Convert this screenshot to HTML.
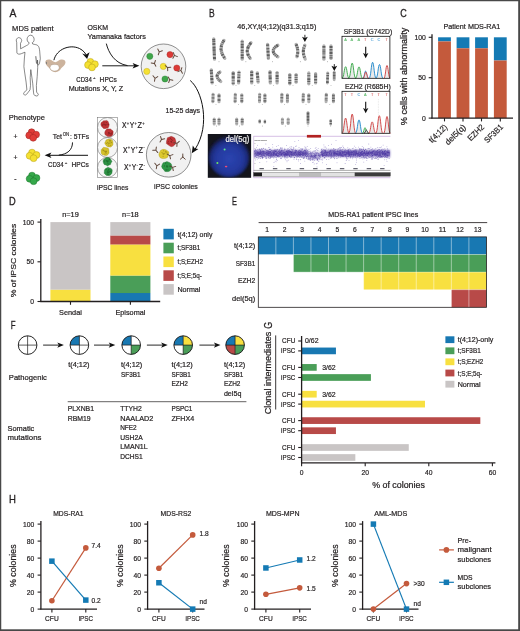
<!DOCTYPE html>
<html><head><meta charset="utf-8"><title>Figure</title>
<style>
html,body{margin:0;padding:0;background:#fff;}
body{width:520px;height:631px;overflow:hidden;font-family:"Liberation Sans",sans-serif;}
svg{display:block;font-family:"Liberation Sans",sans-serif;}
</style></head><body>
<svg width="520" height="631" viewBox="0 0 520 631">
<defs>
<filter id="b0" x="-20%" y="-20%" width="140%" height="140%"><feGaussianBlur stdDeviation="0.48"/></filter>
<filter id="b1" x="-20%" y="-20%" width="140%" height="140%"><feGaussianBlur stdDeviation="0.45"/></filter>
<filter id="b2" x="-20%" y="-20%" width="140%" height="140%"><feGaussianBlur stdDeviation="0.8"/></filter>
<filter id="b3" x="-20%" y="-20%" width="140%" height="140%"><feGaussianBlur stdDeviation="3"/></filter>
<radialGradient id="nuc" cx="50%" cy="55%" r="50%"><stop offset="0" stop-color="#2b45b0"/><stop offset="0.65" stop-color="#24389e"/><stop offset="0.9" stop-color="#1b2a7a"/><stop offset="1" stop-color="#151a44"/></radialGradient>
<marker id="ah" viewBox="0 0 10 10" refX="8" refY="5" markerWidth="7" markerHeight="7" orient="auto-start-reverse" markerUnits="userSpaceOnUse"><path d="M0,1 L10,5 L0,9 L2.5,5 z" fill="#111"/></marker>
</defs>
<rect x="0.00" y="0.00" width="520.00" height="631.00" fill="#ffffff"/>
<text x="9.40" y="16.72" font-size="11.3" textLength="6.90" lengthAdjust="spacingAndGlyphs" fill="#231f20" stroke="#231f20" stroke-width="0.31">A</text>
<text x="208.90" y="16.52" font-size="11.3" textLength="5.70" lengthAdjust="spacingAndGlyphs" fill="#231f20" stroke="#231f20" stroke-width="0.31">B</text>
<text x="400.20" y="16.72" font-size="11.3" textLength="6.50" lengthAdjust="spacingAndGlyphs" fill="#231f20" stroke="#231f20" stroke-width="0.31">C</text>
<text x="8.90" y="204.62" font-size="11.3" textLength="6.70" lengthAdjust="spacingAndGlyphs" fill="#231f20" stroke="#231f20" stroke-width="0.31">D</text>
<text x="232.10" y="204.62" font-size="11.3" textLength="4.90" lengthAdjust="spacingAndGlyphs" fill="#231f20" stroke="#231f20" stroke-width="0.31">E</text>
<text x="10.70" y="329.02" font-size="11.3" textLength="4.80" lengthAdjust="spacingAndGlyphs" fill="#231f20" stroke="#231f20" stroke-width="0.31">F</text>
<text x="268.20" y="329.02" font-size="11.3" text-anchor="middle" textLength="6.90" lengthAdjust="spacingAndGlyphs" fill="#231f20" stroke="#231f20" stroke-width="0.31" transform="rotate(-90 268.20 325.40)">G</text>
<text x="8.90" y="503.32" font-size="11.3" textLength="6.90" lengthAdjust="spacingAndGlyphs" fill="#231f20" stroke="#231f20" stroke-width="0.31">H</text>
<rect x="438.10" y="37.30" width="12.80" height="4.12" fill="#147ab4"/>
<rect x="438.10" y="41.42" width="12.80" height="76.68" fill="#c45a3c"/>
<rect x="456.60" y="37.30" width="12.80" height="10.99" fill="#147ab4"/>
<rect x="456.60" y="48.29" width="12.80" height="69.81" fill="#c45a3c"/>
<rect x="475.10" y="37.30" width="12.80" height="10.99" fill="#147ab4"/>
<rect x="475.10" y="48.29" width="12.80" height="69.81" fill="#c45a3c"/>
<rect x="493.90" y="37.30" width="12.80" height="23.19" fill="#147ab4"/>
<rect x="493.90" y="60.49" width="12.80" height="57.61" fill="#c45a3c"/>
<line x1="432.00" y1="34.20" x2="432.00" y2="118.60" stroke="#231f20" stroke-width="1.3"/>
<line x1="431.50" y1="118.10" x2="513.00" y2="118.10" stroke="#231f20" stroke-width="1.3"/>
<line x1="428.70" y1="118.10" x2="432.00" y2="118.10" stroke="#231f20" stroke-width="1.1"/>
<text x="425.80" y="120.69" font-size="8.1" text-anchor="end" textLength="3.80" lengthAdjust="spacingAndGlyphs" fill="#231f20" stroke="#231f20" stroke-width="0.22">0</text>
<line x1="428.70" y1="77.70" x2="432.00" y2="77.70" stroke="#231f20" stroke-width="1.1"/>
<text x="425.80" y="80.29" font-size="8.1" text-anchor="end" textLength="7.60" lengthAdjust="spacingAndGlyphs" fill="#231f20" stroke="#231f20" stroke-width="0.22">50</text>
<line x1="428.70" y1="37.30" x2="432.00" y2="37.30" stroke="#231f20" stroke-width="1.1"/>
<text x="425.80" y="39.89" font-size="8.1" text-anchor="end" textLength="11.40" lengthAdjust="spacingAndGlyphs" fill="#231f20" stroke="#231f20" stroke-width="0.22">100</text>
<line x1="444.50" y1="118.10" x2="444.50" y2="121.40" stroke="#231f20" stroke-width="1.1"/>
<text x="447.80" y="127.60" font-size="8.3" text-anchor="end" textLength="22.20" lengthAdjust="spacingAndGlyphs" fill="#231f20" stroke="#231f20" stroke-width="0.2" transform="rotate(-45 447.80 127.60)">t(4;12)</text>
<line x1="463.00" y1="118.10" x2="463.00" y2="121.40" stroke="#231f20" stroke-width="1.1"/>
<text x="466.30" y="127.60" font-size="8.3" text-anchor="end" textLength="25.40" lengthAdjust="spacingAndGlyphs" fill="#231f20" stroke="#231f20" stroke-width="0.2" transform="rotate(-45 466.30 127.60)">del5(q)</text>
<line x1="481.50" y1="118.10" x2="481.50" y2="121.40" stroke="#231f20" stroke-width="1.1"/>
<text x="484.80" y="127.60" font-size="8.3" text-anchor="end" textLength="19.80" lengthAdjust="spacingAndGlyphs" fill="#231f20" stroke="#231f20" stroke-width="0.2" transform="rotate(-45 484.80 127.60)">EZH2</text>
<line x1="500.30" y1="118.10" x2="500.30" y2="121.40" stroke="#231f20" stroke-width="1.1"/>
<text x="503.60" y="127.60" font-size="8.3" text-anchor="end" textLength="22.60" lengthAdjust="spacingAndGlyphs" fill="#231f20" stroke="#231f20" stroke-width="0.2" transform="rotate(-45 503.60 127.60)">SF3B1</text>
<text x="471.90" y="29.02" font-size="7.56" text-anchor="middle" textLength="57.00" lengthAdjust="spacingAndGlyphs" fill="#231f20" stroke="#231f20" stroke-width="0.21">Patient MDS-RA1</text>
<text x="404.60" y="79.25" font-size="8.6" text-anchor="middle" textLength="97.50" lengthAdjust="spacingAndGlyphs" fill="#231f20" stroke="#231f20" stroke-width="0.24" transform="rotate(-90 404.60 76.50)">% cells with abnormality</text>
<rect x="50.40" y="289.59" width="40.10" height="11.96" fill="#f8e040"/>
<rect x="50.40" y="222.10" width="40.10" height="67.54" fill="#c9c5c5"/>
<rect x="110.30" y="293.00" width="40.10" height="8.55" fill="#1878b2"/>
<rect x="110.30" y="275.54" width="40.10" height="17.52" fill="#4a9e58"/>
<rect x="110.30" y="244.41" width="40.10" height="31.17" fill="#f8e040"/>
<rect x="110.30" y="235.44" width="40.10" height="9.02" fill="#b84a48"/>
<rect x="110.30" y="222.10" width="40.10" height="13.39" fill="#c9c5c5"/>
<line x1="40.80" y1="218.90" x2="40.80" y2="302.00" stroke="#231f20" stroke-width="1.3"/>
<line x1="40.30" y1="301.50" x2="160.20" y2="301.50" stroke="#231f20" stroke-width="1.3"/>
<line x1="37.50" y1="301.50" x2="40.80" y2="301.50" stroke="#231f20" stroke-width="1.1"/>
<text x="34.10" y="304.09" font-size="8.1" text-anchor="end" textLength="3.75" lengthAdjust="spacingAndGlyphs" fill="#231f20" stroke="#231f20" stroke-width="0.22">0</text>
<line x1="37.50" y1="261.80" x2="40.80" y2="261.80" stroke="#231f20" stroke-width="1.1"/>
<text x="34.10" y="264.39" font-size="8.1" text-anchor="end" textLength="7.50" lengthAdjust="spacingAndGlyphs" fill="#231f20" stroke="#231f20" stroke-width="0.22">50</text>
<line x1="37.50" y1="222.10" x2="40.80" y2="222.10" stroke="#231f20" stroke-width="1.1"/>
<text x="34.10" y="224.69" font-size="8.1" text-anchor="end" textLength="11.25" lengthAdjust="spacingAndGlyphs" fill="#231f20" stroke="#231f20" stroke-width="0.22">100</text>
<line x1="70.50" y1="301.50" x2="70.50" y2="304.80" stroke="#231f20" stroke-width="1.1"/>
<text x="70.50" y="314.65" font-size="7.668" text-anchor="middle" textLength="22.80" lengthAdjust="spacingAndGlyphs" fill="#231f20" stroke="#231f20" stroke-width="0.21">Sendai</text>
<text x="70.50" y="217.02" font-size="7.56" text-anchor="middle" textLength="16.60" lengthAdjust="spacingAndGlyphs" fill="#231f20" stroke="#231f20" stroke-width="0.21">n=19</text>
<line x1="130.40" y1="301.50" x2="130.40" y2="304.80" stroke="#231f20" stroke-width="1.1"/>
<text x="130.40" y="314.65" font-size="7.668" text-anchor="middle" textLength="30.00" lengthAdjust="spacingAndGlyphs" fill="#231f20" stroke="#231f20" stroke-width="0.21">Episomal</text>
<text x="130.40" y="217.02" font-size="7.56" text-anchor="middle" textLength="16.60" lengthAdjust="spacingAndGlyphs" fill="#231f20" stroke="#231f20" stroke-width="0.21">n=18</text>
<text x="13.20" y="262.93" font-size="7.6" text-anchor="middle" textLength="73.50" lengthAdjust="spacingAndGlyphs" fill="#231f20" stroke="#231f20" stroke-width="0.21" transform="rotate(-90 13.20 260.50)">% of iPSC colonies</text>
<rect x="163.40" y="228.80" width="10.40" height="10.60" fill="#1878b2"/>
<text x="177.40" y="236.55" font-size="7.668" textLength="35.00" lengthAdjust="spacingAndGlyphs" fill="#231f20" stroke="#231f20" stroke-width="0.21">t(4;12) only</text>
<rect x="163.40" y="242.70" width="10.40" height="10.60" fill="#4a9e58"/>
<text x="177.40" y="250.45" font-size="7.668" textLength="23.00" lengthAdjust="spacingAndGlyphs" fill="#231f20" stroke="#231f20" stroke-width="0.21">t;SF3B1</text>
<rect x="163.40" y="256.50" width="10.40" height="10.60" fill="#f8e040"/>
<text x="177.40" y="264.25" font-size="7.668" textLength="25.50" lengthAdjust="spacingAndGlyphs" fill="#231f20" stroke="#231f20" stroke-width="0.21">t;S;EZH2</text>
<rect x="163.40" y="270.30" width="10.40" height="10.60" fill="#b84a48"/>
<text x="177.40" y="278.05" font-size="7.668" textLength="24.50" lengthAdjust="spacingAndGlyphs" fill="#231f20" stroke="#231f20" stroke-width="0.21">t;S;E;5q-</text>
<rect x="163.40" y="284.10" width="10.40" height="10.60" fill="#c9c5c5"/>
<text x="177.40" y="291.85" font-size="7.668" textLength="23.00" lengthAdjust="spacingAndGlyphs" fill="#231f20" stroke="#231f20" stroke-width="0.21">Normal</text>
<rect x="258.30" y="236.90" width="228.15" height="17.60" fill="#1878b2"/>
<text x="255.20" y="248.15" font-size="7.668" text-anchor="end" textLength="21.30" lengthAdjust="spacingAndGlyphs" fill="#231f20" stroke="#231f20" stroke-width="0.21">t(4;12)</text>
<rect x="293.40" y="254.50" width="193.05" height="17.60" fill="#4a9e58"/>
<text x="255.20" y="265.75" font-size="7.668" text-anchor="end" textLength="19.50" lengthAdjust="spacingAndGlyphs" fill="#231f20" stroke="#231f20" stroke-width="0.21">SF3B1</text>
<rect x="363.60" y="272.10" width="122.85" height="17.60" fill="#f8e040"/>
<text x="255.20" y="283.35" font-size="7.668" text-anchor="end" textLength="17.30" lengthAdjust="spacingAndGlyphs" fill="#231f20" stroke="#231f20" stroke-width="0.21">EZH2</text>
<rect x="451.35" y="289.70" width="35.10" height="17.60" fill="#b84a48"/>
<text x="255.20" y="300.95" font-size="7.668" text-anchor="end" textLength="23.20" lengthAdjust="spacingAndGlyphs" fill="#231f20" stroke="#231f20" stroke-width="0.21">del(5q)</text>
<line x1="275.85" y1="236.90" x2="275.85" y2="307.30" stroke="#ffffff" stroke-width="0.55" stroke-opacity="0.85"/>
<line x1="293.40" y1="236.90" x2="293.40" y2="307.30" stroke="#ffffff" stroke-width="0.55" stroke-opacity="0.85"/>
<line x1="310.95" y1="236.90" x2="310.95" y2="307.30" stroke="#ffffff" stroke-width="0.55" stroke-opacity="0.85"/>
<line x1="328.50" y1="236.90" x2="328.50" y2="307.30" stroke="#ffffff" stroke-width="0.55" stroke-opacity="0.85"/>
<line x1="346.05" y1="236.90" x2="346.05" y2="307.30" stroke="#ffffff" stroke-width="0.55" stroke-opacity="0.85"/>
<line x1="363.60" y1="236.90" x2="363.60" y2="307.30" stroke="#ffffff" stroke-width="0.55" stroke-opacity="0.85"/>
<line x1="381.15" y1="236.90" x2="381.15" y2="307.30" stroke="#ffffff" stroke-width="0.55" stroke-opacity="0.85"/>
<line x1="398.70" y1="236.90" x2="398.70" y2="307.30" stroke="#ffffff" stroke-width="0.55" stroke-opacity="0.85"/>
<line x1="416.25" y1="236.90" x2="416.25" y2="307.30" stroke="#ffffff" stroke-width="0.55" stroke-opacity="0.85"/>
<line x1="433.80" y1="236.90" x2="433.80" y2="307.30" stroke="#ffffff" stroke-width="0.55" stroke-opacity="0.85"/>
<line x1="451.35" y1="236.90" x2="451.35" y2="307.30" stroke="#ffffff" stroke-width="0.55" stroke-opacity="0.85"/>
<line x1="468.90" y1="236.90" x2="468.90" y2="307.30" stroke="#ffffff" stroke-width="0.55" stroke-opacity="0.85"/>
<line x1="258.30" y1="254.50" x2="486.45" y2="254.50" stroke="#ffffff" stroke-width="0.45" stroke-opacity="0.7"/>
<line x1="258.30" y1="272.10" x2="486.45" y2="272.10" stroke="#ffffff" stroke-width="0.45" stroke-opacity="0.7"/>
<line x1="258.30" y1="289.70" x2="486.45" y2="289.70" stroke="#ffffff" stroke-width="0.45" stroke-opacity="0.7"/>
<rect x="258.30" y="236.90" width="228.15" height="70.40" fill="none" stroke="#231f20" stroke-width="0.8"/>
<line x1="258.60" y1="222.60" x2="487.20" y2="222.60" stroke="#231f20" stroke-width="0.85"/>
<text x="267.07" y="232.29" font-size="8.1" text-anchor="middle" textLength="3.75" lengthAdjust="spacingAndGlyphs" fill="#231f20" stroke="#231f20" stroke-width="0.22">1</text>
<text x="284.62" y="232.29" font-size="8.1" text-anchor="middle" textLength="3.75" lengthAdjust="spacingAndGlyphs" fill="#231f20" stroke="#231f20" stroke-width="0.22">2</text>
<text x="302.18" y="232.29" font-size="8.1" text-anchor="middle" textLength="3.75" lengthAdjust="spacingAndGlyphs" fill="#231f20" stroke="#231f20" stroke-width="0.22">3</text>
<text x="319.73" y="232.29" font-size="8.1" text-anchor="middle" textLength="3.75" lengthAdjust="spacingAndGlyphs" fill="#231f20" stroke="#231f20" stroke-width="0.22">4</text>
<text x="337.28" y="232.29" font-size="8.1" text-anchor="middle" textLength="3.75" lengthAdjust="spacingAndGlyphs" fill="#231f20" stroke="#231f20" stroke-width="0.22">5</text>
<text x="354.83" y="232.29" font-size="8.1" text-anchor="middle" textLength="3.75" lengthAdjust="spacingAndGlyphs" fill="#231f20" stroke="#231f20" stroke-width="0.22">6</text>
<text x="372.38" y="232.29" font-size="8.1" text-anchor="middle" textLength="3.75" lengthAdjust="spacingAndGlyphs" fill="#231f20" stroke="#231f20" stroke-width="0.22">7</text>
<text x="389.93" y="232.29" font-size="8.1" text-anchor="middle" textLength="3.75" lengthAdjust="spacingAndGlyphs" fill="#231f20" stroke="#231f20" stroke-width="0.22">8</text>
<text x="407.48" y="232.29" font-size="8.1" text-anchor="middle" textLength="3.75" lengthAdjust="spacingAndGlyphs" fill="#231f20" stroke="#231f20" stroke-width="0.22">9</text>
<text x="425.02" y="232.29" font-size="8.1" text-anchor="middle" textLength="7.50" lengthAdjust="spacingAndGlyphs" fill="#231f20" stroke="#231f20" stroke-width="0.22">10</text>
<text x="442.58" y="232.29" font-size="8.1" text-anchor="middle" textLength="7.50" lengthAdjust="spacingAndGlyphs" fill="#231f20" stroke="#231f20" stroke-width="0.22">11</text>
<text x="460.12" y="232.29" font-size="8.1" text-anchor="middle" textLength="7.50" lengthAdjust="spacingAndGlyphs" fill="#231f20" stroke="#231f20" stroke-width="0.22">12</text>
<text x="477.68" y="232.29" font-size="8.1" text-anchor="middle" textLength="7.50" lengthAdjust="spacingAndGlyphs" fill="#231f20" stroke="#231f20" stroke-width="0.22">13</text>
<text x="373.30" y="217.32" font-size="7.884" text-anchor="middle" textLength="90.00" lengthAdjust="spacingAndGlyphs" fill="#231f20" stroke="#231f20" stroke-width="0.22">MDS-RA1 patient iPSC lines</text>
<line x1="298.20" y1="341.00" x2="301.60" y2="341.00" stroke="#231f20" stroke-width="1.1"/>
<text x="295.30" y="343.45" font-size="7.668" text-anchor="end" textLength="13.20" lengthAdjust="spacingAndGlyphs" fill="#231f20" stroke="#231f20" stroke-width="0.21">CFU</text>
<rect x="301.60" y="347.55" width="34.34" height="6.70" fill="#1878b2"/>
<line x1="298.20" y1="350.90" x2="301.60" y2="350.90" stroke="#231f20" stroke-width="1.1"/>
<text x="295.30" y="353.35" font-size="7.668" text-anchor="end" textLength="14.20" lengthAdjust="spacingAndGlyphs" fill="#231f20" stroke="#231f20" stroke-width="0.21">iPSC</text>
<rect x="301.60" y="364.05" width="15.11" height="6.70" fill="#4a9e58"/>
<line x1="298.20" y1="367.40" x2="301.60" y2="367.40" stroke="#231f20" stroke-width="1.1"/>
<text x="295.30" y="369.85" font-size="7.668" text-anchor="end" textLength="13.20" lengthAdjust="spacingAndGlyphs" fill="#231f20" stroke="#231f20" stroke-width="0.21">CFU</text>
<rect x="301.60" y="374.15" width="69.32" height="6.70" fill="#4a9e58"/>
<line x1="298.20" y1="377.50" x2="301.60" y2="377.50" stroke="#231f20" stroke-width="1.1"/>
<text x="295.30" y="379.95" font-size="7.668" text-anchor="end" textLength="14.20" lengthAdjust="spacingAndGlyphs" fill="#231f20" stroke="#231f20" stroke-width="0.21">iPSC</text>
<rect x="301.60" y="390.85" width="15.11" height="6.70" fill="#f8e040"/>
<line x1="298.20" y1="394.20" x2="301.60" y2="394.20" stroke="#231f20" stroke-width="1.1"/>
<text x="295.30" y="396.65" font-size="7.668" text-anchor="end" textLength="13.20" lengthAdjust="spacingAndGlyphs" fill="#231f20" stroke="#231f20" stroke-width="0.21">CFU</text>
<rect x="301.60" y="400.75" width="123.38" height="6.70" fill="#f8e040"/>
<line x1="298.20" y1="404.10" x2="301.60" y2="404.10" stroke="#231f20" stroke-width="1.1"/>
<text x="295.30" y="406.55" font-size="7.668" text-anchor="end" textLength="14.20" lengthAdjust="spacingAndGlyphs" fill="#231f20" stroke="#231f20" stroke-width="0.21">iPSC</text>
<rect x="301.60" y="417.25" width="178.72" height="6.70" fill="#b84a48"/>
<line x1="298.20" y1="420.60" x2="301.60" y2="420.60" stroke="#231f20" stroke-width="1.1"/>
<text x="295.30" y="423.05" font-size="7.668" text-anchor="end" textLength="13.20" lengthAdjust="spacingAndGlyphs" fill="#231f20" stroke="#231f20" stroke-width="0.21">CFU</text>
<rect x="301.60" y="427.35" width="34.34" height="6.70" fill="#b84a48"/>
<line x1="298.20" y1="430.70" x2="301.60" y2="430.70" stroke="#231f20" stroke-width="1.1"/>
<text x="295.30" y="433.15" font-size="7.668" text-anchor="end" textLength="14.20" lengthAdjust="spacingAndGlyphs" fill="#231f20" stroke="#231f20" stroke-width="0.21">iPSC</text>
<rect x="301.60" y="444.15" width="107.17" height="6.70" fill="#c9c5c5"/>
<line x1="298.20" y1="447.50" x2="301.60" y2="447.50" stroke="#231f20" stroke-width="1.1"/>
<text x="295.30" y="449.95" font-size="7.668" text-anchor="end" textLength="13.20" lengthAdjust="spacingAndGlyphs" fill="#231f20" stroke="#231f20" stroke-width="0.21">CFU</text>
<rect x="301.60" y="454.15" width="53.74" height="6.70" fill="#c9c5c5"/>
<line x1="298.20" y1="457.50" x2="301.60" y2="457.50" stroke="#231f20" stroke-width="1.1"/>
<text x="295.30" y="459.95" font-size="7.668" text-anchor="end" textLength="14.20" lengthAdjust="spacingAndGlyphs" fill="#231f20" stroke="#231f20" stroke-width="0.21">iPSC</text>
<line x1="301.60" y1="336.00" x2="301.60" y2="463.40" stroke="#231f20" stroke-width="1.3"/>
<line x1="301.10" y1="462.90" x2="495.40" y2="462.90" stroke="#231f20" stroke-width="1.3"/>
<line x1="301.60" y1="462.90" x2="301.60" y2="466.20" stroke="#231f20" stroke-width="1.1"/>
<text x="301.60" y="474.79" font-size="8.1" text-anchor="middle" textLength="3.75" lengthAdjust="spacingAndGlyphs" fill="#231f20" stroke="#231f20" stroke-width="0.22">0</text>
<line x1="365.20" y1="462.90" x2="365.20" y2="466.20" stroke="#231f20" stroke-width="1.1"/>
<text x="365.20" y="474.79" font-size="8.1" text-anchor="middle" textLength="7.50" lengthAdjust="spacingAndGlyphs" fill="#231f20" stroke="#231f20" stroke-width="0.22">20</text>
<line x1="428.80" y1="462.90" x2="428.80" y2="466.20" stroke="#231f20" stroke-width="1.1"/>
<text x="428.80" y="474.79" font-size="8.1" text-anchor="middle" textLength="7.50" lengthAdjust="spacingAndGlyphs" fill="#231f20" stroke="#231f20" stroke-width="0.22">40</text>
<line x1="492.40" y1="462.90" x2="492.40" y2="466.20" stroke="#231f20" stroke-width="1.1"/>
<text x="492.40" y="474.79" font-size="8.1" text-anchor="middle" textLength="7.50" lengthAdjust="spacingAndGlyphs" fill="#231f20" stroke="#231f20" stroke-width="0.22">60</text>
<text x="305.00" y="343.35" font-size="7.344" textLength="13.50" lengthAdjust="spacingAndGlyphs" fill="#231f20" stroke="#231f20" stroke-width="0.20">0/62</text>
<text x="322.20" y="369.75" font-size="7.344" textLength="13.50" lengthAdjust="spacingAndGlyphs" fill="#231f20" stroke="#231f20" stroke-width="0.20">3/62</text>
<text x="322.20" y="396.55" font-size="7.344" textLength="13.50" lengthAdjust="spacingAndGlyphs" fill="#231f20" stroke="#231f20" stroke-width="0.20">3/62</text>
<text x="398.50" y="487.63" font-size="8.208" text-anchor="middle" textLength="52.70" lengthAdjust="spacingAndGlyphs" fill="#231f20" stroke="#231f20" stroke-width="0.22">% of colonies</text>
<text x="268.80" y="375.62" font-size="8.2" text-anchor="middle" textLength="82.50" lengthAdjust="spacingAndGlyphs" fill="#231f20" stroke="#231f20" stroke-width="0.22" transform="rotate(-90 268.80 373.00)">Clonal intermediates</text>
<line x1="275.70" y1="335.40" x2="275.70" y2="409.50" stroke="#231f20" stroke-width="0.9"/>
<rect x="445.40" y="336.30" width="9.00" height="6.80" fill="#1878b2"/>
<text x="457.70" y="342.25" font-size="7.668" textLength="35.60" lengthAdjust="spacingAndGlyphs" fill="#231f20" stroke="#231f20" stroke-width="0.21">t(4;12)-only</text>
<rect x="445.40" y="347.40" width="9.00" height="6.80" fill="#4a9e58"/>
<text x="457.70" y="353.35" font-size="7.668" textLength="23.00" lengthAdjust="spacingAndGlyphs" fill="#231f20" stroke="#231f20" stroke-width="0.21">t;SF3B1</text>
<rect x="445.40" y="358.40" width="9.00" height="6.80" fill="#f8e040"/>
<text x="457.70" y="364.35" font-size="7.668" textLength="25.50" lengthAdjust="spacingAndGlyphs" fill="#231f20" stroke="#231f20" stroke-width="0.21">t;S;EZH2</text>
<rect x="445.40" y="369.60" width="9.00" height="6.80" fill="#b84a48"/>
<text x="457.70" y="375.55" font-size="7.668" textLength="24.50" lengthAdjust="spacingAndGlyphs" fill="#231f20" stroke="#231f20" stroke-width="0.21">t;S;E;5q-</text>
<rect x="445.40" y="380.80" width="9.00" height="6.80" fill="#c9c5c5"/>
<text x="457.70" y="386.75" font-size="7.668" textLength="23.00" lengthAdjust="spacingAndGlyphs" fill="#231f20" stroke="#231f20" stroke-width="0.21">Normal</text>
<line x1="40.90" y1="521.10" x2="40.90" y2="609.60" stroke="#231f20" stroke-width="1.3"/>
<line x1="40.40" y1="609.10" x2="97.00" y2="609.10" stroke="#231f20" stroke-width="1.3"/>
<line x1="37.60" y1="609.10" x2="40.90" y2="609.10" stroke="#231f20" stroke-width="1.1"/>
<text x="34.30" y="611.69" font-size="8.1" text-anchor="end" textLength="3.75" lengthAdjust="spacingAndGlyphs" fill="#231f20" stroke="#231f20" stroke-width="0.22">0</text>
<line x1="37.60" y1="592.10" x2="40.90" y2="592.10" stroke="#231f20" stroke-width="1.1"/>
<text x="34.30" y="594.69" font-size="8.1" text-anchor="end" textLength="7.50" lengthAdjust="spacingAndGlyphs" fill="#231f20" stroke="#231f20" stroke-width="0.22">20</text>
<line x1="37.60" y1="575.10" x2="40.90" y2="575.10" stroke="#231f20" stroke-width="1.1"/>
<text x="34.30" y="577.69" font-size="8.1" text-anchor="end" textLength="7.50" lengthAdjust="spacingAndGlyphs" fill="#231f20" stroke="#231f20" stroke-width="0.22">40</text>
<line x1="37.60" y1="558.10" x2="40.90" y2="558.10" stroke="#231f20" stroke-width="1.1"/>
<text x="34.30" y="560.69" font-size="8.1" text-anchor="end" textLength="7.50" lengthAdjust="spacingAndGlyphs" fill="#231f20" stroke="#231f20" stroke-width="0.22">60</text>
<line x1="37.60" y1="541.10" x2="40.90" y2="541.10" stroke="#231f20" stroke-width="1.1"/>
<text x="34.30" y="543.69" font-size="8.1" text-anchor="end" textLength="7.50" lengthAdjust="spacingAndGlyphs" fill="#231f20" stroke="#231f20" stroke-width="0.22">80</text>
<line x1="37.60" y1="524.10" x2="40.90" y2="524.10" stroke="#231f20" stroke-width="1.1"/>
<text x="34.30" y="526.69" font-size="8.1" text-anchor="end" textLength="11.25" lengthAdjust="spacingAndGlyphs" fill="#231f20" stroke="#231f20" stroke-width="0.22">100</text>
<line x1="51.90" y1="609.10" x2="51.90" y2="612.40" stroke="#231f20" stroke-width="1.1"/>
<text x="51.90" y="621.45" font-size="7.668" text-anchor="middle" textLength="13.60" lengthAdjust="spacingAndGlyphs" fill="#231f20" stroke="#231f20" stroke-width="0.21">CFU</text>
<line x1="85.80" y1="609.10" x2="85.80" y2="612.40" stroke="#231f20" stroke-width="1.1"/>
<text x="85.80" y="621.45" font-size="7.668" text-anchor="middle" textLength="14.30" lengthAdjust="spacingAndGlyphs" fill="#231f20" stroke="#231f20" stroke-width="0.21">iPSC</text>
<text x="68.40" y="516.02" font-size="7.56" text-anchor="middle" textLength="30.30" lengthAdjust="spacingAndGlyphs" fill="#231f20" stroke="#231f20" stroke-width="0.21">MDS-RA1</text>
<text x="13.20" y="568.32" font-size="8.2" text-anchor="middle" textLength="42.60" lengthAdjust="spacingAndGlyphs" fill="#231f20" stroke="#231f20" stroke-width="0.22" transform="rotate(-90 13.20 565.70)">% colonies</text>
<line x1="51.90" y1="600.77" x2="85.80" y2="547.90" stroke="#c45a3c" stroke-width="1.2"/>
<line x1="51.90" y1="561.16" x2="85.80" y2="600.09" stroke="#147ab4" stroke-width="1.2"/>
<rect x="49.15" y="558.41" width="5.50" height="5.50" fill="#147ab4"/>
<rect x="83.05" y="597.34" width="5.50" height="5.50" fill="#147ab4"/>
<circle cx="51.90" cy="600.77" r="2.80" fill="#c45a3c"/>
<circle cx="85.80" cy="547.90" r="2.80" fill="#c45a3c"/>
<text x="91.60" y="548.25" font-size="7.344" textLength="9.17" lengthAdjust="spacingAndGlyphs" fill="#231f20" stroke="#231f20" stroke-width="0.20">7.4</text>
<text x="91.60" y="603.35" font-size="7.344" textLength="9.17" lengthAdjust="spacingAndGlyphs" fill="#231f20" stroke="#231f20" stroke-width="0.20">0.2</text>
<line x1="147.60" y1="521.10" x2="147.60" y2="609.60" stroke="#231f20" stroke-width="1.3"/>
<line x1="147.10" y1="609.10" x2="204.50" y2="609.10" stroke="#231f20" stroke-width="1.3"/>
<line x1="144.30" y1="609.10" x2="147.60" y2="609.10" stroke="#231f20" stroke-width="1.1"/>
<text x="141.00" y="611.69" font-size="8.1" text-anchor="end" textLength="3.75" lengthAdjust="spacingAndGlyphs" fill="#231f20" stroke="#231f20" stroke-width="0.22">0</text>
<line x1="144.30" y1="592.10" x2="147.60" y2="592.10" stroke="#231f20" stroke-width="1.1"/>
<text x="141.00" y="594.69" font-size="8.1" text-anchor="end" textLength="7.50" lengthAdjust="spacingAndGlyphs" fill="#231f20" stroke="#231f20" stroke-width="0.22">20</text>
<line x1="144.30" y1="575.10" x2="147.60" y2="575.10" stroke="#231f20" stroke-width="1.1"/>
<text x="141.00" y="577.69" font-size="8.1" text-anchor="end" textLength="7.50" lengthAdjust="spacingAndGlyphs" fill="#231f20" stroke="#231f20" stroke-width="0.22">40</text>
<line x1="144.30" y1="558.10" x2="147.60" y2="558.10" stroke="#231f20" stroke-width="1.1"/>
<text x="141.00" y="560.69" font-size="8.1" text-anchor="end" textLength="7.50" lengthAdjust="spacingAndGlyphs" fill="#231f20" stroke="#231f20" stroke-width="0.22">60</text>
<line x1="144.30" y1="541.10" x2="147.60" y2="541.10" stroke="#231f20" stroke-width="1.1"/>
<text x="141.00" y="543.69" font-size="8.1" text-anchor="end" textLength="7.50" lengthAdjust="spacingAndGlyphs" fill="#231f20" stroke="#231f20" stroke-width="0.22">80</text>
<line x1="144.30" y1="524.10" x2="147.60" y2="524.10" stroke="#231f20" stroke-width="1.1"/>
<text x="141.00" y="526.69" font-size="8.1" text-anchor="end" textLength="11.25" lengthAdjust="spacingAndGlyphs" fill="#231f20" stroke="#231f20" stroke-width="0.22">100</text>
<line x1="158.90" y1="609.10" x2="158.90" y2="612.40" stroke="#231f20" stroke-width="1.1"/>
<text x="158.90" y="621.45" font-size="7.668" text-anchor="middle" textLength="13.60" lengthAdjust="spacingAndGlyphs" fill="#231f20" stroke="#231f20" stroke-width="0.21">CFU</text>
<line x1="192.70" y1="609.10" x2="192.70" y2="612.40" stroke="#231f20" stroke-width="1.1"/>
<text x="192.70" y="621.45" font-size="7.668" text-anchor="middle" textLength="14.30" lengthAdjust="spacingAndGlyphs" fill="#231f20" stroke="#231f20" stroke-width="0.21">iPSC</text>
<text x="175.90" y="516.02" font-size="7.56" text-anchor="middle" textLength="30.60" lengthAdjust="spacingAndGlyphs" fill="#231f20" stroke="#231f20" stroke-width="0.21">MDS-RS2</text>
<text x="120.00" y="568.32" font-size="8.2" text-anchor="middle" textLength="42.60" lengthAdjust="spacingAndGlyphs" fill="#231f20" stroke="#231f20" stroke-width="0.22" transform="rotate(-90 120.00 565.70)">% colonies</text>
<line x1="158.90" y1="568.30" x2="192.70" y2="534.89" stroke="#c45a3c" stroke-width="1.2"/>
<line x1="158.90" y1="582.75" x2="192.70" y2="609.10" stroke="#147ab4" stroke-width="1.2"/>
<rect x="156.15" y="580.00" width="5.50" height="5.50" fill="#147ab4"/>
<rect x="189.95" y="606.35" width="5.50" height="5.50" fill="#147ab4"/>
<circle cx="158.90" cy="568.30" r="2.80" fill="#c45a3c"/>
<circle cx="192.70" cy="534.89" r="2.80" fill="#c45a3c"/>
<text x="199.50" y="535.55" font-size="7.344" textLength="9.17" lengthAdjust="spacingAndGlyphs" fill="#231f20" stroke="#231f20" stroke-width="0.20">1.8</text>
<text x="199.50" y="603.65" font-size="7.344" textLength="7.34" lengthAdjust="spacingAndGlyphs" fill="#231f20" stroke="#231f20" stroke-width="0.20">nd</text>
<line x1="254.60" y1="521.10" x2="254.60" y2="609.60" stroke="#231f20" stroke-width="1.3"/>
<line x1="254.10" y1="609.10" x2="311.00" y2="609.10" stroke="#231f20" stroke-width="1.3"/>
<line x1="251.30" y1="609.10" x2="254.60" y2="609.10" stroke="#231f20" stroke-width="1.1"/>
<text x="248.00" y="611.69" font-size="8.1" text-anchor="end" textLength="3.75" lengthAdjust="spacingAndGlyphs" fill="#231f20" stroke="#231f20" stroke-width="0.22">0</text>
<line x1="251.30" y1="592.10" x2="254.60" y2="592.10" stroke="#231f20" stroke-width="1.1"/>
<text x="248.00" y="594.69" font-size="8.1" text-anchor="end" textLength="7.50" lengthAdjust="spacingAndGlyphs" fill="#231f20" stroke="#231f20" stroke-width="0.22">20</text>
<line x1="251.30" y1="575.10" x2="254.60" y2="575.10" stroke="#231f20" stroke-width="1.1"/>
<text x="248.00" y="577.69" font-size="8.1" text-anchor="end" textLength="7.50" lengthAdjust="spacingAndGlyphs" fill="#231f20" stroke="#231f20" stroke-width="0.22">40</text>
<line x1="251.30" y1="558.10" x2="254.60" y2="558.10" stroke="#231f20" stroke-width="1.1"/>
<text x="248.00" y="560.69" font-size="8.1" text-anchor="end" textLength="7.50" lengthAdjust="spacingAndGlyphs" fill="#231f20" stroke="#231f20" stroke-width="0.22">60</text>
<line x1="251.30" y1="541.10" x2="254.60" y2="541.10" stroke="#231f20" stroke-width="1.1"/>
<text x="248.00" y="543.69" font-size="8.1" text-anchor="end" textLength="7.50" lengthAdjust="spacingAndGlyphs" fill="#231f20" stroke="#231f20" stroke-width="0.22">80</text>
<line x1="251.30" y1="524.10" x2="254.60" y2="524.10" stroke="#231f20" stroke-width="1.1"/>
<text x="248.00" y="526.69" font-size="8.1" text-anchor="end" textLength="11.25" lengthAdjust="spacingAndGlyphs" fill="#231f20" stroke="#231f20" stroke-width="0.22">100</text>
<line x1="265.90" y1="609.10" x2="265.90" y2="612.40" stroke="#231f20" stroke-width="1.1"/>
<text x="265.90" y="621.45" font-size="7.668" text-anchor="middle" textLength="13.60" lengthAdjust="spacingAndGlyphs" fill="#231f20" stroke="#231f20" stroke-width="0.21">CFU</text>
<line x1="299.70" y1="609.10" x2="299.70" y2="612.40" stroke="#231f20" stroke-width="1.1"/>
<text x="299.70" y="621.45" font-size="7.668" text-anchor="middle" textLength="14.30" lengthAdjust="spacingAndGlyphs" fill="#231f20" stroke="#231f20" stroke-width="0.21">iPSC</text>
<text x="282.70" y="516.02" font-size="7.56" text-anchor="middle" textLength="33.60" lengthAdjust="spacingAndGlyphs" fill="#231f20" stroke="#231f20" stroke-width="0.21">MDS-MPN</text>
<text x="226.80" y="568.32" font-size="8.2" text-anchor="middle" textLength="42.60" lengthAdjust="spacingAndGlyphs" fill="#231f20" stroke="#231f20" stroke-width="0.22" transform="rotate(-90 226.80 565.70)">% colonies</text>
<line x1="265.90" y1="594.31" x2="299.70" y2="587.85" stroke="#c45a3c" stroke-width="1.2"/>
<line x1="265.90" y1="567.96" x2="299.70" y2="559.97" stroke="#147ab4" stroke-width="1.2"/>
<rect x="263.15" y="565.21" width="5.50" height="5.50" fill="#147ab4"/>
<rect x="296.95" y="557.22" width="5.50" height="5.50" fill="#147ab4"/>
<circle cx="265.90" cy="594.31" r="2.80" fill="#c45a3c"/>
<circle cx="299.70" cy="587.85" r="2.80" fill="#c45a3c"/>
<text x="306.50" y="560.55" font-size="7.344" textLength="9.17" lengthAdjust="spacingAndGlyphs" fill="#231f20" stroke="#231f20" stroke-width="0.20">1.2</text>
<text x="306.50" y="590.65" font-size="7.344" textLength="9.17" lengthAdjust="spacingAndGlyphs" fill="#231f20" stroke="#231f20" stroke-width="0.20">1.5</text>
<line x1="362.60" y1="521.10" x2="362.60" y2="609.60" stroke="#231f20" stroke-width="1.3"/>
<line x1="362.10" y1="609.10" x2="418.50" y2="609.10" stroke="#231f20" stroke-width="1.3"/>
<line x1="359.30" y1="609.10" x2="362.60" y2="609.10" stroke="#231f20" stroke-width="1.1"/>
<text x="356.00" y="611.69" font-size="8.1" text-anchor="end" textLength="3.75" lengthAdjust="spacingAndGlyphs" fill="#231f20" stroke="#231f20" stroke-width="0.22">0</text>
<line x1="359.30" y1="592.10" x2="362.60" y2="592.10" stroke="#231f20" stroke-width="1.1"/>
<text x="356.00" y="594.69" font-size="8.1" text-anchor="end" textLength="7.50" lengthAdjust="spacingAndGlyphs" fill="#231f20" stroke="#231f20" stroke-width="0.22">20</text>
<line x1="359.30" y1="575.10" x2="362.60" y2="575.10" stroke="#231f20" stroke-width="1.1"/>
<text x="356.00" y="577.69" font-size="8.1" text-anchor="end" textLength="7.50" lengthAdjust="spacingAndGlyphs" fill="#231f20" stroke="#231f20" stroke-width="0.22">40</text>
<line x1="359.30" y1="558.10" x2="362.60" y2="558.10" stroke="#231f20" stroke-width="1.1"/>
<text x="356.00" y="560.69" font-size="8.1" text-anchor="end" textLength="7.50" lengthAdjust="spacingAndGlyphs" fill="#231f20" stroke="#231f20" stroke-width="0.22">60</text>
<line x1="359.30" y1="541.10" x2="362.60" y2="541.10" stroke="#231f20" stroke-width="1.1"/>
<text x="356.00" y="543.69" font-size="8.1" text-anchor="end" textLength="7.50" lengthAdjust="spacingAndGlyphs" fill="#231f20" stroke="#231f20" stroke-width="0.22">80</text>
<line x1="359.30" y1="524.10" x2="362.60" y2="524.10" stroke="#231f20" stroke-width="1.1"/>
<text x="356.00" y="526.69" font-size="8.1" text-anchor="end" textLength="11.25" lengthAdjust="spacingAndGlyphs" fill="#231f20" stroke="#231f20" stroke-width="0.22">100</text>
<line x1="373.40" y1="609.10" x2="373.40" y2="612.40" stroke="#231f20" stroke-width="1.1"/>
<text x="373.40" y="621.45" font-size="7.668" text-anchor="middle" textLength="13.60" lengthAdjust="spacingAndGlyphs" fill="#231f20" stroke="#231f20" stroke-width="0.21">CFU</text>
<line x1="406.50" y1="609.10" x2="406.50" y2="612.40" stroke="#231f20" stroke-width="1.1"/>
<text x="406.50" y="621.45" font-size="7.668" text-anchor="middle" textLength="14.30" lengthAdjust="spacingAndGlyphs" fill="#231f20" stroke="#231f20" stroke-width="0.21">iPSC</text>
<text x="390.70" y="516.02" font-size="7.56" text-anchor="middle" textLength="33.10" lengthAdjust="spacingAndGlyphs" fill="#231f20" stroke="#231f20" stroke-width="0.21">AML-MDS</text>
<text x="335.00" y="568.32" font-size="8.2" text-anchor="middle" textLength="42.60" lengthAdjust="spacingAndGlyphs" fill="#231f20" stroke="#231f20" stroke-width="0.22" transform="rotate(-90 335.00 565.70)">% colonies</text>
<line x1="373.40" y1="609.10" x2="406.50" y2="583.60" stroke="#c45a3c" stroke-width="1.2"/>
<line x1="373.40" y1="524.10" x2="406.50" y2="609.10" stroke="#147ab4" stroke-width="1.2"/>
<rect x="370.65" y="521.35" width="5.50" height="5.50" fill="#147ab4"/>
<rect x="403.75" y="606.35" width="5.50" height="5.50" fill="#147ab4"/>
<circle cx="373.40" cy="609.10" r="2.80" fill="#c45a3c"/>
<circle cx="406.50" cy="583.60" r="2.80" fill="#c45a3c"/>
<text x="413.50" y="585.65" font-size="7.344" textLength="11.19" lengthAdjust="spacingAndGlyphs" fill="#231f20" stroke="#231f20" stroke-width="0.20">&gt;30</text>
<text x="413.50" y="605.65" font-size="7.344" textLength="7.34" lengthAdjust="spacingAndGlyphs" fill="#231f20" stroke="#231f20" stroke-width="0.20">nd</text>
<line x1="439.10" y1="549.90" x2="453.90" y2="549.90" stroke="#c45a3c" stroke-width="1.2"/>
<circle cx="446.40" cy="549.90" r="2.80" fill="#c45a3c"/>
<line x1="439.10" y1="582.30" x2="453.90" y2="582.30" stroke="#147ab4" stroke-width="1.2"/>
<rect x="443.65" y="579.55" width="5.50" height="5.50" fill="#147ab4"/>
<text x="457.60" y="542.72" font-size="7.884" textLength="13.50" lengthAdjust="spacingAndGlyphs" fill="#231f20" stroke="#231f20" stroke-width="0.22">Pre-</text>
<text x="457.60" y="552.22" font-size="7.884" textLength="34.00" lengthAdjust="spacingAndGlyphs" fill="#231f20" stroke="#231f20" stroke-width="0.22">malignant</text>
<text x="457.60" y="561.72" font-size="7.884" textLength="33.50" lengthAdjust="spacingAndGlyphs" fill="#231f20" stroke="#231f20" stroke-width="0.22">subclones</text>
<text x="457.60" y="579.52" font-size="7.884" textLength="15.00" lengthAdjust="spacingAndGlyphs" fill="#231f20" stroke="#231f20" stroke-width="0.22">MDS</text>
<text x="457.60" y="589.02" font-size="7.884" textLength="33.50" lengthAdjust="spacingAndGlyphs" fill="#231f20" stroke="#231f20" stroke-width="0.22">subclones</text>
<circle cx="27.60" cy="345.10" r="9.30" fill="#ffffff"/>
<circle cx="27.60" cy="345.10" r="9.30" fill="none" stroke="#1a1a1a" stroke-width="0.95"/>
<line x1="18.30" y1="345.10" x2="36.90" y2="345.10" stroke="#1a1a1a" stroke-width="0.7"/>
<line x1="27.60" y1="335.80" x2="27.60" y2="354.40" stroke="#1a1a1a" stroke-width="0.7"/>
<circle cx="79.40" cy="345.10" r="9.30" fill="#ffffff"/>
<path d="M79.40,345.10 L70.10,345.10 A9.30,9.30 0 0 1 79.40,335.80 z" fill="#1878b2"/>
<circle cx="79.40" cy="345.10" r="9.30" fill="none" stroke="#1a1a1a" stroke-width="0.95"/>
<line x1="70.10" y1="345.10" x2="88.70" y2="345.10" stroke="#1a1a1a" stroke-width="0.7"/>
<line x1="79.40" y1="335.80" x2="79.40" y2="354.40" stroke="#1a1a1a" stroke-width="0.7"/>
<circle cx="131.20" cy="345.10" r="9.30" fill="#ffffff"/>
<path d="M131.20,345.10 L121.90,345.10 A9.30,9.30 0 0 1 131.20,335.80 z" fill="#1878b2"/>
<path d="M131.20,345.10 L140.50,345.10 A9.30,9.30 0 0 1 131.20,354.40 z" fill="#4a9e58"/>
<circle cx="131.20" cy="345.10" r="9.30" fill="none" stroke="#1a1a1a" stroke-width="0.95"/>
<line x1="121.90" y1="345.10" x2="140.50" y2="345.10" stroke="#1a1a1a" stroke-width="0.7"/>
<line x1="131.20" y1="335.80" x2="131.20" y2="354.40" stroke="#1a1a1a" stroke-width="0.7"/>
<circle cx="183.20" cy="345.10" r="9.30" fill="#ffffff"/>
<path d="M183.20,345.10 L173.90,345.10 A9.30,9.30 0 0 1 183.20,335.80 z" fill="#1878b2"/>
<path d="M183.20,345.10 L183.20,335.80 A9.30,9.30 0 0 1 192.50,345.10 z" fill="#f8e040"/>
<path d="M183.20,345.10 L192.50,345.10 A9.30,9.30 0 0 1 183.20,354.40 z" fill="#4a9e58"/>
<circle cx="183.20" cy="345.10" r="9.30" fill="none" stroke="#1a1a1a" stroke-width="0.95"/>
<line x1="173.90" y1="345.10" x2="192.50" y2="345.10" stroke="#1a1a1a" stroke-width="0.7"/>
<line x1="183.20" y1="335.80" x2="183.20" y2="354.40" stroke="#1a1a1a" stroke-width="0.7"/>
<circle cx="235.10" cy="345.10" r="9.30" fill="#ffffff"/>
<path d="M235.10,345.10 L225.80,345.10 A9.30,9.30 0 0 1 235.10,335.80 z" fill="#1878b2"/>
<path d="M235.10,345.10 L235.10,335.80 A9.30,9.30 0 0 1 244.40,345.10 z" fill="#f8e040"/>
<path d="M235.10,345.10 L244.40,345.10 A9.30,9.30 0 0 1 235.10,354.40 z" fill="#4a9e58"/>
<path d="M235.10,345.10 L235.10,354.40 A9.30,9.30 0 0 1 225.80,345.10 z" fill="#b84a48"/>
<circle cx="235.10" cy="345.10" r="9.30" fill="none" stroke="#1a1a1a" stroke-width="0.95"/>
<line x1="225.80" y1="345.10" x2="244.40" y2="345.10" stroke="#1a1a1a" stroke-width="0.7"/>
<line x1="235.10" y1="335.80" x2="235.10" y2="354.40" stroke="#1a1a1a" stroke-width="0.7"/>
<line x1="43.10" y1="345.10" x2="60.90" y2="345.10" stroke="#111" stroke-width="0.9"/>
<path d="M63.90,345.10 L57.30,342.40 L58.90,345.10 L57.30,347.80 z" fill="#111"/>
<line x1="94.00" y1="345.10" x2="112.30" y2="345.10" stroke="#111" stroke-width="0.9"/>
<path d="M115.30,345.10 L108.70,342.40 L110.30,345.10 L108.70,347.80 z" fill="#111"/>
<line x1="146.90" y1="345.10" x2="164.70" y2="345.10" stroke="#111" stroke-width="0.9"/>
<path d="M167.70,345.10 L161.10,342.40 L162.70,345.10 L161.10,347.80 z" fill="#111"/>
<line x1="199.40" y1="345.10" x2="217.50" y2="345.10" stroke="#111" stroke-width="0.9"/>
<path d="M220.50,345.10 L213.90,342.40 L215.50,345.10 L213.90,347.80 z" fill="#111"/>
<text x="68.20" y="367.22" font-size="7.884" textLength="21.30" lengthAdjust="spacingAndGlyphs" fill="#231f20" stroke="#231f20" stroke-width="0.22">t(4;12)</text>
<text x="121.00" y="367.22" font-size="7.884" textLength="21.30" lengthAdjust="spacingAndGlyphs" fill="#231f20" stroke="#231f20" stroke-width="0.22">t(4;12)</text>
<text x="121.00" y="376.72" font-size="7.884" textLength="19.50" lengthAdjust="spacingAndGlyphs" fill="#231f20" stroke="#231f20" stroke-width="0.22">SF3B1</text>
<text x="171.40" y="367.22" font-size="7.884" textLength="21.30" lengthAdjust="spacingAndGlyphs" fill="#231f20" stroke="#231f20" stroke-width="0.22">t(4;12)</text>
<text x="171.40" y="376.72" font-size="7.884" textLength="19.50" lengthAdjust="spacingAndGlyphs" fill="#231f20" stroke="#231f20" stroke-width="0.22">SF3B1</text>
<text x="171.40" y="386.22" font-size="7.884" textLength="16.50" lengthAdjust="spacingAndGlyphs" fill="#231f20" stroke="#231f20" stroke-width="0.22">EZH2</text>
<text x="223.90" y="367.22" font-size="7.884" textLength="21.30" lengthAdjust="spacingAndGlyphs" fill="#231f20" stroke="#231f20" stroke-width="0.22">t(4;12)</text>
<text x="223.90" y="376.72" font-size="7.884" textLength="19.50" lengthAdjust="spacingAndGlyphs" fill="#231f20" stroke="#231f20" stroke-width="0.22">SF3B1</text>
<text x="223.90" y="386.22" font-size="7.884" textLength="16.50" lengthAdjust="spacingAndGlyphs" fill="#231f20" stroke="#231f20" stroke-width="0.22">EZH2</text>
<text x="223.90" y="395.72" font-size="7.884" textLength="17.50" lengthAdjust="spacingAndGlyphs" fill="#231f20" stroke="#231f20" stroke-width="0.22">del5q</text>
<text x="8.80" y="380.42" font-size="7.884" textLength="38.10" lengthAdjust="spacingAndGlyphs" fill="#231f20" stroke="#231f20" stroke-width="0.22">Pathogenic</text>
<line x1="67.70" y1="401.70" x2="246.40" y2="401.70" stroke="#231f20" stroke-width="0.7"/>
<text x="67.70" y="411.12" font-size="7.884" textLength="26.30" lengthAdjust="spacingAndGlyphs" fill="#231f20" stroke="#231f20" stroke-width="0.22">PLXNB1</text>
<text x="67.70" y="420.62" font-size="7.884" textLength="23.00" lengthAdjust="spacingAndGlyphs" fill="#231f20" stroke="#231f20" stroke-width="0.22">RBM19</text>
<text x="120.20" y="411.12" font-size="7.884" textLength="21.50" lengthAdjust="spacingAndGlyphs" fill="#231f20" stroke="#231f20" stroke-width="0.22">TTYH2</text>
<text x="120.20" y="420.62" font-size="7.884" textLength="33.20" lengthAdjust="spacingAndGlyphs" fill="#231f20" stroke="#231f20" stroke-width="0.22">NAALAD2</text>
<text x="120.20" y="430.12" font-size="7.884" textLength="16.50" lengthAdjust="spacingAndGlyphs" fill="#231f20" stroke="#231f20" stroke-width="0.22">NFE2</text>
<text x="120.20" y="439.62" font-size="7.884" textLength="22.50" lengthAdjust="spacingAndGlyphs" fill="#231f20" stroke="#231f20" stroke-width="0.22">USH2A</text>
<text x="120.20" y="449.12" font-size="7.884" textLength="27.50" lengthAdjust="spacingAndGlyphs" fill="#231f20" stroke="#231f20" stroke-width="0.22">LMAN1L</text>
<text x="120.20" y="458.62" font-size="7.884" textLength="22.50" lengthAdjust="spacingAndGlyphs" fill="#231f20" stroke="#231f20" stroke-width="0.22">DCHS1</text>
<text x="171.40" y="411.12" font-size="7.884" textLength="21.00" lengthAdjust="spacingAndGlyphs" fill="#231f20" stroke="#231f20" stroke-width="0.22">PSPC1</text>
<text x="171.40" y="420.62" font-size="7.884" textLength="22.80" lengthAdjust="spacingAndGlyphs" fill="#231f20" stroke="#231f20" stroke-width="0.22">ZFHX4</text>
<text x="7.50" y="430.82" font-size="7.884" textLength="26.80" lengthAdjust="spacingAndGlyphs" fill="#231f20" stroke="#231f20" stroke-width="0.22">Somatic</text>
<text x="7.50" y="439.92" font-size="7.884" textLength="33.90" lengthAdjust="spacingAndGlyphs" fill="#231f20" stroke="#231f20" stroke-width="0.22">mutations</text>
<text x="12.10" y="31.49" font-size="8.1" textLength="41.50" lengthAdjust="spacingAndGlyphs" fill="#231f20" stroke="#231f20" stroke-width="0.22">MDS patient</text>
<text x="87.40" y="29.59" font-size="8.1" textLength="20.60" lengthAdjust="spacingAndGlyphs" fill="#231f20" stroke="#231f20" stroke-width="0.22">OSKM</text>
<text x="87.50" y="39.39" font-size="8.1" textLength="58.30" lengthAdjust="spacingAndGlyphs" fill="#231f20" stroke="#231f20" stroke-width="0.22">Yamanaka factors</text>
<text x="76.30" y="81.99" font-size="8.1" textLength="15.50" lengthAdjust="spacingAndGlyphs" fill="#231f20" stroke="#231f20" stroke-width="0.22">CD34</text>
<text x="92.90" y="79.31" font-size="4.4" textLength="2.60" lengthAdjust="spacingAndGlyphs" fill="#231f20" stroke="#231f20" stroke-width="0.12">+</text>
<text x="99.60" y="81.99" font-size="8.1" textLength="17.30" lengthAdjust="spacingAndGlyphs" fill="#231f20" stroke="#231f20" stroke-width="0.22">HPCs</text>
<text x="68.80" y="91.49" font-size="8.1" textLength="54.50" lengthAdjust="spacingAndGlyphs" fill="#231f20" stroke="#231f20" stroke-width="0.22">Mutations X, Y, Z</text>
<path d="M29.1,42.6 C26.2,42.0 26.3,35.5 30.6,35.2 C34.9,35.5 35.0,42.0 32.3,42.6 L32.7,44.0 C35.0,44.6 36.6,44.6 37.6,45.4 C39.0,46.4 39.4,48.5 39.7,51.1 L40.3,58.8 L39.4,63.8 C39.0,65.0 38.0,65.2 37.7,64.2 L37.5,60.0 L37.7,67.7 L37.2,76.6 L36.4,85.4 L36.6,92.1 L38.3,94.2 C38.4,95.4 37.4,96.0 36.6,96.0 L34.6,95.4 C33.7,94.6 33.6,93.4 33.5,92.1 L32.7,83.2 L30.8,69.6 L30.2,77.7 L30.5,85.4 L30.0,89.9 L26.6,94.3 C25.8,95.2 24.9,95.2 24.4,94.9 C23.4,94.2 23.5,93.2 23.9,92.6 L26.9,89.9 L26.1,82.1 L24.6,72 L23.9,66.6 L24.4,58 L25.0,52.2 L21.5,53.6 C19.5,54.6 17.5,54.2 16.9,53.0 L16.7,42.2 C16.0,40.6 16.2,39.2 17.0,38.6 C17.6,37.6 18.8,37.4 19.4,37.8 C20.2,37.6 20.8,38.0 20.8,38.8 C21.8,39.6 21.9,40.6 21.4,41.6 L20.5,43.3 L20.6,48.8 L26.6,45.5 C27.8,44.9 28.7,44.4 28.9,43.6 Z" fill="#ffffff" stroke="#3a3a3a" stroke-width="0.6" stroke-linejoin="round"/>
<line x1="35.80" y1="56.20" x2="36.50" y2="63.60" stroke="#444" stroke-width="0.8"/>
<path d="M45.4,62.4 C45.0,60.2 47.2,59.2 49.6,59.6 C52.0,60.0 53.4,62.0 55.3,62.2 C57.2,62.0 58.6,60.0 61.0,59.6 C63.4,59.2 65.9,60.4 65.5,62.8 C65.1,65.6 62.4,66.6 61.0,68.6 C59.8,70.6 58.4,72.2 55.3,72.3 C52.2,72.2 50.8,70.6 49.6,68.6 C48.2,66.6 45.8,65.4 45.4,62.4 Z" fill="#ccb39d"/>
<path d="M50.0,67.6 C50.2,65.2 52.6,64.0 54.6,64.6 C56.6,64.0 59.2,65.2 59.2,67.6 C59.2,69.8 57.0,71.0 54.6,71.0 C52.2,71.0 50.0,69.8 50.0,67.6 Z" fill="#ffffff" stroke="#8a7a6a" stroke-width="0.3"/>
<ellipse cx="46.4" cy="63.0" rx="0.5" ry="1.2" fill="#777"/>
<path d="M53.9,60.2 C56.5,49.0 70.0,44.0 79.5,48.5 C83.5,50.5 85.8,53.5 86.6,56.2" fill="none" stroke="#111" stroke-width="1.0"/>
<path d="M87.1,58.9 L82.2,53.4 L85.8,54.8 L89.6,52.2 z" fill="#111"/>
<circle cx="90.40" cy="61.80" r="3.40" fill="#f5e132" stroke="#b9a31c" stroke-width="0.55"/>
<circle cx="94.90" cy="64.20" r="3.40" fill="#f5e132" stroke="#b9a31c" stroke-width="0.55"/>
<circle cx="88.00" cy="65.00" r="3.40" fill="#f5e132" stroke="#b9a31c" stroke-width="0.55"/>
<circle cx="92.00" cy="67.40" r="3.40" fill="#f5e132" stroke="#b9a31c" stroke-width="0.55"/>
<line x1="102.30" y1="65.80" x2="134.00" y2="65.80" stroke="#111" stroke-width="0.95"/>
<path d="M139.4,65.8 L132.6,63.1 L134.2,65.8 L132.6,68.5 z" fill="#111"/>
<path d="M106.3,43.6 C108.5,52.5 114.5,63.5 127.5,65.6" fill="none" stroke="#111" stroke-width="0.95"/>
<circle cx="163.50" cy="66.30" r="22.30" fill="#f1f1f1" stroke="#555" stroke-width="0.65"/>
<circle cx="149.80" cy="56.30" r="3.10" fill="#3fa64a" stroke="#2a7a34" stroke-width="0.4"/>
<circle cx="170.00" cy="54.60" r="3.10" fill="#dc3a36" stroke="#a02420" stroke-width="0.4"/>
<circle cx="163.30" cy="66.40" r="3.10" fill="#f5e132" stroke="#b9a31c" stroke-width="0.4"/>
<circle cx="176.80" cy="68.00" r="3.10" fill="#dc3a36" stroke="#a02420" stroke-width="0.4"/>
<circle cx="146.80" cy="71.40" r="3.10" fill="#f5e132" stroke="#b9a31c" stroke-width="0.4"/>
<circle cx="165.00" cy="79.00" r="3.10" fill="#3fa64a" stroke="#2a7a34" stroke-width="0.4"/>
<g transform="translate(159.30 51.90) rotate(20) scale(1.15)" stroke="#5e4538" stroke-width="0.85" fill="none" stroke-linecap="round"><path d="M0,0 L0,2.6 M0,0 L-2.1,-1.9 M0,0 L2.1,-1.9"/></g>
<g transform="translate(154.40 63.60) rotate(-30) scale(1.15)" stroke="#5e4538" stroke-width="0.85" fill="none" stroke-linecap="round"><path d="M0,0 L0,2.6 M0,0 L-2.1,-1.9 M0,0 L2.1,-1.9"/></g>
<g transform="translate(155.00 78.30) rotate(10) scale(1.15)" stroke="#5e4538" stroke-width="0.85" fill="none" stroke-linecap="round"><path d="M0,0 L0,2.6 M0,0 L-2.1,-1.9 M0,0 L2.1,-1.9"/></g>
<g transform="translate(174.40 55.40) rotate(160) scale(1.15)" stroke="#5e4538" stroke-width="0.85" fill="none" stroke-linecap="round"><path d="M0,0 L0,2.6 M0,0 L-2.1,-1.9 M0,0 L2.1,-1.9"/></g>
<g transform="translate(180.90 70.40) rotate(200) scale(1.15)" stroke="#5e4538" stroke-width="0.85" fill="none" stroke-linecap="round"><path d="M0,0 L0,2.6 M0,0 L-2.1,-1.9 M0,0 L2.1,-1.9"/></g>
<g transform="translate(169.70 79.50) rotate(150) scale(1.15)" stroke="#5e4538" stroke-width="0.85" fill="none" stroke-linecap="round"><path d="M0,0 L0,2.6 M0,0 L-2.1,-1.9 M0,0 L2.1,-1.9"/></g>
<g transform="translate(167.60 67.60) rotate(130) scale(1.15)" stroke="#5e4538" stroke-width="0.85" fill="none" stroke-linecap="round"><path d="M0,0 L0,2.6 M0,0 L-2.1,-1.9 M0,0 L2.1,-1.9"/></g>
<path d="M190.2,80.5 C202.0,90.0 211.0,125.0 195.0,149.4" fill="none" stroke="#111" stroke-width="1.0"/>
<path d="M191.8,153.2 L192.8,145.6 L194.8,148.6 L198.4,148.9 z" fill="#111"/>
<text x="165.50" y="113.49" font-size="8.1" textLength="34.50" lengthAdjust="spacingAndGlyphs" fill="#231f20" stroke="#231f20" stroke-width="0.22">15-25 days</text>
<circle cx="168.70" cy="154.80" r="22.30" fill="#f1f1f1" stroke="#555" stroke-width="0.65"/>
<polygon points="175.91,141.60 175.81,143.51 174.62,145.02 173.13,146.26 171.20,146.66 169.46,145.81 168.01,144.79 166.35,143.61 166.47,141.60 166.85,139.80 167.38,137.78 169.32,137.05 171.20,136.35 173.09,137.05 174.79,138.01 175.48,139.83" fill="#c23436" stroke="#8a2226" stroke-width="0.35" stroke-linejoin="round"/>
<circle cx="169.04" cy="139.16" r="0.55" fill="#8a2226"/>
<circle cx="168.45" cy="141.20" r="0.55" fill="#8a2226"/>
<circle cx="171.09" cy="141.39" r="0.55" fill="#8a2226"/>
<circle cx="171.31" cy="139.39" r="0.55" fill="#8a2226"/>
<circle cx="171.16" cy="141.71" r="0.55" fill="#8a2226"/>
<circle cx="172.37" cy="140.27" r="0.55" fill="#8a2226"/>
<circle cx="170.55" cy="138.37" r="0.55" fill="#8a2226"/>
<circle cx="170.42" cy="138.24" r="0.55" fill="#8a2226"/>
<circle cx="168.83" cy="143.44" r="0.55" fill="#8a2226"/>
<circle cx="167.90" cy="142.80" r="0.55" fill="#8a2226"/>
<circle cx="171.46" cy="141.35" r="0.55" fill="#8a2226"/>
<circle cx="171.73" cy="142.21" r="0.55" fill="#8a2226"/>
<polygon points="168.71,154.00 168.24,155.76 167.43,157.43 165.78,158.29 164.00,158.56 162.14,158.49 160.23,157.77 159.18,156.00 158.81,154.00 159.66,152.20 160.48,150.48 162.18,149.61 164.00,149.34 165.76,149.75 167.32,150.68 168.93,151.96" fill="#ddc92e" stroke="#a8961a" stroke-width="0.35" stroke-linejoin="round"/>
<circle cx="165.43" cy="151.34" r="0.55" fill="#a8961a"/>
<circle cx="164.22" cy="153.31" r="0.55" fill="#a8961a"/>
<circle cx="163.14" cy="156.19" r="0.55" fill="#a8961a"/>
<circle cx="163.63" cy="150.82" r="0.55" fill="#a8961a"/>
<circle cx="164.24" cy="153.78" r="0.55" fill="#a8961a"/>
<circle cx="162.01" cy="152.45" r="0.55" fill="#a8961a"/>
<circle cx="163.33" cy="153.98" r="0.55" fill="#a8961a"/>
<circle cx="163.67" cy="154.06" r="0.55" fill="#a8961a"/>
<circle cx="166.97" cy="152.69" r="0.55" fill="#a8961a"/>
<circle cx="162.92" cy="153.67" r="0.55" fill="#a8961a"/>
<circle cx="165.80" cy="152.83" r="0.55" fill="#a8961a"/>
<circle cx="166.34" cy="151.85" r="0.55" fill="#a8961a"/>
<polygon points="171.96,166.50 171.67,168.48 170.59,170.19 168.95,171.44 166.90,171.67 164.86,171.42 163.70,169.70 162.36,168.38 161.55,166.50 162.20,164.55 163.14,162.74 165.14,162.25 166.90,161.58 168.71,162.14 170.43,162.97 171.53,164.58" fill="#2e9646" stroke="#1e6e30" stroke-width="0.35" stroke-linejoin="round"/>
<circle cx="167.71" cy="166.57" r="0.55" fill="#1e6e30"/>
<circle cx="166.27" cy="169.88" r="0.55" fill="#1e6e30"/>
<circle cx="166.96" cy="165.90" r="0.55" fill="#1e6e30"/>
<circle cx="167.05" cy="166.00" r="0.55" fill="#1e6e30"/>
<circle cx="166.55" cy="166.18" r="0.55" fill="#1e6e30"/>
<circle cx="170.17" cy="166.54" r="0.55" fill="#1e6e30"/>
<circle cx="167.10" cy="167.28" r="0.55" fill="#1e6e30"/>
<circle cx="170.15" cy="166.13" r="0.55" fill="#1e6e30"/>
<circle cx="166.02" cy="170.00" r="0.55" fill="#1e6e30"/>
<circle cx="164.43" cy="165.88" r="0.55" fill="#1e6e30"/>
<circle cx="167.89" cy="169.89" r="0.55" fill="#1e6e30"/>
<circle cx="165.57" cy="163.13" r="0.55" fill="#1e6e30"/>
<g transform="translate(161.50 139.50) rotate(30) scale(1.15)" stroke="#5e4538" stroke-width="0.85" fill="none" stroke-linecap="round"><path d="M0,0 L0,2.6 M0,0 L-2.1,-1.9 M0,0 L2.1,-1.9"/></g>
<g transform="translate(177.00 143.30) rotate(230) scale(1.15)" stroke="#5e4538" stroke-width="0.85" fill="none" stroke-linecap="round"><path d="M0,0 L0,2.6 M0,0 L-2.1,-1.9 M0,0 L2.1,-1.9"/></g>
<g transform="translate(155.90 150.30) rotate(-40) scale(1.15)" stroke="#5e4538" stroke-width="0.85" fill="none" stroke-linecap="round"><path d="M0,0 L0,2.6 M0,0 L-2.1,-1.9 M0,0 L2.1,-1.9"/></g>
<g transform="translate(169.80 155.60) rotate(120) scale(1.15)" stroke="#5e4538" stroke-width="0.85" fill="none" stroke-linecap="round"><path d="M0,0 L0,2.6 M0,0 L-2.1,-1.9 M0,0 L2.1,-1.9"/></g>
<g transform="translate(182.80 157.00) rotate(180) scale(1.15)" stroke="#5e4538" stroke-width="0.85" fill="none" stroke-linecap="round"><path d="M0,0 L0,2.6 M0,0 L-2.1,-1.9 M0,0 L2.1,-1.9"/></g>
<g transform="translate(156.80 165.80) rotate(10) scale(1.15)" stroke="#5e4538" stroke-width="0.85" fill="none" stroke-linecap="round"><path d="M0,0 L0,2.6 M0,0 L-2.1,-1.9 M0,0 L2.1,-1.9"/></g>
<g transform="translate(172.60 167.40) rotate(120) scale(1.15)" stroke="#5e4538" stroke-width="0.85" fill="none" stroke-linecap="round"><path d="M0,0 L0,2.6 M0,0 L-2.1,-1.9 M0,0 L2.1,-1.9"/></g>
<text x="154.10" y="188.99" font-size="8.1" textLength="43.80" lengthAdjust="spacingAndGlyphs" fill="#231f20" stroke="#231f20" stroke-width="0.22">iPSC colonies</text>
<rect x="97.5" y="117.5" width="20" height="60" fill="#ffffff" stroke="#666" stroke-width="0.5"/>
<circle cx="107.50" cy="127.50" r="10.00" fill="#f6f6f6" stroke="#555" stroke-width="0.5"/>
<circle cx="107.50" cy="147.50" r="10.00" fill="#f6f6f6" stroke="#555" stroke-width="0.5"/>
<circle cx="107.50" cy="167.50" r="10.00" fill="#f6f6f6" stroke="#555" stroke-width="0.5"/>
<polygon points="109.22,124.50 108.98,126.11 108.27,127.67 106.68,128.32 105.10,128.66 103.48,128.40 102.33,127.27 101.25,126.09 100.84,124.50 101.05,122.82 102.38,121.78 103.57,120.80 105.10,120.65 106.78,120.44 108.14,121.46 108.62,123.04" fill="#be3234" stroke="#8a2226" stroke-width="0.35" stroke-linejoin="round"/>
<circle cx="108.12" cy="124.15" r="0.55" fill="#8a2226"/>
<circle cx="104.00" cy="122.91" r="0.55" fill="#8a2226"/>
<circle cx="105.13" cy="124.54" r="0.55" fill="#8a2226"/>
<circle cx="104.92" cy="124.47" r="0.55" fill="#8a2226"/>
<circle cx="105.38" cy="125.21" r="0.55" fill="#8a2226"/>
<circle cx="106.54" cy="124.77" r="0.55" fill="#8a2226"/>
<circle cx="102.63" cy="125.47" r="0.55" fill="#8a2226"/>
<circle cx="103.10" cy="124.26" r="0.55" fill="#8a2226"/>
<circle cx="103.01" cy="124.51" r="0.55" fill="#8a2226"/>
<circle cx="104.26" cy="124.73" r="0.55" fill="#8a2226"/>
<circle cx="108.24" cy="124.44" r="0.55" fill="#8a2226"/>
<circle cx="106.29" cy="122.62" r="0.55" fill="#8a2226"/>
<polygon points="113.14,132.80 112.95,134.44 112.03,135.83 110.49,136.39 109.00,136.59 107.45,136.55 106.18,135.62 104.94,134.48 104.70,132.80 105.09,131.18 106.03,129.83 107.36,128.85 109.00,128.91 110.57,129.00 111.76,130.04 113.13,131.09" fill="#be3234" stroke="#8a2226" stroke-width="0.35" stroke-linejoin="round"/>
<circle cx="111.41" cy="133.73" r="0.55" fill="#8a2226"/>
<circle cx="110.93" cy="133.78" r="0.55" fill="#8a2226"/>
<circle cx="108.34" cy="133.89" r="0.55" fill="#8a2226"/>
<circle cx="109.03" cy="132.75" r="0.55" fill="#8a2226"/>
<circle cx="111.67" cy="133.87" r="0.55" fill="#8a2226"/>
<circle cx="108.71" cy="132.78" r="0.55" fill="#8a2226"/>
<circle cx="111.97" cy="132.55" r="0.55" fill="#8a2226"/>
<circle cx="110.01" cy="133.67" r="0.55" fill="#8a2226"/>
<circle cx="109.65" cy="133.54" r="0.55" fill="#8a2226"/>
<circle cx="108.63" cy="132.44" r="0.55" fill="#8a2226"/>
<circle cx="108.95" cy="132.65" r="0.55" fill="#8a2226"/>
<circle cx="110.22" cy="135.06" r="0.55" fill="#8a2226"/>
<polygon points="112.98,143.00 112.97,144.64 112.04,146.04 110.69,147.09 109.00,146.92 107.49,146.65 106.25,145.75 105.35,144.51 104.67,143.00 105.42,141.52 106.04,140.04 107.49,139.36 109.00,139.00 110.57,139.21 112.12,139.88 112.92,141.38" fill="#d6c22c" stroke="#a08e18" stroke-width="0.35" stroke-linejoin="round"/>
<circle cx="109.87" cy="143.08" r="0.55" fill="#a08e18"/>
<circle cx="110.66" cy="145.19" r="0.55" fill="#a08e18"/>
<circle cx="109.92" cy="140.64" r="0.55" fill="#a08e18"/>
<circle cx="110.08" cy="140.92" r="0.55" fill="#a08e18"/>
<circle cx="111.37" cy="142.21" r="0.55" fill="#a08e18"/>
<circle cx="108.89" cy="145.68" r="0.55" fill="#a08e18"/>
<circle cx="106.63" cy="143.20" r="0.55" fill="#a08e18"/>
<circle cx="107.75" cy="142.47" r="0.55" fill="#a08e18"/>
<circle cx="108.11" cy="144.02" r="0.55" fill="#a08e18"/>
<circle cx="108.86" cy="143.34" r="0.55" fill="#a08e18"/>
<circle cx="110.06" cy="140.72" r="0.55" fill="#a08e18"/>
<circle cx="111.17" cy="142.80" r="0.55" fill="#a08e18"/>
<polygon points="108.96,151.40 109.08,153.05 108.12,154.42 106.82,155.55 105.10,155.38 103.58,155.07 102.03,154.47 101.15,153.04 101.09,151.40 101.13,149.76 102.22,148.52 103.43,147.36 105.10,147.53 106.61,147.75 108.25,148.25 108.84,149.85" fill="#d6c22c" stroke="#a08e18" stroke-width="0.35" stroke-linejoin="round"/>
<circle cx="104.94" cy="153.93" r="0.55" fill="#a08e18"/>
<circle cx="104.78" cy="151.05" r="0.55" fill="#a08e18"/>
<circle cx="103.12" cy="150.74" r="0.55" fill="#a08e18"/>
<circle cx="106.15" cy="153.17" r="0.55" fill="#a08e18"/>
<circle cx="105.86" cy="152.14" r="0.55" fill="#a08e18"/>
<circle cx="105.66" cy="151.72" r="0.55" fill="#a08e18"/>
<circle cx="106.36" cy="151.22" r="0.55" fill="#a08e18"/>
<circle cx="106.48" cy="151.31" r="0.55" fill="#a08e18"/>
<circle cx="102.95" cy="149.69" r="0.55" fill="#a08e18"/>
<circle cx="104.96" cy="151.08" r="0.55" fill="#a08e18"/>
<circle cx="103.41" cy="150.34" r="0.55" fill="#a08e18"/>
<circle cx="105.23" cy="151.67" r="0.55" fill="#a08e18"/>
<polygon points="112.01,161.50 111.00,162.95 110.57,164.57 108.99,165.10 107.50,166.03 106.05,165.00 104.36,164.64 103.53,163.14 103.07,161.50 103.31,159.76 104.70,158.70 105.96,157.77 107.50,157.18 109.03,157.81 110.31,158.69 111.15,159.99" fill="#2e9244" stroke="#1e6a2e" stroke-width="0.35" stroke-linejoin="round"/>
<circle cx="109.22" cy="159.35" r="0.55" fill="#1e6a2e"/>
<circle cx="107.71" cy="160.83" r="0.55" fill="#1e6a2e"/>
<circle cx="108.93" cy="160.76" r="0.55" fill="#1e6a2e"/>
<circle cx="107.67" cy="162.93" r="0.55" fill="#1e6a2e"/>
<circle cx="107.28" cy="161.62" r="0.55" fill="#1e6a2e"/>
<circle cx="106.46" cy="161.05" r="0.55" fill="#1e6a2e"/>
<circle cx="104.84" cy="160.26" r="0.55" fill="#1e6a2e"/>
<circle cx="106.72" cy="160.49" r="0.55" fill="#1e6a2e"/>
<circle cx="109.55" cy="159.12" r="0.55" fill="#1e6a2e"/>
<circle cx="104.53" cy="161.69" r="0.55" fill="#1e6a2e"/>
<circle cx="107.94" cy="161.55" r="0.55" fill="#1e6a2e"/>
<circle cx="108.89" cy="164.11" r="0.55" fill="#1e6a2e"/>
<polygon points="112.15,171.60 111.93,173.19 111.00,174.50 109.68,175.40 108.10,175.69 106.46,175.55 105.29,174.41 104.16,173.23 104.31,171.60 104.40,170.07 105.25,168.75 106.61,168.01 108.10,167.26 109.64,167.89 111.19,168.51 112.26,169.88" fill="#2e9244" stroke="#1e6a2e" stroke-width="0.35" stroke-linejoin="round"/>
<circle cx="108.04" cy="174.41" r="0.55" fill="#1e6a2e"/>
<circle cx="108.84" cy="169.63" r="0.55" fill="#1e6a2e"/>
<circle cx="109.52" cy="171.85" r="0.55" fill="#1e6a2e"/>
<circle cx="107.45" cy="170.93" r="0.55" fill="#1e6a2e"/>
<circle cx="108.26" cy="172.56" r="0.55" fill="#1e6a2e"/>
<circle cx="107.97" cy="174.08" r="0.55" fill="#1e6a2e"/>
<circle cx="107.33" cy="172.69" r="0.55" fill="#1e6a2e"/>
<circle cx="106.24" cy="169.27" r="0.55" fill="#1e6a2e"/>
<circle cx="108.06" cy="171.73" r="0.55" fill="#1e6a2e"/>
<circle cx="110.69" cy="171.16" r="0.55" fill="#1e6a2e"/>
<circle cx="108.51" cy="170.00" r="0.55" fill="#1e6a2e"/>
<circle cx="108.15" cy="172.08" r="0.55" fill="#1e6a2e"/>
<text x="97.00" y="190.19" font-size="8.1" textLength="31.30" lengthAdjust="spacingAndGlyphs" fill="#231f20" stroke="#231f20" stroke-width="0.22">iPSC lines</text>
<text x="122.10" y="128.10" font-size="8.424" textLength="4.50" lengthAdjust="spacingAndGlyphs" fill="#231f20" stroke="#231f20" stroke-width="0.23">X</text>
<text x="126.80" y="124.77" font-size="4.6" textLength="2.40" lengthAdjust="spacingAndGlyphs" fill="#231f20" stroke="#231f20" stroke-width="0.13">+</text>
<text x="129.80" y="128.10" font-size="8.424" textLength="4.50" lengthAdjust="spacingAndGlyphs" fill="#231f20" stroke="#231f20" stroke-width="0.23">Y</text>
<text x="134.50" y="124.77" font-size="4.6" textLength="2.40" lengthAdjust="spacingAndGlyphs" fill="#231f20" stroke="#231f20" stroke-width="0.13">+</text>
<text x="137.50" y="128.10" font-size="8.424" textLength="4.50" lengthAdjust="spacingAndGlyphs" fill="#231f20" stroke="#231f20" stroke-width="0.23">Z</text>
<text x="142.20" y="124.77" font-size="4.6" textLength="2.40" lengthAdjust="spacingAndGlyphs" fill="#231f20" stroke="#231f20" stroke-width="0.13">+</text>
<text x="123.10" y="152.60" font-size="8.424" textLength="4.50" lengthAdjust="spacingAndGlyphs" fill="#231f20" stroke="#231f20" stroke-width="0.23">X</text>
<text x="127.80" y="149.27" font-size="4.6" textLength="2.40" lengthAdjust="spacingAndGlyphs" fill="#231f20" stroke="#231f20" stroke-width="0.13">+</text>
<text x="130.80" y="152.60" font-size="8.424" textLength="4.50" lengthAdjust="spacingAndGlyphs" fill="#231f20" stroke="#231f20" stroke-width="0.23">Y</text>
<text x="135.50" y="149.27" font-size="4.6" textLength="2.40" lengthAdjust="spacingAndGlyphs" fill="#231f20" stroke="#231f20" stroke-width="0.13">+</text>
<text x="138.50" y="152.60" font-size="8.424" textLength="4.50" lengthAdjust="spacingAndGlyphs" fill="#231f20" stroke="#231f20" stroke-width="0.23">Z</text>
<text x="143.20" y="149.27" font-size="4.6" textLength="1.60" lengthAdjust="spacingAndGlyphs" fill="#231f20" stroke="#231f20" stroke-width="0.13">-</text>
<text x="124.10" y="169.90" font-size="8.424" textLength="4.50" lengthAdjust="spacingAndGlyphs" fill="#231f20" stroke="#231f20" stroke-width="0.23">X</text>
<text x="128.80" y="166.57" font-size="4.6" textLength="2.40" lengthAdjust="spacingAndGlyphs" fill="#231f20" stroke="#231f20" stroke-width="0.13">+</text>
<text x="131.80" y="169.90" font-size="8.424" textLength="4.50" lengthAdjust="spacingAndGlyphs" fill="#231f20" stroke="#231f20" stroke-width="0.23">Y</text>
<text x="136.50" y="166.57" font-size="4.6" textLength="1.60" lengthAdjust="spacingAndGlyphs" fill="#231f20" stroke="#231f20" stroke-width="0.13">-</text>
<text x="138.70" y="169.90" font-size="8.424" textLength="4.50" lengthAdjust="spacingAndGlyphs" fill="#231f20" stroke="#231f20" stroke-width="0.23">Z</text>
<text x="143.40" y="166.57" font-size="4.6" textLength="1.60" lengthAdjust="spacingAndGlyphs" fill="#231f20" stroke="#231f20" stroke-width="0.13">-</text>
<text x="8.80" y="119.99" font-size="8.1" textLength="36.20" lengthAdjust="spacingAndGlyphs" fill="#231f20" stroke="#231f20" stroke-width="0.22">Phenotype</text>
<text x="15.50" y="138.82" font-size="7.56" text-anchor="middle" textLength="3.97" lengthAdjust="spacingAndGlyphs" fill="#231f20" stroke="#231f20" stroke-width="0.21">+</text>
<text x="15.50" y="160.22" font-size="7.56" text-anchor="middle" textLength="3.97" lengthAdjust="spacingAndGlyphs" fill="#231f20" stroke="#231f20" stroke-width="0.21">+</text>
<text x="15.50" y="181.12" font-size="7.56" text-anchor="middle" textLength="2.26" lengthAdjust="spacingAndGlyphs" fill="#231f20" stroke="#231f20" stroke-width="0.21">-</text>
<circle cx="31.60" cy="132.20" r="3.40" fill="#e03c38" stroke="#a42622" stroke-width="0.55"/>
<circle cx="36.10" cy="134.60" r="3.40" fill="#e03c38" stroke="#a42622" stroke-width="0.55"/>
<circle cx="29.20" cy="135.40" r="3.40" fill="#e03c38" stroke="#a42622" stroke-width="0.55"/>
<circle cx="33.20" cy="137.80" r="3.40" fill="#e03c38" stroke="#a42622" stroke-width="0.55"/>
<circle cx="32.00" cy="152.60" r="3.40" fill="#f5e132" stroke="#b9a31c" stroke-width="0.55"/>
<circle cx="36.50" cy="155.00" r="3.40" fill="#f5e132" stroke="#b9a31c" stroke-width="0.55"/>
<circle cx="29.60" cy="155.80" r="3.40" fill="#f5e132" stroke="#b9a31c" stroke-width="0.55"/>
<circle cx="33.60" cy="158.20" r="3.40" fill="#f5e132" stroke="#b9a31c" stroke-width="0.55"/>
<circle cx="32.00" cy="175.60" r="3.40" fill="#35a84a" stroke="#1f7a30" stroke-width="0.55"/>
<circle cx="36.50" cy="178.00" r="3.40" fill="#35a84a" stroke="#1f7a30" stroke-width="0.55"/>
<circle cx="29.60" cy="178.80" r="3.40" fill="#35a84a" stroke="#1f7a30" stroke-width="0.55"/>
<circle cx="33.60" cy="181.20" r="3.40" fill="#35a84a" stroke="#1f7a30" stroke-width="0.55"/>
<text x="52.80" y="138.99" font-size="8.1" textLength="9.20" lengthAdjust="spacingAndGlyphs" fill="#231f20" stroke="#231f20" stroke-width="0.22">Tet</text>
<text x="62.70" y="135.77" font-size="4.6" textLength="6.60" lengthAdjust="spacingAndGlyphs" fill="#231f20" stroke="#231f20" stroke-width="0.13">ON</text>
<text x="70.00" y="138.99" font-size="8.1" textLength="19.00" lengthAdjust="spacingAndGlyphs" fill="#231f20" stroke="#231f20" stroke-width="0.22">: 5TFs</text>
<text x="48.10" y="166.99" font-size="8.1" textLength="15.50" lengthAdjust="spacingAndGlyphs" fill="#231f20" stroke="#231f20" stroke-width="0.22">CD34</text>
<text x="64.80" y="164.31" font-size="4.4" textLength="2.60" lengthAdjust="spacingAndGlyphs" fill="#231f20" stroke="#231f20" stroke-width="0.12">+</text>
<text x="71.50" y="166.99" font-size="8.1" textLength="17.40" lengthAdjust="spacingAndGlyphs" fill="#231f20" stroke="#231f20" stroke-width="0.22">HPCs</text>
<line x1="88.00" y1="155.30" x2="50.00" y2="155.30" stroke="#111" stroke-width="1"/>
<path d="M44.6,155.3 L51.4,152.6 L49.8,155.3 L51.4,158.0 z" fill="#111"/>
<path d="M72.5,142.4 C72.5,149.8 67.5,154.3 58.8,155.1" fill="none" stroke="#111" stroke-width="0.95"/>
<text x="237.30" y="29.32" font-size="7.56" textLength="79.00" lengthAdjust="spacingAndGlyphs" fill="#231f20" stroke="#231f20" stroke-width="0.21">46,XY,t(4;12)(q31.3;q15)</text>
<g filter="url(#b0)">
<path d="M213.70,38.90 L214.50,59.20" stroke="#b2b2b2" stroke-width="3.2" fill="none" stroke-linecap="round"/>
<path d="M213.70,38.90 L214.50,59.20" stroke="#4c4c4c" stroke-width="2.944" fill="none" stroke-dasharray="1.6 0.6 1.0 1.0 1.8 1.7 2.0 0.7" stroke-opacity="0.8"/>
<path d="M224.00,40.40 Q217.60,49.00 224.80,58.40" stroke="#b2b2b2" stroke-width="3.2" fill="none" stroke-linecap="round"/>
<path d="M224.00,40.40 Q217.60,49.00 224.80,58.40" stroke="#4c4c4c" stroke-width="2.944" fill="none" stroke-dasharray="1.3 0.6 0.9 1.4 0.6 0.9 1.6 1.5" stroke-opacity="0.8"/>
<path d="M242.20,41.20 L242.20,59.20" stroke="#b2b2b2" stroke-width="3.2" fill="none" stroke-linecap="round"/>
<path d="M242.20,41.20 L242.20,59.20" stroke="#4c4c4c" stroke-width="2.944" fill="none" stroke-dasharray="1.0 1.5 1.9 0.6 1.9 1.7 1.1 0.8" stroke-opacity="0.8"/>
<path d="M251.00,42.80 Q244.00,50.60 250.20,58.40" stroke="#b2b2b2" stroke-width="3.2" fill="none" stroke-linecap="round"/>
<path d="M251.00,42.80 Q244.00,50.60 250.20,58.40" stroke="#4c4c4c" stroke-width="2.944" fill="none" stroke-dasharray="2.1 1.1 0.7 0.8 2.0 1.6 1.9 1.8" stroke-opacity="0.8"/>
<path d="M267.60,44.40 L268.40,58.40" stroke="#b2b2b2" stroke-width="3.2" fill="none" stroke-linecap="round"/>
<path d="M267.60,44.40 L268.40,58.40" stroke="#4c4c4c" stroke-width="2.944" fill="none" stroke-dasharray="1.5 2.2 1.2 1.5 1.9 1.6 2.0 1.5" stroke-opacity="0.8"/>
<path d="M277.90,45.20 Q268.50,50.80 277.90,56.80" stroke="#b2b2b2" stroke-width="3.2" fill="none" stroke-linecap="round"/>
<path d="M277.90,45.20 Q268.50,50.80 277.90,56.80" stroke="#4c4c4c" stroke-width="2.944" fill="none" stroke-dasharray="1.7 0.7 1.0 1.1 0.7 1.0 0.8 1.0" stroke-opacity="0.8"/>
<path d="M296.10,44.40 Q299.00,50.60 296.90,56.80" stroke="#b2b2b2" stroke-width="3.2" fill="none" stroke-linecap="round"/>
<path d="M296.10,44.40 Q299.00,50.60 296.90,56.80" stroke="#4c4c4c" stroke-width="2.944" fill="none" stroke-dasharray="1.6 1.2 1.2 0.9 1.0 2.1 1.6 1.6" stroke-opacity="0.8"/>
<path d="M304.90,45.20 Q301.60,51.40 305.20,59.20" stroke="#b2b2b2" stroke-width="3.2" fill="none" stroke-linecap="round"/>
<path d="M304.90,45.20 Q301.60,51.40 305.20,59.20" stroke="#4c4c4c" stroke-width="2.944" fill="none" stroke-dasharray="0.9 1.8 0.9 1.2 2.2 1.6 1.5 1.7" stroke-opacity="0.8"/>
<path d="M323.90,45.90 L323.90,59.20" stroke="#b2b2b2" stroke-width="3.2" fill="none" stroke-linecap="round"/>
<path d="M323.90,45.90 L323.90,59.20" stroke="#4c4c4c" stroke-width="2.944" fill="none" stroke-dasharray="1.9 1.8 1.0 0.7 1.1 1.0 0.9 2.1" stroke-opacity="0.8"/>
<path d="M331.00,45.90 L331.00,58.40" stroke="#b2b2b2" stroke-width="3.2" fill="none" stroke-linecap="round"/>
<path d="M331.00,45.90 L331.00,58.40" stroke="#4c4c4c" stroke-width="2.944" fill="none" stroke-dasharray="2.0 1.1 1.6 1.2 2.1 1.3 1.0 1.0" stroke-opacity="0.8"/>
<path d="M211.30,69.80 L212.10,83.00" stroke="#b2b2b2" stroke-width="3.2" fill="none" stroke-linecap="round"/>
<path d="M211.30,69.80 L212.10,83.00" stroke="#4c4c4c" stroke-width="2.944" fill="none" stroke-dasharray="1.5 1.0 1.5 2.0 1.2 1.0 2.2 1.4" stroke-opacity="0.8"/>
<path d="M220.00,72.00 Q213.80,76.00 220.80,81.50" stroke="#b2b2b2" stroke-width="3.2" fill="none" stroke-linecap="round"/>
<path d="M220.00,72.00 Q213.80,76.00 220.80,81.50" stroke="#4c4c4c" stroke-width="2.944" fill="none" stroke-dasharray="0.7 0.7 0.8 1.6 1.9 1.3 0.7 1.2" stroke-opacity="0.8"/>
<path d="M233.20,72.60 L233.20,83.80" stroke="#b2b2b2" stroke-width="3.2" fill="none" stroke-linecap="round"/>
<path d="M233.20,72.60 L233.20,83.80" stroke="#4c4c4c" stroke-width="2.944" fill="none" stroke-dasharray="2.2 1.4 2.2 2.0 0.6 1.8 1.7 1.5" stroke-opacity="0.8"/>
<path d="M239.00,72.00 L238.60,83.00" stroke="#b2b2b2" stroke-width="3.2" fill="none" stroke-linecap="round"/>
<path d="M239.00,72.00 L238.60,83.00" stroke="#4c4c4c" stroke-width="2.944" fill="none" stroke-dasharray="1.0 1.6 0.8 1.3 1.3 2.1 2.0 1.0" stroke-opacity="0.8"/>
<path d="M251.70,71.60 L251.70,83.00" stroke="#b2b2b2" stroke-width="3.2" fill="none" stroke-linecap="round"/>
<path d="M251.70,71.60 L251.70,83.00" stroke="#4c4c4c" stroke-width="2.944" fill="none" stroke-dasharray="1.4 0.9 2.1 2.0 1.1 1.6 1.6 0.8" stroke-opacity="0.8"/>
<path d="M257.30,72.90 L258.10,82.20" stroke="#b2b2b2" stroke-width="3.2" fill="none" stroke-linecap="round"/>
<path d="M257.30,72.90 L258.10,82.20" stroke="#4c4c4c" stroke-width="2.944" fill="none" stroke-dasharray="1.8 1.5 1.8 1.4 0.6 1.1 0.6 2.1" stroke-opacity="0.8"/>
<path d="M270.00,71.60 L270.30,83.00" stroke="#b2b2b2" stroke-width="3.2" fill="none" stroke-linecap="round"/>
<path d="M270.00,71.60 L270.30,83.00" stroke="#4c4c4c" stroke-width="2.944" fill="none" stroke-dasharray="2.0 1.9 1.1 0.7 2.0 2.1 0.7 1.4" stroke-opacity="0.8"/>
<path d="M277.10,72.60 L277.10,83.00" stroke="#b2b2b2" stroke-width="3.2" fill="none" stroke-linecap="round"/>
<path d="M277.10,72.60 L277.10,83.00" stroke="#4c4c4c" stroke-width="2.944" fill="none" stroke-dasharray="0.7 1.8 1.8 0.8 1.4 1.5 1.0 2.0" stroke-opacity="0.8"/>
<path d="M289.80,74.50 L289.80,83.80" stroke="#b2b2b2" stroke-width="3.2" fill="none" stroke-linecap="round"/>
<path d="M289.80,74.50 L289.80,83.80" stroke="#4c4c4c" stroke-width="2.944" fill="none" stroke-dasharray="1.3 0.9 1.5 1.8 0.9 1.1 2.2 1.6" stroke-opacity="0.8"/>
<path d="M296.10,74.50 L296.10,82.20" stroke="#b2b2b2" stroke-width="3.2" fill="none" stroke-linecap="round"/>
<path d="M296.10,74.50 L296.10,82.20" stroke="#4c4c4c" stroke-width="2.944" fill="none" stroke-dasharray="1.3 1.4 0.8 1.0 1.1 1.5 1.0 1.0" stroke-opacity="0.8"/>
<path d="M308.80,72.90 L308.80,83.80" stroke="#b2b2b2" stroke-width="3.2" fill="none" stroke-linecap="round"/>
<path d="M308.80,72.90 L308.80,83.80" stroke="#4c4c4c" stroke-width="2.944" fill="none" stroke-dasharray="0.7 1.6 1.0 2.0 2.0 0.7 1.0 1.7" stroke-opacity="0.8"/>
<path d="M315.60,73.70 L315.60,83.00" stroke="#b2b2b2" stroke-width="3.2" fill="none" stroke-linecap="round"/>
<path d="M315.60,73.70 L315.60,83.00" stroke="#4c4c4c" stroke-width="2.944" fill="none" stroke-dasharray="0.9 0.8 2.1 1.5 1.4 1.9 1.9 0.9" stroke-opacity="0.8"/>
<path d="M327.80,72.90 L327.40,83.00" stroke="#b2b2b2" stroke-width="2.8" fill="none" stroke-linecap="round"/>
<path d="M327.80,72.90 L327.40,83.00" stroke="#4c4c4c" stroke-width="2.576" fill="none" stroke-dasharray="0.8 1.3 1.3 1.3 1.8 1.7 2.2 0.8" stroke-opacity="0.8"/>
<path d="M334.20,72.20 L334.20,79.80" stroke="#b2b2b2" stroke-width="2.8" fill="none" stroke-linecap="round"/>
<path d="M334.20,72.20 L334.20,79.80" stroke="#4c4c4c" stroke-width="2.576" fill="none" stroke-dasharray="1.2 1.1 2.0 1.0 0.9 1.3 1.3 1.0" stroke-opacity="0.8"/>
<path d="M213.10,94.20 L212.90,101.80" stroke="#b2b2b2" stroke-width="3" fill="none" stroke-linecap="round"/>
<path d="M213.10,94.20 L212.90,101.80" stroke="#5c5c5c" stroke-width="2.76" fill="none" stroke-dasharray="1.0 2.1 1.3 2.0 1.5 0.7 2.2 1.9" stroke-opacity="0.8"/>
<path d="M219.00,94.80 L219.00,101.80" stroke="#b2b2b2" stroke-width="3" fill="none" stroke-linecap="round"/>
<path d="M219.00,94.80 L219.00,101.80" stroke="#5c5c5c" stroke-width="2.76" fill="none" stroke-dasharray="2.2 2.1 2.0 0.9 1.4 0.9 1.2 0.7" stroke-opacity="0.8"/>
<path d="M235.30,94.20 L235.10,101.80" stroke="#b2b2b2" stroke-width="3" fill="none" stroke-linecap="round"/>
<path d="M235.30,94.20 L235.10,101.80" stroke="#5c5c5c" stroke-width="2.76" fill="none" stroke-dasharray="1.2 2.2 1.0 1.9 1.3 1.3 2.1 2.2" stroke-opacity="0.8"/>
<path d="M241.80,94.80 L241.80,101.80" stroke="#b2b2b2" stroke-width="3" fill="none" stroke-linecap="round"/>
<path d="M241.80,94.80 L241.80,101.80" stroke="#5c5c5c" stroke-width="2.76" fill="none" stroke-dasharray="1.5 1.7 0.8 1.1 2.1 1.5 1.5 1.8" stroke-opacity="0.8"/>
<path d="M259.70,94.20 L259.50,101.80" stroke="#b2b2b2" stroke-width="3" fill="none" stroke-linecap="round"/>
<path d="M259.70,94.20 L259.50,101.80" stroke="#5c5c5c" stroke-width="2.76" fill="none" stroke-dasharray="0.7 1.5 1.4 2.0 0.9 2.1 0.7 0.9" stroke-opacity="0.8"/>
<path d="M264.90,94.80 L264.90,101.80" stroke="#b2b2b2" stroke-width="3" fill="none" stroke-linecap="round"/>
<path d="M264.90,94.80 L264.90,101.80" stroke="#5c5c5c" stroke-width="2.76" fill="none" stroke-dasharray="1.6 1.7 1.0 0.8 2.0 1.0 1.6 1.6" stroke-opacity="0.8"/>
<path d="M281.90,94.20 L281.70,101.80" stroke="#b2b2b2" stroke-width="3" fill="none" stroke-linecap="round"/>
<path d="M281.90,94.20 L281.70,101.80" stroke="#5c5c5c" stroke-width="2.76" fill="none" stroke-dasharray="1.3 1.5 1.4 2.1 0.9 1.7 1.0 1.2" stroke-opacity="0.8"/>
<path d="M287.40,94.80 L287.40,101.80" stroke="#b2b2b2" stroke-width="3" fill="none" stroke-linecap="round"/>
<path d="M287.40,94.80 L287.40,101.80" stroke="#5c5c5c" stroke-width="2.76" fill="none" stroke-dasharray="1.7 1.1 1.1 1.8 0.7 1.3 2.2 2.2" stroke-opacity="0.8"/>
<path d="M303.30,94.20 L303.10,101.80" stroke="#b2b2b2" stroke-width="3" fill="none" stroke-linecap="round"/>
<path d="M303.30,94.20 L303.10,101.80" stroke="#5c5c5c" stroke-width="2.76" fill="none" stroke-dasharray="0.7 0.9 1.0 2.1 2.0 2.0 1.2 0.9" stroke-opacity="0.8"/>
<path d="M308.80,94.80 L308.80,101.80" stroke="#b2b2b2" stroke-width="3" fill="none" stroke-linecap="round"/>
<path d="M308.80,94.80 L308.80,101.80" stroke="#5c5c5c" stroke-width="2.76" fill="none" stroke-dasharray="1.9 1.7 1.6 2.2 1.6 0.6 1.9 1.1" stroke-opacity="0.8"/>
<path d="M326.30,94.20 L326.10,101.80" stroke="#b2b2b2" stroke-width="3" fill="none" stroke-linecap="round"/>
<path d="M326.30,94.20 L326.10,101.80" stroke="#5c5c5c" stroke-width="2.76" fill="none" stroke-dasharray="1.7 2.1 0.8 0.8 0.8 1.5 1.0 1.6" stroke-opacity="0.8"/>
<path d="M333.40,94.80 L333.40,101.80" stroke="#b2b2b2" stroke-width="3" fill="none" stroke-linecap="round"/>
<path d="M333.40,94.80 L333.40,101.80" stroke="#5c5c5c" stroke-width="2.76" fill="none" stroke-dasharray="1.7 0.9 1.6 1.0 1.4 2.0 2.0 0.7" stroke-opacity="0.8"/>
<path d="M214.20,119.00 L214.20,124.00" stroke="#b2b2b2" stroke-width="3" fill="none" stroke-linecap="round"/>
<path d="M214.20,119.00 L214.20,124.00" stroke="#5c5c5c" stroke-width="2.76" fill="none" stroke-dasharray="1.3 1.0 0.6 1.8 1.6 1.0 1.8 1.5" stroke-opacity="0.8"/>
<path d="M219.00,119.00 L219.00,124.00" stroke="#b2b2b2" stroke-width="3" fill="none" stroke-linecap="round"/>
<path d="M219.00,119.00 L219.00,124.00" stroke="#5c5c5c" stroke-width="2.76" fill="none" stroke-dasharray="1.3 0.6 0.7 2.0 2.0 1.5 1.9 1.5" stroke-opacity="0.8"/>
<path d="M236.70,119.00 L236.70,124.00" stroke="#b2b2b2" stroke-width="3" fill="none" stroke-linecap="round"/>
<path d="M236.70,119.00 L236.70,124.00" stroke="#5c5c5c" stroke-width="2.76" fill="none" stroke-dasharray="0.8 0.8 1.1 2.0 1.9 2.0 2.0 0.9" stroke-opacity="0.8"/>
<path d="M242.20,119.00 L242.20,124.00" stroke="#b2b2b2" stroke-width="3" fill="none" stroke-linecap="round"/>
<path d="M242.20,119.00 L242.20,124.00" stroke="#5c5c5c" stroke-width="2.76" fill="none" stroke-dasharray="1.0 0.8 1.8 2.0 1.3 1.6 0.8 2.1" stroke-opacity="0.8"/>
<path d="M259.70,120.40 L259.70,122.40" stroke="#b2b2b2" stroke-width="2.4" fill="none" stroke-linecap="round"/>
<path d="M259.70,120.40 L259.70,122.40" stroke="#4c4c4c" stroke-width="2.208" fill="none" stroke-dasharray="2.0 2.2 1.9 2.0 0.6 1.8 1.1 2.1" stroke-opacity="0.8"/>
<path d="M264.90,120.80 L264.90,122.60" stroke="#b2b2b2" stroke-width="2.4" fill="none" stroke-linecap="round"/>
<path d="M264.90,120.80 L264.90,122.60" stroke="#4c4c4c" stroke-width="2.208" fill="none" stroke-dasharray="1.9 2.0 1.9 1.0 1.9 0.8 2.0 2.0" stroke-opacity="0.8"/>
<path d="M282.40,119.00 L282.40,123.60" stroke="#b2b2b2" stroke-width="3" fill="none" stroke-linecap="round"/>
<path d="M282.40,119.00 L282.40,123.60" stroke="#8a8a8a" stroke-width="2.76" fill="none" stroke-dasharray="1.0 1.9 1.3 1.1 1.9 1.0 0.6 0.9" stroke-opacity="0.8"/>
<path d="M288.20,119.00 L288.20,123.60" stroke="#b2b2b2" stroke-width="3" fill="none" stroke-linecap="round"/>
<path d="M288.20,119.00 L288.20,123.60" stroke="#8a8a8a" stroke-width="2.76" fill="none" stroke-dasharray="1.1 2.0 2.1 1.0 1.6 1.2 2.2 1.5" stroke-opacity="0.8"/>
<path d="M308.00,112.60 L308.00,123.60" stroke="#b2b2b2" stroke-width="2.8" fill="none" stroke-linecap="round"/>
<path d="M308.00,112.60 L308.00,123.60" stroke="#4c4c4c" stroke-width="2.576" fill="none" stroke-dasharray="2.1 0.8 2.2 0.9 2.1 1.0 0.8 1.3" stroke-opacity="0.8"/>
<path d="M330.70,120.20 L330.70,124.20" stroke="#b2b2b2" stroke-width="2.4" fill="none" stroke-linecap="round"/>
<path d="M330.70,120.20 L330.70,124.20" stroke="#4c4c4c" stroke-width="2.208" fill="none" stroke-dasharray="1.8 1.1 1.6 1.4 1.2 1.5 1.0 1.7" stroke-opacity="0.8"/>
</g>
<circle cx="219.00" cy="61.80" r="0.45" fill="#777"/>
<circle cx="245.90" cy="61.80" r="0.45" fill="#777"/>
<circle cx="272.50" cy="61.80" r="0.45" fill="#777"/>
<circle cx="300.30" cy="61.80" r="0.45" fill="#777"/>
<circle cx="327.40" cy="61.80" r="0.45" fill="#777"/>
<circle cx="215.90" cy="85.60" r="0.45" fill="#777"/>
<circle cx="236.00" cy="85.60" r="0.45" fill="#777"/>
<circle cx="254.80" cy="85.60" r="0.45" fill="#777"/>
<circle cx="273.50" cy="85.60" r="0.45" fill="#777"/>
<circle cx="293.00" cy="85.60" r="0.45" fill="#777"/>
<circle cx="312.20" cy="85.60" r="0.45" fill="#777"/>
<circle cx="331.00" cy="85.60" r="0.45" fill="#777"/>
<circle cx="216.00" cy="104.60" r="0.45" fill="#777"/>
<circle cx="238.50" cy="104.60" r="0.45" fill="#777"/>
<circle cx="262.30" cy="104.60" r="0.45" fill="#777"/>
<circle cx="284.60" cy="104.60" r="0.45" fill="#777"/>
<circle cx="306.00" cy="104.60" r="0.45" fill="#777"/>
<circle cx="329.80" cy="104.60" r="0.45" fill="#777"/>
<circle cx="216.60" cy="126.00" r="0.45" fill="#777"/>
<circle cx="239.40" cy="126.00" r="0.45" fill="#777"/>
<circle cx="262.30" cy="126.00" r="0.45" fill="#777"/>
<circle cx="285.30" cy="126.00" r="0.45" fill="#777"/>
<circle cx="308.00" cy="126.00" r="0.45" fill="#777"/>
<circle cx="330.70" cy="126.00" r="0.45" fill="#777"/>
<line x1="304.90" y1="34.80" x2="304.90" y2="38.00" stroke="#111" stroke-width="0.9"/>
<path d="M304.90,42.00 L302.00,36.80 L304.90,38.10 L307.80,36.80 z" fill="#111"/>
<line x1="334.30" y1="64.10" x2="334.30" y2="67.00" stroke="#111" stroke-width="0.9"/>
<path d="M334.30,71.00 L331.40,65.80 L334.30,67.10 L337.20,65.80 z" fill="#111"/>
<text x="343.80" y="34.18" font-size="6.804" textLength="48.40" lengthAdjust="spacingAndGlyphs" fill="#231f20" stroke="#231f20" stroke-width="0.19">SF3B1 (G742D)</text>
<rect x="342.00" y="36.30" width="47.90" height="42.00" fill="#ffffff"/>
<text x="345.50" y="41.48" font-size="4" text-anchor="middle" textLength="2.59" lengthAdjust="spacingAndGlyphs" fill="#2fa640" stroke="#2fa640" stroke-width="0.11" opacity="0.75">A</text>
<text x="351.90" y="41.48" font-size="4" text-anchor="middle" textLength="2.59" lengthAdjust="spacingAndGlyphs" fill="#2fa640" stroke="#2fa640" stroke-width="0.11" opacity="0.75">A</text>
<text x="358.80" y="41.48" font-size="4" text-anchor="middle" textLength="2.59" lengthAdjust="spacingAndGlyphs" fill="#2fa640" stroke="#2fa640" stroke-width="0.11" opacity="0.75">A</text>
<text x="365.30" y="41.48" font-size="4" text-anchor="middle" textLength="2.37" lengthAdjust="spacingAndGlyphs" fill="#cf3a3a" stroke="#cf3a3a" stroke-width="0.11" opacity="0.75">T</text>
<text x="372.20" y="41.48" font-size="4" text-anchor="middle" textLength="2.80" lengthAdjust="spacingAndGlyphs" fill="#1b86cc" stroke="#1b86cc" stroke-width="0.11" opacity="0.75">C</text>
<text x="378.80" y="41.48" font-size="4" text-anchor="middle" textLength="2.80" lengthAdjust="spacingAndGlyphs" fill="#1b86cc" stroke="#1b86cc" stroke-width="0.11" opacity="0.75">C</text>
<text x="386.60" y="41.48" font-size="4" text-anchor="middle" textLength="2.37" lengthAdjust="spacingAndGlyphs" fill="#cf3a3a" stroke="#cf3a3a" stroke-width="0.11" opacity="0.75">T</text>
<path d="M342.00,78.30 C343.98,78.30 344.23,66.70 345.60,66.70 C346.97,66.70 347.22,78.30 349.20,78.30" fill="#e6e6e6" fill-opacity="0.85" stroke="#2fa640" stroke-width="0.9"/>
<path d="M348.60,78.30 C350.58,78.30 350.83,63.10 352.20,63.10 C353.57,63.10 353.82,78.30 355.80,78.30" fill="#e6e6e6" fill-opacity="0.85" stroke="#2fa640" stroke-width="0.9"/>
<path d="M355.40,78.30 C357.38,78.30 357.63,66.90 359.00,66.90 C360.37,66.90 360.62,78.30 362.60,78.30" fill="#e6e6e6" fill-opacity="0.85" stroke="#2fa640" stroke-width="0.9"/>
<path d="M362.80,78.30 C364.34,78.30 364.54,71.10 365.60,71.10 C366.66,71.10 366.86,78.30 368.40,78.30" fill="#e6e6e6" fill-opacity="0.85" stroke="#1b86cc" stroke-width="0.9"/>
<path d="M363.00,78.30 C364.54,78.30 364.74,72.10 365.80,72.10 C366.86,72.10 367.06,78.30 368.60,78.30" fill="#e6e6e6" fill-opacity="0.85" stroke="#cf3a3a" stroke-width="0.9"/>
<path d="M369.00,78.30 C370.98,78.30 371.23,62.30 372.60,62.30 C373.97,62.30 374.22,78.30 376.20,78.30" fill="#e6e6e6" fill-opacity="0.85" stroke="#1b86cc" stroke-width="0.9"/>
<path d="M375.90,78.30 C377.88,78.30 378.13,64.50 379.50,64.50 C380.87,64.50 381.12,78.30 383.10,78.30" fill="#e6e6e6" fill-opacity="0.85" stroke="#1b86cc" stroke-width="0.9"/>
<path d="M383.80,78.30 C385.56,78.30 385.78,65.50 387.00,65.50 C388.22,65.50 388.44,78.30 390.20,78.30" fill="#e6e6e6" fill-opacity="0.85" stroke="#cf3a3a" stroke-width="0.9"/>
<line x1="365.70" y1="46.70" x2="365.70" y2="54.10" stroke="#111" stroke-width="1.1"/>
<path d="M365.70,58.30 L363.00,52.90 L365.70,54.20 L368.40,52.90 z" fill="#111"/>
<rect x="342.0" y="36.30" width="47.9" height="42.0" fill="none" stroke="#111" stroke-width="0.8"/>
<text x="344.90" y="89.18" font-size="6.804" textLength="45.90" lengthAdjust="spacingAndGlyphs" fill="#231f20" stroke="#231f20" stroke-width="0.19">EZH2 (R685H)</text>
<rect x="342.00" y="91.30" width="47.90" height="42.00" fill="#ffffff"/>
<text x="345.50" y="96.48" font-size="4" text-anchor="middle" textLength="2.37" lengthAdjust="spacingAndGlyphs" fill="#cf3a3a" stroke="#cf3a3a" stroke-width="0.11" opacity="0.75">T</text>
<text x="351.90" y="96.48" font-size="4" text-anchor="middle" textLength="2.37" lengthAdjust="spacingAndGlyphs" fill="#cf3a3a" stroke="#cf3a3a" stroke-width="0.11" opacity="0.75">T</text>
<text x="358.80" y="96.48" font-size="4" text-anchor="middle" textLength="2.80" lengthAdjust="spacingAndGlyphs" fill="#1b86cc" stroke="#1b86cc" stroke-width="0.11" opacity="0.75">C</text>
<text x="365.30" y="96.48" font-size="4" text-anchor="middle" textLength="2.59" lengthAdjust="spacingAndGlyphs" fill="#2fa640" stroke="#2fa640" stroke-width="0.11" opacity="0.75">A</text>
<text x="372.20" y="96.48" font-size="4" text-anchor="middle" textLength="2.37" lengthAdjust="spacingAndGlyphs" fill="#cf3a3a" stroke="#cf3a3a" stroke-width="0.11" opacity="0.75">T</text>
<text x="378.80" y="96.48" font-size="4" text-anchor="middle" textLength="2.37" lengthAdjust="spacingAndGlyphs" fill="#cf3a3a" stroke="#cf3a3a" stroke-width="0.11" opacity="0.75">T</text>
<text x="386.60" y="96.48" font-size="4" text-anchor="middle" textLength="2.37" lengthAdjust="spacingAndGlyphs" fill="#cf3a3a" stroke="#cf3a3a" stroke-width="0.11" opacity="0.75">T</text>
<path d="M342.00,133.30 C343.98,133.30 344.23,118.10 345.60,118.10 C346.97,118.10 347.22,133.30 349.20,133.30" fill="#e6e6e6" fill-opacity="0.85" stroke="#cf3a3a" stroke-width="0.9"/>
<path d="M348.60,133.30 C350.58,133.30 350.83,114.10 352.20,114.10 C353.57,114.10 353.82,133.30 355.80,133.30" fill="#e6e6e6" fill-opacity="0.85" stroke="#cf3a3a" stroke-width="0.9"/>
<path d="M355.40,133.30 C357.38,133.30 357.63,119.90 359.00,119.90 C360.37,119.90 360.62,133.30 362.60,133.30" fill="#e6e6e6" fill-opacity="0.85" stroke="#1b86cc" stroke-width="0.9"/>
<path d="M362.40,133.30 C363.83,133.30 364.01,127.70 365.00,127.70 C365.99,127.70 366.17,133.30 367.60,133.30" fill="#e6e6e6" fill-opacity="0.85" stroke="#2fa640" stroke-width="0.9"/>
<path d="M364.00,133.30 C365.32,133.30 365.49,130.10 366.40,130.10 C367.31,130.10 367.48,133.30 368.80,133.30" fill="#e6e6e6" fill-opacity="0.85" stroke="#222" stroke-width="0.9"/>
<path d="M368.60,133.30 C370.58,133.30 370.83,121.90 372.20,121.90 C373.57,121.90 373.82,133.30 375.80,133.30" fill="#e6e6e6" fill-opacity="0.85" stroke="#cf3a3a" stroke-width="0.9"/>
<path d="M375.70,133.30 C377.68,133.30 377.93,115.70 379.30,115.70 C380.67,115.70 380.92,133.30 382.90,133.30" fill="#e6e6e6" fill-opacity="0.85" stroke="#cf3a3a" stroke-width="0.9"/>
<path d="M383.60,133.30 C385.47,133.30 385.71,116.50 387.00,116.50 C388.29,116.50 388.53,133.30 390.40,133.30" fill="#e6e6e6" fill-opacity="0.85" stroke="#cf3a3a" stroke-width="0.9"/>
<line x1="378.40" y1="99.30" x2="378.40" y2="115.30" stroke="#aaa" stroke-width="0.3" stroke-dasharray="0.8 0.8"/>
<line x1="365.70" y1="101.70" x2="365.70" y2="109.10" stroke="#111" stroke-width="1.1"/>
<path d="M365.70,113.30 L363.00,107.90 L365.70,109.20 L368.40,107.90 z" fill="#111"/>
<rect x="342.0" y="91.30" width="47.9" height="42.0" fill="none" stroke="#111" stroke-width="0.8"/>
<rect x="207.80" y="134.00" width="43.30" height="43.80" fill="#14151c"/>
<clipPath id="fc"><rect x="207.8" y="134.0" width="43.3" height="43.8"/></clipPath>
<g clip-path="url(#fc)"><ellipse cx="229.0" cy="156.8" rx="20.6" ry="20.6" fill="url(#nuc)" filter="url(#b2)"/>
<circle cx="224.6" cy="149.6" r="1.0" fill="#58e890" filter="url(#b1)"/><circle cx="217.4" cy="163.0" r="1.0" fill="#70e860" filter="url(#b1)"/><ellipse cx="226.1" cy="166.6" rx="1.3" ry="0.8" fill="#f04878" filter="url(#b1)"/></g>
<text x="225.50" y="142.26" font-size="8.316" textLength="23.80" lengthAdjust="spacingAndGlyphs" fill="#eeeeee" stroke="#eeeeee" stroke-width="0.23">del(5q)</text>
<line x1="253.50" y1="136.30" x2="390.40" y2="136.30" stroke="#b994d4" stroke-width="0.6"/>
<line x1="253.50" y1="177.70" x2="390.40" y2="177.70" stroke="#b994d4" stroke-width="0.6"/>
<rect x="306.90" y="134.90" width="14.10" height="2.70" fill="#b22222"/>
<line x1="253.70" y1="136.30" x2="253.70" y2="177.70" stroke="#b89ad0" stroke-width="0.5"/>
<g fill="#4a34a2">
<rect x="254.6" y="150.2" width="53.4" height="6.4" opacity="0.68" filter="url(#b2)"/>
<rect x="308.6" y="152.2" width="12.0" height="7.0" opacity="0.42" filter="url(#b2)"/>
<rect x="321.0" y="150.0" width="69.0" height="6.8" opacity="0.68" filter="url(#b2)"/>
<circle cx="298.4" cy="153.0" r="0.42" opacity="0.7"/>
<circle cx="327.2" cy="152.8" r="0.42" opacity="0.7"/>
<circle cx="262.5" cy="155.9" r="0.42" opacity="0.7"/>
<circle cx="264.1" cy="154.7" r="0.42" opacity="0.7"/>
<circle cx="312.1" cy="156.3" r="0.42" opacity="0.7"/>
<circle cx="382.9" cy="156.7" r="0.42" opacity="0.7"/>
<circle cx="308.3" cy="158.2" r="0.42" opacity="0.7"/>
<circle cx="274.1" cy="152.0" r="0.42" opacity="0.7"/>
<circle cx="296.4" cy="154.8" r="0.42" opacity="0.7"/>
<circle cx="341.1" cy="156.3" r="0.42" opacity="0.7"/>
<circle cx="328.8" cy="156.7" r="0.42" opacity="0.7"/>
<circle cx="346.7" cy="154.1" r="0.42" opacity="0.7"/>
<circle cx="297.1" cy="151.6" r="0.42" opacity="0.7"/>
<circle cx="362.2" cy="154.1" r="0.42" opacity="0.7"/>
<circle cx="287.7" cy="148.9" r="0.42" opacity="0.7"/>
<circle cx="353.4" cy="152.8" r="0.42" opacity="0.7"/>
<circle cx="387.3" cy="150.1" r="0.42" opacity="0.7"/>
<circle cx="275.2" cy="155.4" r="0.42" opacity="0.7"/>
<circle cx="259.9" cy="153.8" r="0.42" opacity="0.7"/>
<circle cx="373.1" cy="150.5" r="0.42" opacity="0.7"/>
<circle cx="348.7" cy="151.3" r="0.42" opacity="0.7"/>
<circle cx="368.3" cy="152.3" r="0.42" opacity="0.7"/>
<circle cx="318.8" cy="153.4" r="0.42" opacity="0.7"/>
<circle cx="389.1" cy="150.3" r="0.42" opacity="0.7"/>
<circle cx="293.1" cy="153.3" r="0.42" opacity="0.7"/>
<circle cx="270.5" cy="152.6" r="0.42" opacity="0.7"/>
<circle cx="358.6" cy="153.5" r="0.42" opacity="0.7"/>
<circle cx="372.6" cy="158.5" r="0.42" opacity="0.7"/>
<circle cx="315.4" cy="158.1" r="0.42" opacity="0.7"/>
<circle cx="292.3" cy="149.3" r="0.42" opacity="0.7"/>
<circle cx="303.2" cy="154.8" r="0.42" opacity="0.7"/>
<circle cx="278.5" cy="153.2" r="0.42" opacity="0.7"/>
<circle cx="286.2" cy="152.0" r="0.42" opacity="0.7"/>
<circle cx="255.2" cy="152.5" r="0.42" opacity="0.7"/>
<circle cx="304.6" cy="156.9" r="0.42" opacity="0.7"/>
<circle cx="324.4" cy="152.5" r="0.42" opacity="0.7"/>
<circle cx="346.2" cy="160.5" r="0.42" opacity="0.7"/>
<circle cx="373.0" cy="151.1" r="0.42" opacity="0.7"/>
<circle cx="307.7" cy="156.1" r="0.42" opacity="0.7"/>
<circle cx="263.0" cy="157.8" r="0.42" opacity="0.7"/>
<circle cx="282.9" cy="153.1" r="0.42" opacity="0.7"/>
<circle cx="254.6" cy="154.1" r="0.42" opacity="0.7"/>
<circle cx="268.3" cy="158.1" r="0.42" opacity="0.7"/>
<circle cx="337.7" cy="154.2" r="0.42" opacity="0.7"/>
<circle cx="288.8" cy="152.7" r="0.42" opacity="0.7"/>
<circle cx="369.5" cy="154.4" r="0.42" opacity="0.7"/>
<circle cx="317.7" cy="159.3" r="0.42" opacity="0.7"/>
<circle cx="290.4" cy="154.8" r="0.42" opacity="0.7"/>
<circle cx="276.5" cy="159.3" r="0.42" opacity="0.7"/>
<circle cx="274.4" cy="152.6" r="0.42" opacity="0.7"/>
<circle cx="258.3" cy="158.0" r="0.42" opacity="0.7"/>
<circle cx="348.9" cy="152.9" r="0.42" opacity="0.7"/>
<circle cx="304.3" cy="153.9" r="0.42" opacity="0.7"/>
<circle cx="360.1" cy="150.7" r="0.42" opacity="0.7"/>
<circle cx="284.8" cy="158.0" r="0.42" opacity="0.7"/>
<circle cx="363.7" cy="153.1" r="0.42" opacity="0.7"/>
<circle cx="354.8" cy="151.4" r="0.42" opacity="0.7"/>
<circle cx="258.5" cy="153.0" r="0.42" opacity="0.7"/>
<circle cx="292.4" cy="151.5" r="0.42" opacity="0.7"/>
<circle cx="315.2" cy="148.6" r="0.42" opacity="0.7"/>
<circle cx="383.9" cy="153.8" r="0.42" opacity="0.7"/>
<circle cx="281.2" cy="155.1" r="0.42" opacity="0.7"/>
<circle cx="339.1" cy="154.9" r="0.42" opacity="0.7"/>
<circle cx="343.0" cy="151.3" r="0.42" opacity="0.7"/>
<circle cx="266.1" cy="156.9" r="0.42" opacity="0.7"/>
<circle cx="356.2" cy="151.3" r="0.42" opacity="0.7"/>
<circle cx="278.8" cy="151.5" r="0.42" opacity="0.7"/>
<circle cx="386.2" cy="157.1" r="0.42" opacity="0.7"/>
<circle cx="308.9" cy="156.4" r="0.42" opacity="0.7"/>
<circle cx="275.1" cy="154.6" r="0.42" opacity="0.7"/>
<circle cx="363.8" cy="156.5" r="0.42" opacity="0.7"/>
<circle cx="343.6" cy="147.8" r="0.42" opacity="0.7"/>
<circle cx="328.9" cy="159.6" r="0.42" opacity="0.7"/>
<circle cx="342.6" cy="154.0" r="0.42" opacity="0.7"/>
<circle cx="381.0" cy="156.5" r="0.42" opacity="0.7"/>
<circle cx="283.2" cy="150.4" r="0.42" opacity="0.7"/>
<circle cx="294.3" cy="152.0" r="0.42" opacity="0.7"/>
<circle cx="377.8" cy="152.6" r="0.42" opacity="0.7"/>
<circle cx="316.6" cy="149.7" r="0.42" opacity="0.7"/>
<circle cx="322.5" cy="156.0" r="0.42" opacity="0.7"/>
<circle cx="325.5" cy="150.5" r="0.42" opacity="0.7"/>
<circle cx="255.1" cy="154.0" r="0.42" opacity="0.7"/>
<circle cx="277.9" cy="153.0" r="0.42" opacity="0.7"/>
<circle cx="298.7" cy="150.6" r="0.42" opacity="0.7"/>
<circle cx="329.8" cy="155.8" r="0.42" opacity="0.7"/>
<circle cx="288.2" cy="155.3" r="0.42" opacity="0.7"/>
<circle cx="359.2" cy="149.9" r="0.42" opacity="0.7"/>
<circle cx="378.2" cy="152.0" r="0.42" opacity="0.7"/>
<circle cx="337.5" cy="150.0" r="0.42" opacity="0.7"/>
<circle cx="315.8" cy="155.2" r="0.42" opacity="0.7"/>
<circle cx="382.1" cy="157.4" r="0.42" opacity="0.7"/>
<circle cx="289.7" cy="149.7" r="0.42" opacity="0.7"/>
<circle cx="382.3" cy="154.3" r="0.42" opacity="0.7"/>
<circle cx="287.2" cy="155.4" r="0.42" opacity="0.7"/>
<circle cx="345.2" cy="154.6" r="0.42" opacity="0.7"/>
<circle cx="351.6" cy="152.7" r="0.42" opacity="0.7"/>
<circle cx="274.0" cy="155.1" r="0.42" opacity="0.7"/>
<circle cx="383.6" cy="153.2" r="0.42" opacity="0.7"/>
<circle cx="320.6" cy="157.3" r="0.42" opacity="0.7"/>
<circle cx="324.4" cy="155.6" r="0.42" opacity="0.7"/>
<circle cx="281.1" cy="153.4" r="0.42" opacity="0.7"/>
<circle cx="329.6" cy="153.1" r="0.42" opacity="0.7"/>
<circle cx="257.0" cy="151.5" r="0.42" opacity="0.7"/>
<circle cx="263.3" cy="151.6" r="0.42" opacity="0.7"/>
<circle cx="361.3" cy="154.9" r="0.42" opacity="0.7"/>
<circle cx="260.0" cy="154.6" r="0.42" opacity="0.7"/>
<circle cx="291.2" cy="149.0" r="0.42" opacity="0.7"/>
<circle cx="365.5" cy="155.9" r="0.42" opacity="0.7"/>
<circle cx="274.8" cy="150.3" r="0.42" opacity="0.7"/>
<circle cx="266.7" cy="150.2" r="0.42" opacity="0.7"/>
<circle cx="347.8" cy="158.4" r="0.42" opacity="0.7"/>
<circle cx="340.5" cy="155.9" r="0.42" opacity="0.7"/>
<circle cx="265.9" cy="157.7" r="0.42" opacity="0.7"/>
<circle cx="316.0" cy="158.0" r="0.42" opacity="0.7"/>
<circle cx="380.1" cy="155.4" r="0.42" opacity="0.7"/>
<circle cx="286.9" cy="155.5" r="0.42" opacity="0.7"/>
<circle cx="276.5" cy="154.8" r="0.42" opacity="0.7"/>
<circle cx="295.9" cy="155.4" r="0.42" opacity="0.7"/>
<circle cx="293.9" cy="154.4" r="0.42" opacity="0.7"/>
<circle cx="257.1" cy="155.4" r="0.42" opacity="0.7"/>
<circle cx="256.7" cy="152.1" r="0.42" opacity="0.7"/>
<circle cx="318.9" cy="155.0" r="0.42" opacity="0.7"/>
<circle cx="365.5" cy="149.1" r="0.42" opacity="0.7"/>
<circle cx="307.8" cy="153.6" r="0.42" opacity="0.7"/>
<circle cx="347.7" cy="151.1" r="0.42" opacity="0.7"/>
<circle cx="350.3" cy="157.1" r="0.42" opacity="0.7"/>
<circle cx="309.4" cy="156.9" r="0.42" opacity="0.7"/>
<circle cx="354.9" cy="154.1" r="0.42" opacity="0.7"/>
<circle cx="276.7" cy="159.0" r="0.42" opacity="0.7"/>
<circle cx="345.4" cy="149.6" r="0.42" opacity="0.7"/>
<circle cx="287.4" cy="152.2" r="0.42" opacity="0.7"/>
<circle cx="315.0" cy="156.0" r="0.42" opacity="0.7"/>
<circle cx="386.3" cy="153.7" r="0.42" opacity="0.7"/>
<circle cx="296.5" cy="159.5" r="0.42" opacity="0.7"/>
<circle cx="254.7" cy="150.8" r="0.42" opacity="0.7"/>
<circle cx="281.8" cy="153.9" r="0.42" opacity="0.7"/>
<circle cx="255.3" cy="155.5" r="0.42" opacity="0.7"/>
<circle cx="260.2" cy="156.2" r="0.42" opacity="0.7"/>
<circle cx="295.8" cy="151.1" r="0.42" opacity="0.7"/>
<circle cx="356.2" cy="152.1" r="0.42" opacity="0.7"/>
<circle cx="351.5" cy="151.9" r="0.42" opacity="0.7"/>
<circle cx="387.9" cy="154.8" r="0.42" opacity="0.7"/>
<circle cx="352.7" cy="157.7" r="0.42" opacity="0.7"/>
<circle cx="375.4" cy="154.7" r="0.42" opacity="0.7"/>
<circle cx="354.0" cy="155.3" r="0.42" opacity="0.7"/>
<circle cx="322.9" cy="155.7" r="0.42" opacity="0.7"/>
<circle cx="363.6" cy="149.3" r="0.42" opacity="0.7"/>
<circle cx="347.1" cy="151.1" r="0.42" opacity="0.7"/>
<circle cx="285.7" cy="156.7" r="0.42" opacity="0.7"/>
<circle cx="268.8" cy="155.1" r="0.42" opacity="0.7"/>
<circle cx="330.2" cy="151.1" r="0.42" opacity="0.7"/>
<circle cx="362.6" cy="151.0" r="0.42" opacity="0.7"/>
<circle cx="322.7" cy="153.0" r="0.42" opacity="0.7"/>
<circle cx="354.4" cy="152.8" r="0.42" opacity="0.7"/>
<circle cx="264.7" cy="153.3" r="0.42" opacity="0.7"/>
<circle cx="354.8" cy="152.0" r="0.42" opacity="0.7"/>
<circle cx="321.5" cy="150.0" r="0.42" opacity="0.7"/>
<circle cx="358.4" cy="154.0" r="0.42" opacity="0.7"/>
<circle cx="341.6" cy="155.8" r="0.42" opacity="0.7"/>
<circle cx="355.2" cy="154.9" r="0.42" opacity="0.7"/>
<circle cx="331.5" cy="157.2" r="0.42" opacity="0.7"/>
<circle cx="345.6" cy="154.2" r="0.42" opacity="0.7"/>
<circle cx="346.1" cy="150.9" r="0.42" opacity="0.7"/>
<circle cx="375.6" cy="153.2" r="0.42" opacity="0.7"/>
<circle cx="387.0" cy="156.0" r="0.42" opacity="0.7"/>
<circle cx="365.6" cy="153.8" r="0.42" opacity="0.7"/>
<circle cx="315.5" cy="157.5" r="0.42" opacity="0.7"/>
<circle cx="333.3" cy="153.0" r="0.42" opacity="0.7"/>
<circle cx="325.6" cy="156.4" r="0.42" opacity="0.7"/>
<circle cx="323.5" cy="156.7" r="0.42" opacity="0.7"/>
<circle cx="349.8" cy="155.6" r="0.42" opacity="0.7"/>
<circle cx="258.0" cy="150.0" r="0.42" opacity="0.7"/>
<circle cx="321.2" cy="153.1" r="0.42" opacity="0.7"/>
<circle cx="301.2" cy="154.7" r="0.42" opacity="0.7"/>
<circle cx="368.4" cy="153.5" r="0.42" opacity="0.7"/>
<circle cx="270.9" cy="149.1" r="0.42" opacity="0.7"/>
<circle cx="351.1" cy="153.0" r="0.42" opacity="0.7"/>
<circle cx="307.8" cy="155.7" r="0.42" opacity="0.7"/>
<circle cx="334.4" cy="151.8" r="0.42" opacity="0.7"/>
<circle cx="261.1" cy="154.3" r="0.42" opacity="0.7"/>
<circle cx="367.6" cy="155.1" r="0.42" opacity="0.7"/>
<circle cx="290.6" cy="152.8" r="0.42" opacity="0.7"/>
<circle cx="280.3" cy="158.1" r="0.42" opacity="0.7"/>
<circle cx="364.5" cy="152.2" r="0.42" opacity="0.7"/>
<circle cx="378.3" cy="150.0" r="0.42" opacity="0.7"/>
<circle cx="261.3" cy="152.4" r="0.42" opacity="0.7"/>
<circle cx="315.6" cy="155.4" r="0.42" opacity="0.7"/>
<circle cx="380.1" cy="154.2" r="0.42" opacity="0.7"/>
<circle cx="318.5" cy="155.0" r="0.42" opacity="0.7"/>
<circle cx="289.8" cy="147.2" r="0.42" opacity="0.7"/>
<circle cx="295.3" cy="152.4" r="0.42" opacity="0.7"/>
<circle cx="276.5" cy="154.4" r="0.42" opacity="0.7"/>
<circle cx="377.3" cy="154.4" r="0.42" opacity="0.7"/>
<circle cx="389.5" cy="158.4" r="0.42" opacity="0.7"/>
<circle cx="273.5" cy="155.3" r="0.42" opacity="0.7"/>
<circle cx="266.9" cy="154.6" r="0.42" opacity="0.7"/>
<circle cx="289.6" cy="156.4" r="0.42" opacity="0.7"/>
<circle cx="310.5" cy="152.4" r="0.42" opacity="0.7"/>
<circle cx="305.6" cy="155.2" r="0.42" opacity="0.7"/>
<circle cx="385.6" cy="154.2" r="0.42" opacity="0.7"/>
<circle cx="322.8" cy="154.5" r="0.42" opacity="0.7"/>
<circle cx="291.3" cy="152.3" r="0.42" opacity="0.7"/>
<circle cx="308.7" cy="159.1" r="0.42" opacity="0.7"/>
<circle cx="257.6" cy="145.2" r="0.42" opacity="0.7"/>
<circle cx="350.7" cy="150.5" r="0.42" opacity="0.7"/>
<circle cx="254.6" cy="154.0" r="0.42" opacity="0.7"/>
<circle cx="380.1" cy="157.3" r="0.42" opacity="0.7"/>
<circle cx="288.2" cy="148.6" r="0.42" opacity="0.7"/>
<circle cx="275.5" cy="151.2" r="0.42" opacity="0.7"/>
<circle cx="352.3" cy="148.5" r="0.42" opacity="0.7"/>
<circle cx="358.2" cy="152.9" r="0.42" opacity="0.7"/>
<circle cx="360.5" cy="153.3" r="0.42" opacity="0.7"/>
<circle cx="379.2" cy="153.1" r="0.42" opacity="0.7"/>
<circle cx="288.7" cy="154.6" r="0.42" opacity="0.7"/>
<circle cx="349.2" cy="156.0" r="0.42" opacity="0.7"/>
<circle cx="333.5" cy="154.7" r="0.42" opacity="0.7"/>
<circle cx="284.9" cy="155.4" r="0.42" opacity="0.7"/>
<circle cx="317.0" cy="155.8" r="0.42" opacity="0.7"/>
<circle cx="374.3" cy="153.7" r="0.42" opacity="0.7"/>
<circle cx="384.7" cy="155.2" r="0.42" opacity="0.7"/>
<circle cx="296.2" cy="146.0" r="0.42" opacity="0.7"/>
<circle cx="311.5" cy="155.6" r="0.42" opacity="0.7"/>
<circle cx="379.9" cy="155.5" r="0.42" opacity="0.7"/>
<circle cx="311.5" cy="156.2" r="0.42" opacity="0.7"/>
<circle cx="362.5" cy="151.9" r="0.42" opacity="0.7"/>
<circle cx="385.9" cy="153.5" r="0.42" opacity="0.7"/>
<circle cx="365.6" cy="154.2" r="0.42" opacity="0.7"/>
<circle cx="294.5" cy="157.3" r="0.42" opacity="0.7"/>
<circle cx="321.7" cy="153.9" r="0.42" opacity="0.7"/>
<circle cx="344.7" cy="155.9" r="0.42" opacity="0.7"/>
<circle cx="274.4" cy="154.9" r="0.42" opacity="0.7"/>
<circle cx="273.8" cy="166.7" r="0.42" opacity="0.7"/>
<circle cx="262.7" cy="157.3" r="0.42" opacity="0.7"/>
<circle cx="353.8" cy="150.7" r="0.42" opacity="0.7"/>
<circle cx="380.7" cy="155.6" r="0.42" opacity="0.7"/>
<circle cx="355.7" cy="164.3" r="0.42" opacity="0.7"/>
<circle cx="344.6" cy="152.1" r="0.42" opacity="0.7"/>
<circle cx="277.5" cy="156.7" r="0.42" opacity="0.7"/>
<circle cx="292.5" cy="154.6" r="0.42" opacity="0.7"/>
<circle cx="385.2" cy="153.2" r="0.42" opacity="0.7"/>
<circle cx="302.9" cy="154.6" r="0.42" opacity="0.7"/>
<circle cx="261.3" cy="151.3" r="0.42" opacity="0.7"/>
<circle cx="305.1" cy="154.3" r="0.42" opacity="0.7"/>
<circle cx="376.1" cy="158.0" r="0.42" opacity="0.7"/>
<circle cx="310.2" cy="156.4" r="0.42" opacity="0.7"/>
<circle cx="263.1" cy="153.7" r="0.42" opacity="0.7"/>
<circle cx="289.4" cy="155.2" r="0.42" opacity="0.7"/>
<circle cx="291.5" cy="152.3" r="0.42" opacity="0.7"/>
<circle cx="338.1" cy="153.1" r="0.42" opacity="0.7"/>
<circle cx="291.9" cy="149.2" r="0.42" opacity="0.7"/>
<circle cx="356.9" cy="149.8" r="0.42" opacity="0.7"/>
<circle cx="257.9" cy="149.4" r="0.42" opacity="0.7"/>
<circle cx="318.9" cy="153.9" r="0.42" opacity="0.7"/>
<circle cx="312.8" cy="157.1" r="0.42" opacity="0.7"/>
<circle cx="279.4" cy="153.2" r="0.42" opacity="0.7"/>
<circle cx="359.2" cy="149.2" r="0.42" opacity="0.7"/>
<circle cx="299.0" cy="150.9" r="0.42" opacity="0.7"/>
<circle cx="265.3" cy="156.6" r="0.42" opacity="0.7"/>
<circle cx="356.5" cy="154.1" r="0.42" opacity="0.7"/>
<circle cx="329.4" cy="153.7" r="0.42" opacity="0.7"/>
<circle cx="387.3" cy="155.3" r="0.42" opacity="0.7"/>
<circle cx="266.0" cy="153.2" r="0.42" opacity="0.7"/>
<circle cx="322.1" cy="151.9" r="0.42" opacity="0.7"/>
<circle cx="311.0" cy="156.3" r="0.42" opacity="0.7"/>
<circle cx="355.9" cy="152.9" r="0.42" opacity="0.7"/>
<circle cx="368.5" cy="152.5" r="0.42" opacity="0.7"/>
<circle cx="331.4" cy="153.4" r="0.42" opacity="0.7"/>
<circle cx="288.1" cy="152.0" r="0.42" opacity="0.7"/>
<circle cx="275.4" cy="151.7" r="0.42" opacity="0.7"/>
<circle cx="308.2" cy="154.3" r="0.42" opacity="0.7"/>
<circle cx="285.9" cy="149.5" r="0.42" opacity="0.7"/>
<circle cx="268.5" cy="147.7" r="0.42" opacity="0.7"/>
<circle cx="365.5" cy="154.1" r="0.42" opacity="0.7"/>
<circle cx="294.4" cy="153.2" r="0.42" opacity="0.7"/>
<circle cx="280.3" cy="148.9" r="0.42" opacity="0.7"/>
<circle cx="305.0" cy="150.9" r="0.42" opacity="0.7"/>
<circle cx="315.4" cy="156.9" r="0.42" opacity="0.7"/>
<circle cx="335.3" cy="153.1" r="0.42" opacity="0.7"/>
<circle cx="284.1" cy="154.5" r="0.42" opacity="0.7"/>
<circle cx="289.1" cy="154.7" r="0.42" opacity="0.7"/>
<circle cx="342.8" cy="155.5" r="0.42" opacity="0.7"/>
<circle cx="346.4" cy="153.6" r="0.42" opacity="0.7"/>
<circle cx="296.9" cy="154.3" r="0.42" opacity="0.7"/>
<circle cx="263.2" cy="150.7" r="0.42" opacity="0.7"/>
<circle cx="308.1" cy="157.1" r="0.42" opacity="0.7"/>
<circle cx="348.8" cy="154.2" r="0.42" opacity="0.7"/>
<circle cx="293.0" cy="155.4" r="0.42" opacity="0.7"/>
<circle cx="331.3" cy="152.9" r="0.42" opacity="0.7"/>
<circle cx="311.0" cy="154.3" r="0.42" opacity="0.7"/>
<circle cx="353.2" cy="154.7" r="0.42" opacity="0.7"/>
<circle cx="255.4" cy="149.7" r="0.42" opacity="0.7"/>
<circle cx="309.6" cy="158.2" r="0.42" opacity="0.7"/>
<circle cx="276.6" cy="146.7" r="0.42" opacity="0.7"/>
<circle cx="377.8" cy="151.2" r="0.42" opacity="0.7"/>
<circle cx="338.8" cy="152.2" r="0.42" opacity="0.7"/>
<circle cx="293.0" cy="153.5" r="0.42" opacity="0.7"/>
<circle cx="379.9" cy="149.3" r="0.42" opacity="0.7"/>
<circle cx="385.5" cy="153.7" r="0.42" opacity="0.7"/>
<circle cx="271.7" cy="156.1" r="0.42" opacity="0.7"/>
<circle cx="261.8" cy="153.1" r="0.42" opacity="0.7"/>
<circle cx="307.1" cy="150.4" r="0.42" opacity="0.7"/>
<circle cx="276.3" cy="150.6" r="0.42" opacity="0.7"/>
<circle cx="284.7" cy="156.0" r="0.42" opacity="0.7"/>
<circle cx="279.4" cy="149.9" r="0.42" opacity="0.7"/>
<circle cx="308.7" cy="157.2" r="0.42" opacity="0.7"/>
<circle cx="352.7" cy="154.7" r="0.42" opacity="0.7"/>
<circle cx="260.2" cy="153.5" r="0.42" opacity="0.7"/>
<circle cx="368.1" cy="152.9" r="0.42" opacity="0.7"/>
<circle cx="335.8" cy="152.1" r="0.42" opacity="0.7"/>
<circle cx="311.5" cy="153.8" r="0.42" opacity="0.7"/>
<circle cx="343.8" cy="153.0" r="0.42" opacity="0.7"/>
<circle cx="338.4" cy="153.7" r="0.42" opacity="0.7"/>
<circle cx="286.5" cy="154.0" r="0.42" opacity="0.7"/>
<circle cx="278.9" cy="151.0" r="0.42" opacity="0.7"/>
<circle cx="269.1" cy="152.6" r="0.42" opacity="0.7"/>
<circle cx="314.4" cy="156.5" r="0.42" opacity="0.7"/>
<circle cx="340.8" cy="152.6" r="0.42" opacity="0.7"/>
<circle cx="323.9" cy="144.9" r="0.42" opacity="0.7"/>
<circle cx="322.8" cy="154.7" r="0.42" opacity="0.7"/>
<circle cx="370.6" cy="153.1" r="0.42" opacity="0.7"/>
<circle cx="353.7" cy="155.8" r="0.42" opacity="0.7"/>
<circle cx="321.2" cy="159.6" r="0.42" opacity="0.7"/>
<circle cx="378.6" cy="154.8" r="0.42" opacity="0.7"/>
<circle cx="263.5" cy="148.3" r="0.42" opacity="0.7"/>
<circle cx="357.0" cy="155.0" r="0.42" opacity="0.7"/>
<circle cx="365.0" cy="152.4" r="0.42" opacity="0.7"/>
<circle cx="322.6" cy="154.0" r="0.42" opacity="0.7"/>
<circle cx="323.1" cy="155.2" r="0.42" opacity="0.7"/>
<circle cx="259.6" cy="156.4" r="0.42" opacity="0.7"/>
<circle cx="346.6" cy="158.1" r="0.42" opacity="0.7"/>
<circle cx="277.4" cy="155.6" r="0.42" opacity="0.7"/>
<circle cx="340.8" cy="155.4" r="0.42" opacity="0.7"/>
<circle cx="372.8" cy="149.3" r="0.42" opacity="0.7"/>
<circle cx="268.8" cy="151.2" r="0.42" opacity="0.7"/>
<circle cx="339.9" cy="154.0" r="0.42" opacity="0.7"/>
<circle cx="388.7" cy="151.8" r="0.42" opacity="0.7"/>
<circle cx="303.4" cy="152.2" r="0.42" opacity="0.7"/>
<circle cx="355.3" cy="154.6" r="0.42" opacity="0.7"/>
<circle cx="365.6" cy="149.3" r="0.42" opacity="0.7"/>
<circle cx="333.9" cy="148.4" r="0.42" opacity="0.7"/>
<circle cx="296.9" cy="156.3" r="0.42" opacity="0.7"/>
<circle cx="338.0" cy="153.8" r="0.42" opacity="0.7"/>
<circle cx="324.0" cy="154.6" r="0.42" opacity="0.7"/>
<circle cx="343.0" cy="156.1" r="0.42" opacity="0.7"/>
<circle cx="255.0" cy="155.2" r="0.42" opacity="0.7"/>
<circle cx="285.0" cy="154.8" r="0.42" opacity="0.7"/>
<circle cx="334.4" cy="151.6" r="0.42" opacity="0.7"/>
<circle cx="272.8" cy="151.7" r="0.42" opacity="0.7"/>
<circle cx="287.6" cy="156.2" r="0.42" opacity="0.7"/>
<circle cx="372.6" cy="155.4" r="0.42" opacity="0.7"/>
<circle cx="309.0" cy="151.7" r="0.42" opacity="0.7"/>
<circle cx="302.0" cy="151.2" r="0.42" opacity="0.7"/>
<circle cx="314.7" cy="155.7" r="0.42" opacity="0.7"/>
<circle cx="260.6" cy="158.5" r="0.42" opacity="0.7"/>
<circle cx="262.5" cy="156.4" r="0.42" opacity="0.7"/>
<circle cx="382.0" cy="153.7" r="0.42" opacity="0.7"/>
<circle cx="281.6" cy="150.2" r="0.42" opacity="0.7"/>
<circle cx="364.7" cy="153.4" r="0.42" opacity="0.7"/>
<circle cx="296.5" cy="158.1" r="0.42" opacity="0.7"/>
<circle cx="360.6" cy="154.9" r="0.42" opacity="0.7"/>
<circle cx="255.5" cy="153.4" r="0.42" opacity="0.7"/>
<circle cx="355.0" cy="150.9" r="0.42" opacity="0.7"/>
<circle cx="285.2" cy="153.6" r="0.42" opacity="0.7"/>
<circle cx="300.0" cy="154.1" r="0.42" opacity="0.7"/>
<circle cx="348.7" cy="153.1" r="0.42" opacity="0.7"/>
<circle cx="329.6" cy="151.7" r="0.42" opacity="0.7"/>
<circle cx="361.4" cy="153.2" r="0.42" opacity="0.7"/>
<circle cx="385.3" cy="156.8" r="0.42" opacity="0.7"/>
<circle cx="373.8" cy="153.3" r="0.42" opacity="0.7"/>
<circle cx="355.3" cy="155.2" r="0.42" opacity="0.7"/>
<circle cx="355.6" cy="155.0" r="0.42" opacity="0.7"/>
<circle cx="287.0" cy="152.1" r="0.42" opacity="0.7"/>
<circle cx="340.0" cy="150.3" r="0.42" opacity="0.7"/>
<circle cx="318.2" cy="148.4" r="0.42" opacity="0.7"/>
<circle cx="370.7" cy="153.0" r="0.42" opacity="0.7"/>
<circle cx="296.3" cy="150.5" r="0.42" opacity="0.7"/>
<circle cx="338.9" cy="155.9" r="0.42" opacity="0.7"/>
<circle cx="258.2" cy="152.8" r="0.42" opacity="0.7"/>
<circle cx="380.4" cy="153.8" r="0.42" opacity="0.7"/>
<circle cx="260.2" cy="153.9" r="0.42" opacity="0.7"/>
<circle cx="340.4" cy="153.4" r="0.42" opacity="0.7"/>
<circle cx="334.6" cy="152.7" r="0.42" opacity="0.7"/>
<circle cx="365.3" cy="154.2" r="0.42" opacity="0.7"/>
<circle cx="372.1" cy="153.0" r="0.42" opacity="0.7"/>
<circle cx="382.5" cy="153.8" r="0.42" opacity="0.7"/>
<circle cx="259.3" cy="154.6" r="0.42" opacity="0.7"/>
<circle cx="364.5" cy="155.0" r="0.42" opacity="0.7"/>
<circle cx="293.5" cy="147.2" r="0.42" opacity="0.7"/>
<circle cx="267.9" cy="154.1" r="0.42" opacity="0.7"/>
<circle cx="289.4" cy="155.4" r="0.42" opacity="0.7"/>
<circle cx="351.5" cy="150.9" r="0.42" opacity="0.7"/>
<circle cx="322.8" cy="158.9" r="0.42" opacity="0.7"/>
<circle cx="338.3" cy="148.9" r="0.42" opacity="0.7"/>
<circle cx="359.3" cy="154.8" r="0.42" opacity="0.7"/>
<circle cx="350.0" cy="154.5" r="0.42" opacity="0.7"/>
<circle cx="266.9" cy="158.0" r="0.42" opacity="0.7"/>
<circle cx="277.7" cy="156.0" r="0.42" opacity="0.7"/>
<circle cx="387.0" cy="161.6" r="0.42" opacity="0.7"/>
<circle cx="321.1" cy="153.9" r="0.42" opacity="0.7"/>
<circle cx="321.6" cy="152.1" r="0.42" opacity="0.7"/>
<circle cx="367.2" cy="155.3" r="0.42" opacity="0.7"/>
<circle cx="283.7" cy="152.9" r="0.42" opacity="0.7"/>
<circle cx="322.1" cy="152.9" r="0.42" opacity="0.7"/>
<circle cx="361.3" cy="152.8" r="0.42" opacity="0.7"/>
<circle cx="361.2" cy="152.1" r="0.42" opacity="0.7"/>
<circle cx="308.0" cy="159.6" r="0.42" opacity="0.7"/>
<circle cx="374.9" cy="154.6" r="0.42" opacity="0.7"/>
<circle cx="376.6" cy="155.2" r="0.42" opacity="0.7"/>
<circle cx="306.0" cy="153.8" r="0.42" opacity="0.7"/>
<circle cx="326.6" cy="156.0" r="0.42" opacity="0.7"/>
<circle cx="356.6" cy="152.3" r="0.42" opacity="0.7"/>
<circle cx="275.6" cy="155.2" r="0.42" opacity="0.7"/>
<circle cx="344.2" cy="154.7" r="0.42" opacity="0.7"/>
<circle cx="359.3" cy="155.7" r="0.42" opacity="0.7"/>
<circle cx="271.7" cy="154.8" r="0.42" opacity="0.7"/>
<circle cx="280.5" cy="152.4" r="0.42" opacity="0.7"/>
<circle cx="349.8" cy="154.3" r="0.42" opacity="0.7"/>
<circle cx="288.1" cy="154.6" r="0.42" opacity="0.7"/>
<circle cx="325.3" cy="152.8" r="0.42" opacity="0.7"/>
<circle cx="386.6" cy="154.8" r="0.42" opacity="0.7"/>
<circle cx="268.4" cy="155.3" r="0.42" opacity="0.7"/>
<circle cx="387.8" cy="154.9" r="0.42" opacity="0.7"/>
<circle cx="353.9" cy="154.6" r="0.42" opacity="0.7"/>
<circle cx="269.1" cy="156.6" r="0.42" opacity="0.7"/>
<circle cx="307.2" cy="146.4" r="0.42" opacity="0.7"/>
<circle cx="348.5" cy="155.9" r="0.42" opacity="0.7"/>
<circle cx="340.2" cy="155.5" r="0.42" opacity="0.7"/>
<circle cx="309.4" cy="158.8" r="0.42" opacity="0.7"/>
<circle cx="312.8" cy="153.7" r="0.42" opacity="0.7"/>
<circle cx="352.4" cy="154.3" r="0.42" opacity="0.7"/>
<circle cx="359.4" cy="155.6" r="0.42" opacity="0.7"/>
<circle cx="341.5" cy="150.7" r="0.42" opacity="0.7"/>
<circle cx="297.0" cy="155.5" r="0.42" opacity="0.7"/>
<circle cx="360.5" cy="154.9" r="0.42" opacity="0.7"/>
<circle cx="339.8" cy="151.3" r="0.42" opacity="0.7"/>
<circle cx="338.8" cy="154.7" r="0.42" opacity="0.7"/>
<circle cx="346.0" cy="154.9" r="0.42" opacity="0.7"/>
<circle cx="360.0" cy="156.6" r="0.42" opacity="0.7"/>
<circle cx="320.9" cy="152.7" r="0.42" opacity="0.7"/>
<circle cx="360.5" cy="153.1" r="0.42" opacity="0.7"/>
<circle cx="324.9" cy="150.9" r="0.42" opacity="0.7"/>
<circle cx="351.7" cy="152.2" r="0.42" opacity="0.7"/>
<circle cx="341.2" cy="151.2" r="0.42" opacity="0.7"/>
<circle cx="383.0" cy="153.2" r="0.42" opacity="0.7"/>
<circle cx="347.3" cy="153.6" r="0.42" opacity="0.7"/>
<circle cx="387.9" cy="152.3" r="0.42" opacity="0.7"/>
<circle cx="262.3" cy="153.2" r="0.42" opacity="0.7"/>
<circle cx="311.3" cy="155.9" r="0.42" opacity="0.7"/>
<circle cx="302.3" cy="154.1" r="0.42" opacity="0.7"/>
<circle cx="381.9" cy="157.2" r="0.42" opacity="0.7"/>
<circle cx="284.2" cy="152.3" r="0.42" opacity="0.7"/>
<circle cx="272.1" cy="154.5" r="0.42" opacity="0.7"/>
<circle cx="364.2" cy="150.6" r="0.42" opacity="0.7"/>
<circle cx="285.2" cy="154.1" r="0.42" opacity="0.7"/>
<circle cx="302.4" cy="155.3" r="0.42" opacity="0.7"/>
<circle cx="318.0" cy="150.6" r="0.42" opacity="0.7"/>
<circle cx="271.5" cy="150.8" r="0.42" opacity="0.7"/>
<circle cx="290.8" cy="157.0" r="0.42" opacity="0.7"/>
<circle cx="288.9" cy="153.6" r="0.42" opacity="0.7"/>
<circle cx="352.3" cy="153.7" r="0.42" opacity="0.7"/>
<circle cx="287.8" cy="151.1" r="0.42" opacity="0.7"/>
<circle cx="340.9" cy="153.8" r="0.42" opacity="0.7"/>
<circle cx="303.7" cy="154.0" r="0.42" opacity="0.7"/>
<circle cx="366.7" cy="152.9" r="0.42" opacity="0.7"/>
<circle cx="360.8" cy="155.1" r="0.42" opacity="0.7"/>
<circle cx="256.6" cy="147.3" r="0.42" opacity="0.7"/>
<circle cx="383.5" cy="153.5" r="0.42" opacity="0.7"/>
<circle cx="273.9" cy="154.6" r="0.42" opacity="0.7"/>
<circle cx="359.7" cy="156.4" r="0.42" opacity="0.7"/>
<circle cx="361.8" cy="157.6" r="0.42" opacity="0.7"/>
<circle cx="375.3" cy="154.2" r="0.42" opacity="0.7"/>
<circle cx="375.6" cy="150.1" r="0.42" opacity="0.7"/>
<circle cx="368.2" cy="152.5" r="0.42" opacity="0.7"/>
<circle cx="355.1" cy="150.9" r="0.42" opacity="0.7"/>
<circle cx="374.1" cy="153.3" r="0.42" opacity="0.7"/>
<circle cx="273.5" cy="155.2" r="0.42" opacity="0.7"/>
<circle cx="262.5" cy="155.1" r="0.42" opacity="0.7"/>
<circle cx="322.1" cy="155.6" r="0.42" opacity="0.7"/>
<circle cx="371.4" cy="156.5" r="0.42" opacity="0.7"/>
<circle cx="330.8" cy="151.3" r="0.42" opacity="0.7"/>
<circle cx="368.4" cy="148.4" r="0.42" opacity="0.7"/>
<circle cx="264.8" cy="156.4" r="0.42" opacity="0.7"/>
<circle cx="340.7" cy="147.7" r="0.42" opacity="0.7"/>
<circle cx="380.7" cy="151.3" r="0.42" opacity="0.7"/>
<circle cx="387.5" cy="148.6" r="0.42" opacity="0.7"/>
<circle cx="259.2" cy="154.0" r="0.42" opacity="0.7"/>
<circle cx="339.3" cy="154.9" r="0.42" opacity="0.7"/>
<circle cx="318.9" cy="153.4" r="0.42" opacity="0.7"/>
<circle cx="283.1" cy="150.9" r="0.42" opacity="0.7"/>
<circle cx="366.5" cy="154.9" r="0.42" opacity="0.7"/>
<circle cx="366.7" cy="151.7" r="0.42" opacity="0.7"/>
<circle cx="323.2" cy="153.5" r="0.42" opacity="0.7"/>
<circle cx="343.2" cy="152.5" r="0.42" opacity="0.7"/>
<circle cx="295.1" cy="155.3" r="0.42" opacity="0.7"/>
<circle cx="340.6" cy="157.1" r="0.42" opacity="0.7"/>
<circle cx="374.5" cy="154.4" r="0.42" opacity="0.7"/>
<circle cx="261.3" cy="155.0" r="0.42" opacity="0.7"/>
<circle cx="379.4" cy="153.6" r="0.42" opacity="0.7"/>
<circle cx="343.7" cy="156.2" r="0.42" opacity="0.7"/>
<circle cx="338.1" cy="151.8" r="0.42" opacity="0.7"/>
<circle cx="348.9" cy="152.8" r="0.42" opacity="0.7"/>
<circle cx="344.9" cy="152.1" r="0.42" opacity="0.7"/>
<circle cx="357.9" cy="153.8" r="0.42" opacity="0.7"/>
<circle cx="359.5" cy="154.1" r="0.42" opacity="0.7"/>
<circle cx="343.4" cy="155.3" r="0.42" opacity="0.7"/>
<circle cx="330.7" cy="149.9" r="0.42" opacity="0.7"/>
<circle cx="295.5" cy="152.5" r="0.42" opacity="0.7"/>
<circle cx="341.5" cy="155.7" r="0.42" opacity="0.7"/>
<circle cx="262.0" cy="154.6" r="0.42" opacity="0.7"/>
<circle cx="364.3" cy="153.8" r="0.42" opacity="0.7"/>
<circle cx="379.0" cy="155.8" r="0.42" opacity="0.7"/>
<circle cx="334.8" cy="153.7" r="0.42" opacity="0.7"/>
<circle cx="387.4" cy="152.6" r="0.42" opacity="0.7"/>
<circle cx="341.9" cy="154.1" r="0.42" opacity="0.7"/>
<circle cx="275.1" cy="161.1" r="0.42" opacity="0.7"/>
<circle cx="271.1" cy="153.6" r="0.42" opacity="0.7"/>
<circle cx="266.5" cy="153.8" r="0.42" opacity="0.7"/>
<circle cx="352.0" cy="153.8" r="0.42" opacity="0.7"/>
<circle cx="353.9" cy="157.3" r="0.42" opacity="0.7"/>
<circle cx="351.2" cy="154.7" r="0.42" opacity="0.7"/>
<circle cx="353.4" cy="148.1" r="0.42" opacity="0.7"/>
<circle cx="317.0" cy="152.2" r="0.42" opacity="0.7"/>
<circle cx="385.2" cy="153.9" r="0.42" opacity="0.7"/>
<circle cx="342.7" cy="153.5" r="0.42" opacity="0.7"/>
<circle cx="265.4" cy="153.3" r="0.42" opacity="0.7"/>
<circle cx="371.2" cy="152.1" r="0.42" opacity="0.7"/>
<circle cx="262.7" cy="151.3" r="0.42" opacity="0.7"/>
<circle cx="346.2" cy="152.4" r="0.42" opacity="0.7"/>
<circle cx="362.6" cy="151.5" r="0.42" opacity="0.7"/>
<circle cx="311.2" cy="152.3" r="0.42" opacity="0.7"/>
<circle cx="382.5" cy="151.8" r="0.42" opacity="0.7"/>
<circle cx="262.8" cy="152.7" r="0.42" opacity="0.7"/>
<circle cx="349.8" cy="152.0" r="0.42" opacity="0.7"/>
<circle cx="386.9" cy="156.2" r="0.42" opacity="0.7"/>
<circle cx="336.0" cy="149.2" r="0.42" opacity="0.7"/>
<circle cx="305.6" cy="155.6" r="0.42" opacity="0.7"/>
<circle cx="336.1" cy="154.2" r="0.42" opacity="0.7"/>
<circle cx="254.8" cy="151.7" r="0.42" opacity="0.7"/>
<circle cx="311.8" cy="156.3" r="0.42" opacity="0.7"/>
<circle cx="367.4" cy="153.1" r="0.42" opacity="0.7"/>
<circle cx="372.0" cy="152.8" r="0.42" opacity="0.7"/>
<circle cx="363.9" cy="157.9" r="0.42" opacity="0.7"/>
<circle cx="378.3" cy="156.0" r="0.42" opacity="0.7"/>
<circle cx="362.6" cy="155.0" r="0.42" opacity="0.7"/>
<circle cx="356.2" cy="153.8" r="0.42" opacity="0.7"/>
<circle cx="346.4" cy="156.6" r="0.42" opacity="0.7"/>
<circle cx="282.6" cy="153.5" r="0.42" opacity="0.7"/>
<circle cx="363.8" cy="149.4" r="0.42" opacity="0.7"/>
<circle cx="286.1" cy="157.3" r="0.42" opacity="0.7"/>
<circle cx="325.3" cy="150.6" r="0.42" opacity="0.7"/>
<circle cx="334.4" cy="154.0" r="0.42" opacity="0.7"/>
<circle cx="349.5" cy="154.9" r="0.42" opacity="0.7"/>
<circle cx="331.0" cy="152.2" r="0.42" opacity="0.7"/>
<circle cx="260.6" cy="153.4" r="0.42" opacity="0.7"/>
<circle cx="305.2" cy="150.8" r="0.42" opacity="0.7"/>
<circle cx="275.7" cy="150.5" r="0.42" opacity="0.7"/>
<circle cx="301.3" cy="154.1" r="0.42" opacity="0.7"/>
<circle cx="388.7" cy="153.6" r="0.42" opacity="0.7"/>
<circle cx="320.4" cy="156.2" r="0.42" opacity="0.7"/>
<circle cx="382.8" cy="151.1" r="0.42" opacity="0.7"/>
<circle cx="365.5" cy="153.5" r="0.42" opacity="0.7"/>
<circle cx="281.8" cy="154.1" r="0.42" opacity="0.7"/>
<circle cx="265.9" cy="144.0" r="0.42" opacity="0.7"/>
<circle cx="316.7" cy="153.5" r="0.42" opacity="0.7"/>
<circle cx="263.3" cy="152.6" r="0.42" opacity="0.7"/>
<circle cx="384.5" cy="154.2" r="0.42" opacity="0.7"/>
<circle cx="331.0" cy="156.8" r="0.42" opacity="0.7"/>
<circle cx="307.8" cy="152.6" r="0.42" opacity="0.7"/>
<circle cx="276.2" cy="155.1" r="0.42" opacity="0.7"/>
<circle cx="259.8" cy="153.4" r="0.42" opacity="0.7"/>
<circle cx="302.3" cy="157.1" r="0.42" opacity="0.7"/>
<circle cx="261.0" cy="151.0" r="0.42" opacity="0.7"/>
<circle cx="350.7" cy="154.3" r="0.42" opacity="0.7"/>
<circle cx="274.2" cy="153.4" r="0.42" opacity="0.7"/>
<circle cx="381.8" cy="152.6" r="0.42" opacity="0.7"/>
<circle cx="357.2" cy="156.4" r="0.42" opacity="0.7"/>
<circle cx="298.5" cy="155.4" r="0.42" opacity="0.7"/>
<circle cx="277.4" cy="155.4" r="0.42" opacity="0.7"/>
<circle cx="274.0" cy="157.1" r="0.42" opacity="0.7"/>
<circle cx="281.0" cy="154.1" r="0.42" opacity="0.7"/>
<circle cx="380.2" cy="157.7" r="0.42" opacity="0.7"/>
<circle cx="374.9" cy="151.6" r="0.42" opacity="0.7"/>
<circle cx="380.4" cy="151.8" r="0.42" opacity="0.7"/>
<circle cx="300.6" cy="151.7" r="0.42" opacity="0.7"/>
<circle cx="319.3" cy="155.8" r="0.42" opacity="0.7"/>
<circle cx="351.2" cy="154.3" r="0.42" opacity="0.7"/>
<circle cx="274.2" cy="153.3" r="0.42" opacity="0.7"/>
<circle cx="275.7" cy="155.9" r="0.42" opacity="0.7"/>
<circle cx="368.3" cy="154.8" r="0.42" opacity="0.7"/>
<circle cx="297.7" cy="155.8" r="0.42" opacity="0.7"/>
<circle cx="270.1" cy="158.1" r="0.42" opacity="0.7"/>
<circle cx="345.1" cy="155.2" r="0.42" opacity="0.7"/>
<circle cx="319.2" cy="156.5" r="0.42" opacity="0.7"/>
<circle cx="388.8" cy="155.6" r="0.42" opacity="0.7"/>
<circle cx="379.9" cy="150.9" r="0.42" opacity="0.7"/>
<circle cx="262.4" cy="158.2" r="0.42" opacity="0.7"/>
<circle cx="294.3" cy="157.7" r="0.42" opacity="0.7"/>
<circle cx="300.8" cy="153.9" r="0.42" opacity="0.7"/>
<circle cx="254.9" cy="152.0" r="0.42" opacity="0.7"/>
<circle cx="313.5" cy="155.3" r="0.42" opacity="0.7"/>
<circle cx="332.0" cy="155.2" r="0.42" opacity="0.7"/>
<circle cx="351.0" cy="157.1" r="0.42" opacity="0.7"/>
<circle cx="265.3" cy="149.0" r="0.42" opacity="0.7"/>
<circle cx="291.7" cy="151.8" r="0.42" opacity="0.7"/>
<circle cx="337.5" cy="154.6" r="0.42" opacity="0.7"/>
<circle cx="282.0" cy="147.4" r="0.42" opacity="0.7"/>
<circle cx="353.8" cy="153.4" r="0.42" opacity="0.7"/>
<circle cx="364.4" cy="152.7" r="0.42" opacity="0.7"/>
<circle cx="368.6" cy="153.1" r="0.42" opacity="0.7"/>
<circle cx="377.8" cy="153.5" r="0.42" opacity="0.7"/>
<circle cx="372.7" cy="155.2" r="0.42" opacity="0.7"/>
<circle cx="304.3" cy="157.5" r="0.42" opacity="0.7"/>
<circle cx="304.9" cy="156.3" r="0.42" opacity="0.7"/>
<circle cx="315.0" cy="155.7" r="0.42" opacity="0.7"/>
<circle cx="351.4" cy="154.8" r="0.42" opacity="0.7"/>
<circle cx="350.9" cy="152.0" r="0.42" opacity="0.7"/>
<circle cx="356.3" cy="162.2" r="0.42" opacity="0.7"/>
<circle cx="321.6" cy="149.4" r="0.42" opacity="0.7"/>
<circle cx="326.4" cy="159.5" r="0.42" opacity="0.7"/>
<circle cx="284.9" cy="154.3" r="0.42" opacity="0.7"/>
<circle cx="268.5" cy="153.7" r="0.42" opacity="0.7"/>
<circle cx="267.7" cy="153.0" r="0.42" opacity="0.7"/>
<circle cx="281.0" cy="148.2" r="0.42" opacity="0.7"/>
<circle cx="325.4" cy="151.7" r="0.42" opacity="0.7"/>
<circle cx="268.5" cy="153.4" r="0.42" opacity="0.7"/>
<circle cx="271.3" cy="152.8" r="0.42" opacity="0.7"/>
<circle cx="322.4" cy="155.2" r="0.42" opacity="0.7"/>
<circle cx="273.1" cy="155.1" r="0.42" opacity="0.7"/>
<circle cx="371.2" cy="150.1" r="0.42" opacity="0.7"/>
<circle cx="276.8" cy="151.8" r="0.42" opacity="0.7"/>
<circle cx="381.5" cy="149.6" r="0.42" opacity="0.7"/>
<circle cx="325.8" cy="155.6" r="0.42" opacity="0.7"/>
<circle cx="382.1" cy="152.6" r="0.42" opacity="0.7"/>
<circle cx="300.0" cy="154.9" r="0.42" opacity="0.7"/>
<circle cx="387.5" cy="157.1" r="0.42" opacity="0.7"/>
<circle cx="369.4" cy="148.7" r="0.42" opacity="0.7"/>
<circle cx="324.7" cy="155.1" r="0.42" opacity="0.7"/>
<circle cx="311.8" cy="154.7" r="0.42" opacity="0.7"/>
<circle cx="326.5" cy="148.1" r="0.42" opacity="0.7"/>
<circle cx="257.4" cy="154.6" r="0.42" opacity="0.7"/>
<circle cx="385.9" cy="156.5" r="0.42" opacity="0.7"/>
<circle cx="364.2" cy="152.2" r="0.42" opacity="0.7"/>
<circle cx="374.4" cy="151.0" r="0.42" opacity="0.7"/>
<circle cx="346.5" cy="152.1" r="0.42" opacity="0.7"/>
<circle cx="328.0" cy="152.2" r="0.42" opacity="0.7"/>
<circle cx="325.0" cy="152.3" r="0.42" opacity="0.7"/>
<circle cx="383.3" cy="152.4" r="0.42" opacity="0.7"/>
<circle cx="270.9" cy="156.6" r="0.42" opacity="0.7"/>
<circle cx="384.1" cy="153.2" r="0.42" opacity="0.7"/>
<circle cx="326.9" cy="156.1" r="0.42" opacity="0.7"/>
<circle cx="271.4" cy="152.9" r="0.42" opacity="0.7"/>
<circle cx="293.6" cy="155.8" r="0.42" opacity="0.7"/>
<circle cx="266.5" cy="155.2" r="0.42" opacity="0.7"/>
<circle cx="331.8" cy="150.8" r="0.42" opacity="0.7"/>
<circle cx="281.8" cy="150.7" r="0.42" opacity="0.7"/>
<circle cx="337.6" cy="154.2" r="0.42" opacity="0.7"/>
<circle cx="296.6" cy="154.0" r="0.42" opacity="0.7"/>
<circle cx="306.5" cy="156.2" r="0.42" opacity="0.7"/>
<circle cx="256.2" cy="154.6" r="0.42" opacity="0.7"/>
<circle cx="330.0" cy="152.2" r="0.42" opacity="0.7"/>
<circle cx="293.2" cy="152.4" r="0.42" opacity="0.7"/>
<circle cx="276.1" cy="161.8" r="0.42" opacity="0.7"/>
<circle cx="372.6" cy="155.6" r="0.42" opacity="0.7"/>
<circle cx="314.2" cy="156.7" r="0.42" opacity="0.7"/>
<circle cx="285.1" cy="153.4" r="0.42" opacity="0.7"/>
<circle cx="300.2" cy="152.2" r="0.42" opacity="0.7"/>
<circle cx="346.0" cy="156.0" r="0.42" opacity="0.7"/>
<circle cx="324.7" cy="150.0" r="0.42" opacity="0.7"/>
<circle cx="355.2" cy="149.5" r="0.42" opacity="0.7"/>
<circle cx="350.5" cy="154.1" r="0.42" opacity="0.7"/>
<circle cx="271.8" cy="157.4" r="0.42" opacity="0.7"/>
<circle cx="333.9" cy="153.6" r="0.42" opacity="0.7"/>
<circle cx="385.0" cy="150.0" r="0.42" opacity="0.7"/>
<circle cx="372.8" cy="155.5" r="0.42" opacity="0.7"/>
<circle cx="306.0" cy="149.9" r="0.42" opacity="0.7"/>
<circle cx="294.3" cy="154.5" r="0.42" opacity="0.7"/>
<circle cx="329.8" cy="151.7" r="0.42" opacity="0.7"/>
<circle cx="369.6" cy="157.1" r="0.42" opacity="0.7"/>
<circle cx="295.8" cy="150.8" r="0.42" opacity="0.7"/>
<circle cx="266.5" cy="152.1" r="0.42" opacity="0.7"/>
<circle cx="298.5" cy="156.6" r="0.42" opacity="0.7"/>
<circle cx="282.3" cy="148.6" r="0.42" opacity="0.7"/>
<circle cx="377.9" cy="159.7" r="0.42" opacity="0.7"/>
<circle cx="321.9" cy="154.4" r="0.42" opacity="0.7"/>
<circle cx="359.3" cy="156.3" r="0.42" opacity="0.7"/>
<circle cx="324.6" cy="153.5" r="0.42" opacity="0.7"/>
<circle cx="307.3" cy="151.7" r="0.42" opacity="0.7"/>
<circle cx="382.9" cy="152.3" r="0.42" opacity="0.7"/>
<circle cx="325.7" cy="149.9" r="0.42" opacity="0.7"/>
<circle cx="330.6" cy="155.2" r="0.42" opacity="0.7"/>
<circle cx="373.7" cy="151.0" r="0.42" opacity="0.7"/>
<circle cx="339.2" cy="153.7" r="0.42" opacity="0.7"/>
<circle cx="301.1" cy="154.1" r="0.42" opacity="0.7"/>
<circle cx="297.7" cy="152.2" r="0.42" opacity="0.7"/>
<circle cx="366.4" cy="157.2" r="0.42" opacity="0.7"/>
<circle cx="348.0" cy="156.6" r="0.42" opacity="0.7"/>
<circle cx="388.7" cy="152.3" r="0.42" opacity="0.7"/>
<circle cx="293.9" cy="154.1" r="0.42" opacity="0.7"/>
<circle cx="323.0" cy="154.8" r="0.42" opacity="0.7"/>
<circle cx="336.3" cy="156.5" r="0.42" opacity="0.7"/>
<circle cx="389.2" cy="155.8" r="0.42" opacity="0.7"/>
<circle cx="361.2" cy="154.1" r="0.42" opacity="0.7"/>
<circle cx="348.1" cy="150.3" r="0.42" opacity="0.7"/>
<circle cx="334.0" cy="157.7" r="0.42" opacity="0.7"/>
<circle cx="281.2" cy="151.8" r="0.42" opacity="0.7"/>
<circle cx="342.2" cy="152.9" r="0.42" opacity="0.7"/>
<circle cx="389.6" cy="152.5" r="0.42" opacity="0.7"/>
<circle cx="275.8" cy="154.1" r="0.42" opacity="0.7"/>
<circle cx="269.0" cy="154.8" r="0.42" opacity="0.7"/>
<circle cx="366.1" cy="156.0" r="0.42" opacity="0.7"/>
<circle cx="363.8" cy="162.1" r="0.42" opacity="0.7"/>
<circle cx="298.3" cy="153.8" r="0.42" opacity="0.7"/>
<circle cx="302.5" cy="153.4" r="0.42" opacity="0.7"/>
<circle cx="377.0" cy="154.5" r="0.42" opacity="0.7"/>
<circle cx="301.8" cy="152.9" r="0.42" opacity="0.7"/>
<circle cx="375.2" cy="154.0" r="0.42" opacity="0.7"/>
<circle cx="384.5" cy="152.2" r="0.42" opacity="0.7"/>
<circle cx="260.6" cy="152.3" r="0.42" opacity="0.7"/>
<circle cx="370.3" cy="156.9" r="0.42" opacity="0.7"/>
<circle cx="295.7" cy="151.0" r="0.42" opacity="0.7"/>
<circle cx="384.6" cy="155.1" r="0.42" opacity="0.7"/>
<circle cx="307.4" cy="153.0" r="0.42" opacity="0.7"/>
<circle cx="284.6" cy="155.4" r="0.42" opacity="0.7"/>
<circle cx="361.9" cy="151.6" r="0.42" opacity="0.7"/>
<circle cx="278.1" cy="155.9" r="0.42" opacity="0.7"/>
<circle cx="294.0" cy="159.2" r="0.42" opacity="0.7"/>
<circle cx="270.2" cy="151.7" r="0.42" opacity="0.7"/>
<circle cx="263.5" cy="155.0" r="0.42" opacity="0.7"/>
<circle cx="366.4" cy="153.5" r="0.42" opacity="0.7"/>
<circle cx="293.0" cy="155.0" r="0.42" opacity="0.7"/>
<circle cx="259.3" cy="152.8" r="0.42" opacity="0.7"/>
<circle cx="350.2" cy="155.9" r="0.42" opacity="0.7"/>
<circle cx="291.1" cy="155.2" r="0.42" opacity="0.7"/>
<circle cx="367.8" cy="155.3" r="0.42" opacity="0.7"/>
<circle cx="276.2" cy="153.1" r="0.42" opacity="0.7"/>
<circle cx="384.4" cy="151.3" r="0.42" opacity="0.7"/>
<circle cx="383.4" cy="153.9" r="0.42" opacity="0.7"/>
<circle cx="272.3" cy="156.0" r="0.42" opacity="0.7"/>
<circle cx="289.9" cy="151.6" r="0.42" opacity="0.7"/>
<circle cx="287.9" cy="152.3" r="0.42" opacity="0.7"/>
<circle cx="283.4" cy="155.5" r="0.42" opacity="0.7"/>
<circle cx="328.1" cy="155.4" r="0.42" opacity="0.7"/>
<circle cx="359.1" cy="151.9" r="0.42" opacity="0.7"/>
<circle cx="296.7" cy="151.0" r="0.42" opacity="0.7"/>
<circle cx="266.2" cy="154.7" r="0.42" opacity="0.7"/>
<circle cx="344.3" cy="151.9" r="0.42" opacity="0.7"/>
<circle cx="330.7" cy="151.6" r="0.42" opacity="0.7"/>
<circle cx="263.5" cy="153.5" r="0.42" opacity="0.7"/>
<circle cx="285.3" cy="153.1" r="0.42" opacity="0.7"/>
<circle cx="309.2" cy="153.2" r="0.42" opacity="0.7"/>
<circle cx="374.1" cy="154.7" r="0.42" opacity="0.7"/>
<circle cx="258.6" cy="154.9" r="0.42" opacity="0.7"/>
<circle cx="344.5" cy="150.6" r="0.42" opacity="0.7"/>
<circle cx="349.3" cy="155.3" r="0.42" opacity="0.7"/>
<circle cx="369.2" cy="152.5" r="0.42" opacity="0.7"/>
<circle cx="270.2" cy="152.4" r="0.42" opacity="0.7"/>
<circle cx="354.0" cy="154.1" r="0.42" opacity="0.7"/>
<circle cx="276.5" cy="153.7" r="0.42" opacity="0.7"/>
<circle cx="295.6" cy="155.4" r="0.42" opacity="0.7"/>
<circle cx="341.0" cy="154.0" r="0.42" opacity="0.7"/>
<circle cx="368.3" cy="153.1" r="0.42" opacity="0.7"/>
<circle cx="313.5" cy="153.4" r="0.42" opacity="0.7"/>
<circle cx="254.7" cy="153.8" r="0.42" opacity="0.7"/>
<circle cx="260.4" cy="151.6" r="0.42" opacity="0.7"/>
<circle cx="336.8" cy="153.6" r="0.42" opacity="0.7"/>
<circle cx="361.8" cy="154.6" r="0.42" opacity="0.7"/>
<circle cx="378.4" cy="156.5" r="0.42" opacity="0.7"/>
<circle cx="307.9" cy="155.3" r="0.42" opacity="0.7"/>
<circle cx="366.8" cy="158.2" r="0.42" opacity="0.7"/>
<circle cx="312.0" cy="159.5" r="0.42" opacity="0.7"/>
<circle cx="354.6" cy="151.7" r="0.42" opacity="0.7"/>
<circle cx="262.0" cy="151.7" r="0.42" opacity="0.7"/>
<circle cx="312.6" cy="159.1" r="0.42" opacity="0.7"/>
<circle cx="260.5" cy="156.3" r="0.42" opacity="0.7"/>
<circle cx="363.7" cy="147.7" r="0.42" opacity="0.7"/>
<circle cx="340.9" cy="151.8" r="0.42" opacity="0.7"/>
<circle cx="288.4" cy="150.3" r="0.42" opacity="0.7"/>
<circle cx="281.9" cy="155.3" r="0.42" opacity="0.7"/>
<circle cx="273.1" cy="152.7" r="0.42" opacity="0.7"/>
<circle cx="287.3" cy="152.0" r="0.42" opacity="0.7"/>
<circle cx="314.9" cy="153.7" r="0.42" opacity="0.7"/>
<circle cx="273.8" cy="158.1" r="0.42" opacity="0.7"/>
<circle cx="299.8" cy="149.8" r="0.42" opacity="0.7"/>
<circle cx="277.5" cy="152.3" r="0.42" opacity="0.7"/>
<circle cx="335.7" cy="153.9" r="0.42" opacity="0.7"/>
<circle cx="270.1" cy="149.2" r="0.42" opacity="0.7"/>
<circle cx="303.4" cy="155.2" r="0.42" opacity="0.7"/>
<circle cx="281.3" cy="154.2" r="0.42" opacity="0.7"/>
<circle cx="298.5" cy="152.6" r="0.42" opacity="0.7"/>
<circle cx="264.3" cy="155.8" r="0.42" opacity="0.7"/>
<circle cx="388.9" cy="156.7" r="0.42" opacity="0.7"/>
<circle cx="387.3" cy="155.3" r="0.42" opacity="0.7"/>
<circle cx="269.3" cy="152.1" r="0.42" opacity="0.7"/>
<circle cx="328.1" cy="154.8" r="0.42" opacity="0.7"/>
<circle cx="379.1" cy="149.8" r="0.42" opacity="0.7"/>
<circle cx="343.0" cy="149.6" r="0.42" opacity="0.7"/>
<circle cx="287.9" cy="157.4" r="0.42" opacity="0.7"/>
<circle cx="368.3" cy="154.2" r="0.42" opacity="0.7"/>
<circle cx="279.7" cy="156.5" r="0.42" opacity="0.7"/>
<circle cx="277.4" cy="149.2" r="0.42" opacity="0.7"/>
<circle cx="367.0" cy="152.8" r="0.42" opacity="0.7"/>
<circle cx="366.3" cy="154.8" r="0.42" opacity="0.7"/>
<circle cx="304.5" cy="150.5" r="0.42" opacity="0.7"/>
<circle cx="287.0" cy="160.4" r="0.42" opacity="0.7"/>
<circle cx="331.4" cy="155.0" r="0.42" opacity="0.7"/>
<circle cx="377.2" cy="150.2" r="0.42" opacity="0.7"/>
<circle cx="321.5" cy="154.6" r="0.42" opacity="0.7"/>
<circle cx="333.3" cy="157.0" r="0.42" opacity="0.7"/>
<circle cx="347.8" cy="147.8" r="0.42" opacity="0.7"/>
<circle cx="266.7" cy="158.1" r="0.42" opacity="0.7"/>
<circle cx="352.5" cy="158.8" r="0.42" opacity="0.7"/>
<circle cx="361.1" cy="149.7" r="0.42" opacity="0.7"/>
<circle cx="293.0" cy="151.1" r="0.42" opacity="0.7"/>
<circle cx="300.5" cy="153.3" r="0.42" opacity="0.7"/>
<circle cx="344.8" cy="154.6" r="0.42" opacity="0.7"/>
<circle cx="294.6" cy="152.7" r="0.42" opacity="0.7"/>
<circle cx="330.9" cy="153.8" r="0.42" opacity="0.7"/>
<circle cx="298.4" cy="154.4" r="0.42" opacity="0.7"/>
<circle cx="386.1" cy="157.6" r="0.42" opacity="0.7"/>
<circle cx="384.8" cy="148.8" r="0.42" opacity="0.7"/>
<circle cx="364.4" cy="150.4" r="0.42" opacity="0.7"/>
<circle cx="294.8" cy="150.7" r="0.42" opacity="0.7"/>
<circle cx="383.6" cy="152.3" r="0.42" opacity="0.7"/>
<circle cx="301.1" cy="151.9" r="0.42" opacity="0.7"/>
<circle cx="258.4" cy="152.4" r="0.42" opacity="0.7"/>
<circle cx="266.1" cy="151.2" r="0.42" opacity="0.7"/>
<circle cx="305.0" cy="151.1" r="0.42" opacity="0.7"/>
<circle cx="331.1" cy="154.9" r="0.42" opacity="0.7"/>
<circle cx="270.1" cy="155.7" r="0.42" opacity="0.7"/>
<circle cx="269.8" cy="151.7" r="0.42" opacity="0.7"/>
<circle cx="288.9" cy="149.8" r="0.42" opacity="0.7"/>
<circle cx="320.8" cy="155.2" r="0.42" opacity="0.7"/>
<circle cx="332.1" cy="150.4" r="0.42" opacity="0.7"/>
<circle cx="265.5" cy="153.2" r="0.42" opacity="0.7"/>
<circle cx="264.5" cy="155.4" r="0.42" opacity="0.7"/>
<circle cx="351.4" cy="151.3" r="0.42" opacity="0.7"/>
<circle cx="270.1" cy="153.3" r="0.42" opacity="0.7"/>
<circle cx="367.0" cy="152.4" r="0.42" opacity="0.7"/>
<circle cx="277.8" cy="149.8" r="0.42" opacity="0.7"/>
<circle cx="273.1" cy="152.0" r="0.42" opacity="0.7"/>
<circle cx="262.4" cy="153.2" r="0.42" opacity="0.7"/>
<circle cx="335.1" cy="153.8" r="0.42" opacity="0.7"/>
<circle cx="295.2" cy="149.2" r="0.42" opacity="0.7"/>
<circle cx="338.7" cy="155.7" r="0.42" opacity="0.7"/>
<circle cx="330.8" cy="154.5" r="0.42" opacity="0.7"/>
<circle cx="355.5" cy="152.5" r="0.42" opacity="0.7"/>
<circle cx="358.0" cy="154.0" r="0.42" opacity="0.7"/>
<circle cx="305.1" cy="152.5" r="0.42" opacity="0.7"/>
<circle cx="383.0" cy="156.5" r="0.42" opacity="0.7"/>
<circle cx="268.1" cy="154.3" r="0.42" opacity="0.7"/>
<circle cx="363.3" cy="156.6" r="0.42" opacity="0.7"/>
<circle cx="289.1" cy="151.9" r="0.42" opacity="0.7"/>
<circle cx="315.1" cy="156.1" r="0.42" opacity="0.7"/>
<circle cx="269.6" cy="153.8" r="0.42" opacity="0.7"/>
<circle cx="279.7" cy="152.6" r="0.42" opacity="0.7"/>
<circle cx="306.2" cy="156.9" r="0.42" opacity="0.7"/>
<circle cx="373.1" cy="151.9" r="0.42" opacity="0.7"/>
<circle cx="383.1" cy="145.1" r="0.42" opacity="0.7"/>
<circle cx="301.0" cy="148.8" r="0.42" opacity="0.7"/>
<circle cx="363.0" cy="153.4" r="0.42" opacity="0.7"/>
<circle cx="279.3" cy="152.5" r="0.42" opacity="0.7"/>
<circle cx="369.0" cy="151.4" r="0.42" opacity="0.7"/>
<circle cx="372.8" cy="155.3" r="0.42" opacity="0.7"/>
<circle cx="283.9" cy="154.4" r="0.42" opacity="0.7"/>
<circle cx="334.4" cy="155.8" r="0.42" opacity="0.7"/>
<circle cx="317.9" cy="158.1" r="0.42" opacity="0.7"/>
<circle cx="302.5" cy="149.5" r="0.42" opacity="0.7"/>
<circle cx="257.4" cy="152.5" r="0.42" opacity="0.7"/>
<circle cx="388.2" cy="158.0" r="0.42" opacity="0.7"/>
<circle cx="291.5" cy="156.2" r="0.42" opacity="0.7"/>
<circle cx="322.3" cy="150.9" r="0.42" opacity="0.7"/>
<circle cx="384.2" cy="152.3" r="0.42" opacity="0.7"/>
<circle cx="259.2" cy="154.1" r="0.42" opacity="0.7"/>
<circle cx="359.4" cy="148.9" r="0.42" opacity="0.7"/>
<circle cx="340.5" cy="152.7" r="0.42" opacity="0.7"/>
<circle cx="372.8" cy="157.5" r="0.42" opacity="0.7"/>
<circle cx="346.9" cy="153.8" r="0.42" opacity="0.7"/>
<circle cx="323.5" cy="149.7" r="0.42" opacity="0.7"/>
<circle cx="302.0" cy="152.8" r="0.42" opacity="0.7"/>
<circle cx="300.3" cy="154.0" r="0.42" opacity="0.7"/>
<circle cx="388.4" cy="152.3" r="0.42" opacity="0.7"/>
<circle cx="286.4" cy="154.8" r="0.42" opacity="0.7"/>
<circle cx="273.0" cy="157.3" r="0.42" opacity="0.7"/>
<circle cx="314.9" cy="153.2" r="0.42" opacity="0.7"/>
<circle cx="277.5" cy="152.1" r="0.42" opacity="0.7"/>
<circle cx="353.0" cy="155.4" r="0.42" opacity="0.7"/>
<circle cx="381.5" cy="156.2" r="0.42" opacity="0.7"/>
<circle cx="265.4" cy="152.1" r="0.42" opacity="0.7"/>
<circle cx="333.2" cy="151.0" r="0.42" opacity="0.7"/>
<circle cx="312.6" cy="162.4" r="0.42" opacity="0.7"/>
<circle cx="320.2" cy="155.6" r="0.42" opacity="0.7"/>
<circle cx="276.9" cy="154.0" r="0.42" opacity="0.7"/>
<circle cx="350.0" cy="152.3" r="0.42" opacity="0.7"/>
<circle cx="336.2" cy="154.4" r="0.42" opacity="0.7"/>
<circle cx="342.4" cy="152.9" r="0.42" opacity="0.7"/>
<circle cx="336.0" cy="140.7" r="0.42" opacity="0.7"/>
<circle cx="364.2" cy="152.8" r="0.42" opacity="0.7"/>
<circle cx="280.1" cy="154.5" r="0.42" opacity="0.7"/>
<circle cx="373.1" cy="154.9" r="0.42" opacity="0.7"/>
<circle cx="298.8" cy="152.8" r="0.42" opacity="0.7"/>
<circle cx="342.5" cy="152.6" r="0.42" opacity="0.7"/>
<circle cx="262.4" cy="151.6" r="0.42" opacity="0.7"/>
<circle cx="260.8" cy="152.1" r="0.42" opacity="0.7"/>
<circle cx="335.5" cy="155.8" r="0.42" opacity="0.7"/>
<circle cx="379.9" cy="154.3" r="0.42" opacity="0.7"/>
<circle cx="337.7" cy="153.4" r="0.42" opacity="0.7"/>
<circle cx="299.2" cy="155.0" r="0.42" opacity="0.7"/>
<circle cx="358.5" cy="155.8" r="0.42" opacity="0.7"/>
<circle cx="364.8" cy="150.5" r="0.42" opacity="0.7"/>
<circle cx="329.7" cy="152.8" r="0.42" opacity="0.7"/>
<circle cx="336.1" cy="153.4" r="0.42" opacity="0.7"/>
<circle cx="350.9" cy="151.7" r="0.42" opacity="0.7"/>
<circle cx="359.7" cy="154.4" r="0.42" opacity="0.7"/>
<circle cx="316.0" cy="147.4" r="0.42" opacity="0.7"/>
<circle cx="382.0" cy="156.1" r="0.42" opacity="0.7"/>
<circle cx="343.3" cy="153.6" r="0.42" opacity="0.7"/>
<circle cx="303.7" cy="154.0" r="0.42" opacity="0.7"/>
<circle cx="266.8" cy="161.8" r="0.42" opacity="0.7"/>
<circle cx="272.8" cy="147.1" r="0.42" opacity="0.7"/>
<circle cx="279.2" cy="153.5" r="0.42" opacity="0.7"/>
<circle cx="304.1" cy="155.2" r="0.42" opacity="0.7"/>
<circle cx="379.4" cy="156.9" r="0.42" opacity="0.7"/>
<circle cx="258.5" cy="153.8" r="0.42" opacity="0.7"/>
<circle cx="322.2" cy="160.0" r="0.42" opacity="0.7"/>
<circle cx="301.2" cy="151.5" r="0.42" opacity="0.7"/>
<circle cx="376.9" cy="154.0" r="0.42" opacity="0.7"/>
<circle cx="353.9" cy="150.4" r="0.42" opacity="0.7"/>
<circle cx="371.6" cy="149.5" r="0.42" opacity="0.7"/>
<circle cx="331.0" cy="158.3" r="0.42" opacity="0.7"/>
<circle cx="339.5" cy="150.8" r="0.42" opacity="0.7"/>
<circle cx="288.7" cy="152.0" r="0.42" opacity="0.7"/>
<circle cx="282.1" cy="154.2" r="0.42" opacity="0.7"/>
<circle cx="341.6" cy="155.1" r="0.42" opacity="0.7"/>
<circle cx="331.7" cy="153.4" r="0.42" opacity="0.7"/>
<circle cx="371.5" cy="153.1" r="0.42" opacity="0.7"/>
<circle cx="366.0" cy="157.3" r="0.42" opacity="0.7"/>
<circle cx="299.5" cy="154.6" r="0.42" opacity="0.7"/>
<circle cx="347.0" cy="152.6" r="0.42" opacity="0.7"/>
<circle cx="315.9" cy="157.2" r="0.42" opacity="0.7"/>
<circle cx="303.4" cy="158.1" r="0.42" opacity="0.7"/>
<circle cx="371.5" cy="158.4" r="0.42" opacity="0.7"/>
<circle cx="294.9" cy="141.3" r="0.42" opacity="0.7"/>
<circle cx="269.7" cy="158.6" r="0.42" opacity="0.7"/>
<circle cx="275.0" cy="153.8" r="0.42" opacity="0.7"/>
<circle cx="267.8" cy="153.1" r="0.42" opacity="0.7"/>
<circle cx="300.6" cy="152.6" r="0.42" opacity="0.7"/>
<circle cx="351.6" cy="154.1" r="0.42" opacity="0.7"/>
<circle cx="286.4" cy="153.4" r="0.42" opacity="0.7"/>
<circle cx="348.0" cy="149.9" r="0.42" opacity="0.7"/>
<circle cx="257.3" cy="153.4" r="0.42" opacity="0.7"/>
<circle cx="297.5" cy="155.4" r="0.42" opacity="0.7"/>
<circle cx="273.0" cy="155.3" r="0.42" opacity="0.7"/>
<circle cx="278.8" cy="155.8" r="0.42" opacity="0.7"/>
<circle cx="322.4" cy="156.5" r="0.42" opacity="0.7"/>
<circle cx="302.5" cy="155.4" r="0.42" opacity="0.7"/>
<circle cx="283.7" cy="152.5" r="0.42" opacity="0.7"/>
<circle cx="374.2" cy="153.3" r="0.42" opacity="0.7"/>
<circle cx="290.4" cy="156.6" r="0.42" opacity="0.7"/>
<circle cx="260.4" cy="151.0" r="0.42" opacity="0.7"/>
<circle cx="303.7" cy="157.0" r="0.42" opacity="0.7"/>
<circle cx="347.8" cy="150.7" r="0.42" opacity="0.7"/>
<circle cx="348.1" cy="152.7" r="0.42" opacity="0.7"/>
<circle cx="372.9" cy="151.9" r="0.42" opacity="0.7"/>
<circle cx="311.4" cy="157.2" r="0.42" opacity="0.7"/>
<circle cx="306.8" cy="158.6" r="0.42" opacity="0.7"/>
<circle cx="255.3" cy="159.9" r="0.42" opacity="0.7"/>
<circle cx="380.0" cy="151.8" r="0.42" opacity="0.7"/>
<circle cx="287.2" cy="152.1" r="0.42" opacity="0.7"/>
<circle cx="270.3" cy="154.6" r="0.42" opacity="0.7"/>
<circle cx="261.3" cy="148.6" r="0.42" opacity="0.7"/>
<circle cx="298.5" cy="151.6" r="0.42" opacity="0.7"/>
<circle cx="386.2" cy="152.2" r="0.42" opacity="0.7"/>
<circle cx="355.6" cy="150.4" r="0.42" opacity="0.7"/>
<circle cx="389.3" cy="153.3" r="0.42" opacity="0.7"/>
<circle cx="339.8" cy="150.9" r="0.42" opacity="0.7"/>
<circle cx="307.9" cy="156.0" r="0.42" opacity="0.7"/>
<circle cx="337.6" cy="152.1" r="0.42" opacity="0.7"/>
<circle cx="328.1" cy="156.4" r="0.42" opacity="0.7"/>
<circle cx="337.5" cy="155.7" r="0.42" opacity="0.7"/>
<circle cx="352.3" cy="152.1" r="0.42" opacity="0.7"/>
<circle cx="273.8" cy="150.7" r="0.42" opacity="0.7"/>
<circle cx="326.0" cy="153.0" r="0.42" opacity="0.7"/>
<circle cx="286.9" cy="154.6" r="0.42" opacity="0.7"/>
<circle cx="341.3" cy="151.2" r="0.42" opacity="0.7"/>
<circle cx="375.7" cy="155.7" r="0.42" opacity="0.7"/>
<circle cx="367.3" cy="154.1" r="0.42" opacity="0.7"/>
<circle cx="271.3" cy="153.5" r="0.42" opacity="0.7"/>
<circle cx="302.9" cy="154.6" r="0.42" opacity="0.7"/>
<circle cx="325.2" cy="155.5" r="0.42" opacity="0.7"/>
<circle cx="389.6" cy="154.7" r="0.42" opacity="0.7"/>
<circle cx="315.4" cy="155.7" r="0.42" opacity="0.7"/>
<circle cx="346.7" cy="152.2" r="0.42" opacity="0.7"/>
<circle cx="325.1" cy="152.1" r="0.42" opacity="0.7"/>
<circle cx="306.2" cy="156.8" r="0.42" opacity="0.7"/>
<circle cx="281.8" cy="154.8" r="0.42" opacity="0.7"/>
<circle cx="351.8" cy="154.0" r="0.42" opacity="0.7"/>
<circle cx="298.5" cy="154.0" r="0.42" opacity="0.7"/>
<circle cx="340.7" cy="152.6" r="0.42" opacity="0.7"/>
<circle cx="281.9" cy="154.3" r="0.42" opacity="0.7"/>
<circle cx="304.9" cy="146.8" r="0.42" opacity="0.7"/>
<circle cx="314.5" cy="154.7" r="0.42" opacity="0.7"/>
<circle cx="342.4" cy="155.8" r="0.42" opacity="0.7"/>
<circle cx="302.3" cy="148.9" r="0.42" opacity="0.7"/>
<circle cx="280.5" cy="151.0" r="0.42" opacity="0.7"/>
<circle cx="351.0" cy="152.5" r="0.42" opacity="0.7"/>
<circle cx="264.2" cy="151.7" r="0.42" opacity="0.7"/>
<circle cx="306.0" cy="148.6" r="0.42" opacity="0.7"/>
<circle cx="357.1" cy="153.7" r="0.42" opacity="0.7"/>
<circle cx="334.9" cy="149.2" r="0.42" opacity="0.7"/>
<circle cx="310.8" cy="157.0" r="0.42" opacity="0.7"/>
<circle cx="314.2" cy="157.6" r="0.42" opacity="0.7"/>
<circle cx="354.9" cy="150.4" r="0.42" opacity="0.7"/>
<circle cx="260.1" cy="149.8" r="0.42" opacity="0.7"/>
<circle cx="358.8" cy="152.2" r="0.42" opacity="0.7"/>
<circle cx="284.5" cy="154.5" r="0.42" opacity="0.7"/>
<circle cx="266.5" cy="152.5" r="0.42" opacity="0.7"/>
<circle cx="331.0" cy="150.2" r="0.42" opacity="0.7"/>
<circle cx="348.2" cy="150.2" r="0.42" opacity="0.7"/>
<circle cx="333.7" cy="155.4" r="0.42" opacity="0.7"/>
<circle cx="274.3" cy="149.2" r="0.42" opacity="0.7"/>
<circle cx="324.8" cy="157.5" r="0.42" opacity="0.7"/>
<circle cx="290.1" cy="153.4" r="0.42" opacity="0.7"/>
<circle cx="289.1" cy="150.9" r="0.42" opacity="0.7"/>
<circle cx="295.8" cy="152.6" r="0.42" opacity="0.7"/>
<circle cx="363.2" cy="153.4" r="0.42" opacity="0.7"/>
<circle cx="261.7" cy="155.0" r="0.42" opacity="0.7"/>
<circle cx="305.2" cy="150.5" r="0.42" opacity="0.7"/>
<circle cx="304.1" cy="153.7" r="0.42" opacity="0.7"/>
<circle cx="281.7" cy="152.8" r="0.42" opacity="0.7"/>
<circle cx="297.2" cy="153.2" r="0.42" opacity="0.7"/>
<circle cx="310.0" cy="154.8" r="0.42" opacity="0.7"/>
<circle cx="294.1" cy="157.6" r="0.42" opacity="0.7"/>
<circle cx="363.3" cy="148.3" r="0.42" opacity="0.7"/>
<circle cx="314.8" cy="158.9" r="0.42" opacity="0.7"/>
<circle cx="313.3" cy="156.9" r="0.42" opacity="0.7"/>
<circle cx="335.3" cy="152.8" r="0.42" opacity="0.7"/>
<circle cx="379.5" cy="154.3" r="0.42" opacity="0.7"/>
<circle cx="345.8" cy="150.9" r="0.42" opacity="0.7"/>
<circle cx="294.5" cy="154.2" r="0.42" opacity="0.7"/>
<circle cx="378.9" cy="152.4" r="0.42" opacity="0.7"/>
<circle cx="268.3" cy="156.1" r="0.42" opacity="0.7"/>
<circle cx="310.7" cy="148.4" r="0.42" opacity="0.7"/>
<circle cx="377.3" cy="153.9" r="0.42" opacity="0.7"/>
<circle cx="348.8" cy="154.9" r="0.42" opacity="0.7"/>
<circle cx="367.8" cy="153.8" r="0.42" opacity="0.7"/>
<circle cx="297.8" cy="156.5" r="0.42" opacity="0.7"/>
<circle cx="275.5" cy="151.5" r="0.42" opacity="0.7"/>
<circle cx="275.2" cy="157.4" r="0.42" opacity="0.7"/>
<circle cx="387.3" cy="155.7" r="0.42" opacity="0.7"/>
<circle cx="341.4" cy="154.0" r="0.42" opacity="0.7"/>
<circle cx="328.5" cy="145.6" r="0.42" opacity="0.7"/>
<circle cx="312.8" cy="156.7" r="0.42" opacity="0.7"/>
<circle cx="366.8" cy="160.3" r="0.42" opacity="0.7"/>
<circle cx="381.8" cy="149.9" r="0.42" opacity="0.7"/>
<circle cx="294.0" cy="153.5" r="0.42" opacity="0.7"/>
<circle cx="380.5" cy="147.6" r="0.42" opacity="0.7"/>
<circle cx="320.2" cy="154.4" r="0.42" opacity="0.7"/>
<circle cx="273.5" cy="153.2" r="0.42" opacity="0.7"/>
<circle cx="375.5" cy="154.2" r="0.42" opacity="0.7"/>
<circle cx="259.0" cy="158.7" r="0.42" opacity="0.7"/>
<circle cx="385.6" cy="156.7" r="0.42" opacity="0.7"/>
<circle cx="261.4" cy="152.3" r="0.42" opacity="0.7"/>
<circle cx="355.1" cy="154.0" r="0.42" opacity="0.7"/>
<circle cx="264.0" cy="151.6" r="0.42" opacity="0.7"/>
<circle cx="267.6" cy="154.2" r="0.42" opacity="0.7"/>
<circle cx="324.1" cy="147.0" r="0.42" opacity="0.7"/>
<circle cx="342.2" cy="151.6" r="0.42" opacity="0.7"/>
<circle cx="305.3" cy="152.5" r="0.42" opacity="0.7"/>
<circle cx="276.8" cy="155.4" r="0.42" opacity="0.7"/>
<circle cx="368.6" cy="152.8" r="0.42" opacity="0.7"/>
<circle cx="267.3" cy="155.5" r="0.42" opacity="0.7"/>
<circle cx="327.2" cy="155.3" r="0.42" opacity="0.7"/>
<circle cx="327.1" cy="152.5" r="0.42" opacity="0.7"/>
<circle cx="271.8" cy="154.6" r="0.42" opacity="0.7"/>
<circle cx="372.6" cy="153.8" r="0.42" opacity="0.7"/>
<circle cx="382.3" cy="153.2" r="0.42" opacity="0.7"/>
<circle cx="361.7" cy="152.9" r="0.42" opacity="0.7"/>
<circle cx="356.2" cy="152.0" r="0.42" opacity="0.7"/>
<circle cx="290.4" cy="148.8" r="0.42" opacity="0.7"/>
<circle cx="294.1" cy="155.2" r="0.42" opacity="0.7"/>
<circle cx="266.0" cy="153.8" r="0.42" opacity="0.7"/>
<circle cx="360.8" cy="156.6" r="0.42" opacity="0.7"/>
<circle cx="263.0" cy="148.2" r="0.42" opacity="0.7"/>
<circle cx="260.2" cy="149.7" r="0.42" opacity="0.7"/>
<circle cx="348.3" cy="151.2" r="0.42" opacity="0.7"/>
<circle cx="317.1" cy="163.2" r="0.42" opacity="0.7"/>
<circle cx="381.9" cy="152.7" r="0.42" opacity="0.7"/>
<circle cx="287.8" cy="154.0" r="0.42" opacity="0.7"/>
<circle cx="346.5" cy="152.8" r="0.42" opacity="0.7"/>
<circle cx="281.4" cy="154.5" r="0.42" opacity="0.7"/>
<circle cx="299.4" cy="157.6" r="0.42" opacity="0.7"/>
<circle cx="319.6" cy="155.5" r="0.42" opacity="0.7"/>
<circle cx="377.6" cy="152.5" r="0.42" opacity="0.7"/>
<circle cx="339.2" cy="152.3" r="0.42" opacity="0.7"/>
<circle cx="361.1" cy="152.6" r="0.42" opacity="0.7"/>
<circle cx="276.6" cy="151.4" r="0.42" opacity="0.7"/>
<circle cx="345.7" cy="156.4" r="0.42" opacity="0.7"/>
<circle cx="381.5" cy="156.7" r="0.42" opacity="0.7"/>
<circle cx="355.5" cy="154.5" r="0.42" opacity="0.7"/>
<circle cx="313.5" cy="151.8" r="0.42" opacity="0.7"/>
<circle cx="372.5" cy="156.2" r="0.42" opacity="0.7"/>
<circle cx="382.7" cy="152.8" r="0.42" opacity="0.7"/>
<circle cx="385.7" cy="153.4" r="0.42" opacity="0.7"/>
<circle cx="286.0" cy="157.9" r="0.42" opacity="0.7"/>
<circle cx="321.3" cy="152.1" r="0.42" opacity="0.7"/>
<circle cx="307.7" cy="150.2" r="0.42" opacity="0.7"/>
<circle cx="362.1" cy="157.5" r="0.42" opacity="0.7"/>
<circle cx="342.9" cy="152.0" r="0.42" opacity="0.7"/>
<circle cx="300.6" cy="155.6" r="0.42" opacity="0.7"/>
<circle cx="255.2" cy="150.0" r="0.42" opacity="0.7"/>
<circle cx="256.8" cy="154.4" r="0.42" opacity="0.7"/>
<circle cx="336.5" cy="151.3" r="0.42" opacity="0.7"/>
<circle cx="300.0" cy="150.8" r="0.42" opacity="0.7"/>
<circle cx="338.5" cy="157.0" r="0.42" opacity="0.7"/>
<circle cx="266.5" cy="152.7" r="0.42" opacity="0.7"/>
<circle cx="344.1" cy="151.1" r="0.42" opacity="0.7"/>
<circle cx="270.9" cy="157.6" r="0.42" opacity="0.7"/>
<circle cx="279.5" cy="154.6" r="0.42" opacity="0.7"/>
<circle cx="384.3" cy="154.3" r="0.42" opacity="0.7"/>
<circle cx="337.2" cy="158.3" r="0.42" opacity="0.7"/>
<circle cx="308.0" cy="156.1" r="0.42" opacity="0.7"/>
<circle cx="388.4" cy="152.8" r="0.42" opacity="0.7"/>
<circle cx="367.1" cy="153.4" r="0.42" opacity="0.7"/>
<circle cx="278.3" cy="153.5" r="0.42" opacity="0.7"/>
<circle cx="316.1" cy="154.8" r="0.42" opacity="0.7"/>
<circle cx="329.4" cy="154.3" r="0.42" opacity="0.7"/>
<circle cx="324.2" cy="157.9" r="0.42" opacity="0.7"/>
<circle cx="344.8" cy="148.9" r="0.42" opacity="0.7"/>
<circle cx="339.1" cy="155.6" r="0.42" opacity="0.7"/>
<circle cx="344.1" cy="152.9" r="0.42" opacity="0.7"/>
<circle cx="305.5" cy="151.3" r="0.42" opacity="0.7"/>
<circle cx="322.0" cy="149.0" r="0.42" opacity="0.7"/>
<circle cx="386.8" cy="157.4" r="0.42" opacity="0.7"/>
<circle cx="330.1" cy="150.5" r="0.42" opacity="0.7"/>
<circle cx="356.3" cy="153.0" r="0.42" opacity="0.7"/>
<circle cx="259.4" cy="149.7" r="0.42" opacity="0.7"/>
<circle cx="273.1" cy="154.5" r="0.42" opacity="0.7"/>
<circle cx="334.2" cy="152.7" r="0.42" opacity="0.7"/>
<circle cx="260.9" cy="153.4" r="0.42" opacity="0.7"/>
<circle cx="292.6" cy="150.2" r="0.42" opacity="0.7"/>
<circle cx="294.0" cy="147.9" r="0.42" opacity="0.7"/>
<circle cx="342.4" cy="156.5" r="0.42" opacity="0.7"/>
<circle cx="346.2" cy="157.0" r="0.42" opacity="0.7"/>
<circle cx="348.1" cy="152.7" r="0.42" opacity="0.7"/>
<circle cx="276.5" cy="155.4" r="0.42" opacity="0.7"/>
<circle cx="301.6" cy="149.9" r="0.42" opacity="0.7"/>
<circle cx="324.5" cy="155.5" r="0.42" opacity="0.7"/>
<circle cx="277.7" cy="156.7" r="0.42" opacity="0.7"/>
<circle cx="261.8" cy="149.0" r="0.42" opacity="0.7"/>
<circle cx="384.9" cy="157.5" r="0.42" opacity="0.7"/>
<circle cx="296.5" cy="154.2" r="0.42" opacity="0.7"/>
<circle cx="289.8" cy="155.4" r="0.42" opacity="0.7"/>
<circle cx="306.8" cy="153.3" r="0.42" opacity="0.7"/>
<circle cx="377.6" cy="155.0" r="0.42" opacity="0.7"/>
<circle cx="367.9" cy="153.9" r="0.42" opacity="0.7"/>
<circle cx="275.2" cy="151.5" r="0.42" opacity="0.7"/>
<circle cx="318.3" cy="155.6" r="0.42" opacity="0.7"/>
<circle cx="303.7" cy="151.7" r="0.42" opacity="0.7"/>
<circle cx="326.3" cy="152.3" r="0.42" opacity="0.7"/>
<circle cx="359.0" cy="150.7" r="0.42" opacity="0.7"/>
<circle cx="366.5" cy="150.2" r="0.42" opacity="0.7"/>
<circle cx="290.6" cy="157.8" r="0.42" opacity="0.7"/>
<circle cx="264.1" cy="153.6" r="0.42" opacity="0.7"/>
<circle cx="310.5" cy="151.1" r="0.42" opacity="0.7"/>
<circle cx="296.2" cy="156.7" r="0.42" opacity="0.7"/>
<circle cx="348.3" cy="152.8" r="0.42" opacity="0.7"/>
<circle cx="308.0" cy="154.0" r="0.42" opacity="0.7"/>
<circle cx="363.7" cy="155.4" r="0.42" opacity="0.7"/>
<circle cx="279.7" cy="150.8" r="0.42" opacity="0.7"/>
<circle cx="345.2" cy="152.9" r="0.42" opacity="0.7"/>
<circle cx="272.7" cy="155.7" r="0.42" opacity="0.7"/>
<circle cx="322.6" cy="154.5" r="0.42" opacity="0.7"/>
<circle cx="345.0" cy="151.0" r="0.42" opacity="0.7"/>
<circle cx="291.7" cy="155.2" r="0.42" opacity="0.7"/>
<circle cx="361.4" cy="155.5" r="0.42" opacity="0.7"/>
<circle cx="356.7" cy="156.3" r="0.42" opacity="0.7"/>
<circle cx="376.2" cy="153.3" r="0.42" opacity="0.7"/>
<circle cx="342.5" cy="149.2" r="0.42" opacity="0.7"/>
<circle cx="272.4" cy="152.6" r="0.42" opacity="0.7"/>
<circle cx="291.8" cy="146.9" r="0.42" opacity="0.7"/>
<circle cx="336.3" cy="153.3" r="0.42" opacity="0.7"/>
<circle cx="284.9" cy="156.9" r="0.42" opacity="0.7"/>
<circle cx="346.1" cy="154.2" r="0.42" opacity="0.7"/>
<circle cx="349.3" cy="149.0" r="0.42" opacity="0.7"/>
<circle cx="368.1" cy="156.7" r="0.42" opacity="0.7"/>
<circle cx="273.4" cy="153.6" r="0.42" opacity="0.7"/>
<circle cx="262.6" cy="149.6" r="0.42" opacity="0.7"/>
<circle cx="260.0" cy="152.1" r="0.42" opacity="0.7"/>
<circle cx="269.6" cy="152.1" r="0.42" opacity="0.7"/>
<circle cx="299.4" cy="152.0" r="0.42" opacity="0.7"/>
<circle cx="284.1" cy="154.6" r="0.42" opacity="0.7"/>
<circle cx="364.1" cy="157.8" r="0.42" opacity="0.7"/>
<circle cx="258.7" cy="156.2" r="0.42" opacity="0.7"/>
<circle cx="339.9" cy="154.0" r="0.42" opacity="0.7"/>
<circle cx="333.8" cy="150.4" r="0.42" opacity="0.7"/>
<circle cx="285.2" cy="153.3" r="0.42" opacity="0.7"/>
<circle cx="389.4" cy="155.5" r="0.42" opacity="0.7"/>
<circle cx="388.1" cy="152.4" r="0.42" opacity="0.7"/>
<circle cx="316.1" cy="153.0" r="0.42" opacity="0.7"/>
<circle cx="280.3" cy="154.1" r="0.42" opacity="0.7"/>
<circle cx="292.9" cy="153.3" r="0.42" opacity="0.7"/>
<circle cx="349.9" cy="150.7" r="0.42" opacity="0.7"/>
<circle cx="290.6" cy="151.6" r="0.42" opacity="0.7"/>
<circle cx="355.8" cy="147.6" r="0.42" opacity="0.7"/>
<circle cx="379.2" cy="153.3" r="0.42" opacity="0.7"/>
<circle cx="282.4" cy="151.7" r="0.42" opacity="0.7"/>
<circle cx="371.5" cy="152.3" r="0.42" opacity="0.7"/>
<circle cx="302.7" cy="152.2" r="0.42" opacity="0.7"/>
<circle cx="340.2" cy="153.3" r="0.42" opacity="0.7"/>
<circle cx="278.3" cy="154.1" r="0.42" opacity="0.7"/>
<circle cx="376.3" cy="152.5" r="0.42" opacity="0.7"/>
<circle cx="269.0" cy="153.8" r="0.42" opacity="0.7"/>
<circle cx="359.9" cy="158.6" r="0.42" opacity="0.7"/>
<circle cx="362.2" cy="153.2" r="0.42" opacity="0.7"/>
<circle cx="365.9" cy="155.8" r="0.42" opacity="0.7"/>
<circle cx="323.4" cy="155.4" r="0.42" opacity="0.7"/>
<circle cx="288.7" cy="160.1" r="0.42" opacity="0.7"/>
<circle cx="382.6" cy="151.5" r="0.42" opacity="0.7"/>
<circle cx="313.7" cy="157.8" r="0.42" opacity="0.7"/>
<circle cx="272.7" cy="144.6" r="0.42" opacity="0.7"/>
<circle cx="283.6" cy="153.3" r="0.42" opacity="0.7"/>
<circle cx="367.0" cy="153.7" r="0.42" opacity="0.7"/>
<circle cx="375.0" cy="155.3" r="0.42" opacity="0.7"/>
<circle cx="339.2" cy="154.4" r="0.42" opacity="0.7"/>
<circle cx="320.2" cy="155.9" r="0.42" opacity="0.7"/>
<circle cx="306.4" cy="158.5" r="0.42" opacity="0.7"/>
<circle cx="334.7" cy="154.3" r="0.42" opacity="0.7"/>
<circle cx="333.9" cy="155.9" r="0.42" opacity="0.7"/>
<circle cx="350.3" cy="156.9" r="0.42" opacity="0.7"/>
<circle cx="261.9" cy="155.0" r="0.42" opacity="0.7"/>
<circle cx="308.8" cy="155.9" r="0.42" opacity="0.7"/>
<circle cx="348.3" cy="156.8" r="0.42" opacity="0.7"/>
<circle cx="273.8" cy="152.8" r="0.42" opacity="0.7"/>
<circle cx="286.9" cy="153.0" r="0.42" opacity="0.7"/>
<circle cx="285.6" cy="154.5" r="0.42" opacity="0.7"/>
<circle cx="340.4" cy="149.3" r="0.42" opacity="0.7"/>
<circle cx="259.8" cy="162.4" r="0.42" opacity="0.7"/>
<circle cx="259.8" cy="152.2" r="0.42" opacity="0.7"/>
<circle cx="287.2" cy="154.2" r="0.42" opacity="0.7"/>
<circle cx="380.6" cy="156.9" r="0.42" opacity="0.7"/>
<circle cx="379.1" cy="153.8" r="0.42" opacity="0.7"/>
<circle cx="357.1" cy="153.9" r="0.42" opacity="0.7"/>
<circle cx="386.4" cy="155.1" r="0.42" opacity="0.7"/>
<circle cx="276.6" cy="157.3" r="0.42" opacity="0.7"/>
<circle cx="268.9" cy="157.4" r="0.42" opacity="0.7"/>
<circle cx="254.9" cy="150.2" r="0.42" opacity="0.7"/>
<circle cx="329.9" cy="150.3" r="0.42" opacity="0.7"/>
<circle cx="335.1" cy="153.5" r="0.42" opacity="0.7"/>
<circle cx="265.1" cy="149.5" r="0.42" opacity="0.7"/>
<circle cx="355.5" cy="152.3" r="0.42" opacity="0.7"/>
<circle cx="366.9" cy="152.4" r="0.42" opacity="0.7"/>
<circle cx="342.6" cy="153.8" r="0.42" opacity="0.7"/>
<circle cx="386.8" cy="152.9" r="0.42" opacity="0.7"/>
<circle cx="353.5" cy="154.3" r="0.42" opacity="0.7"/>
<circle cx="369.5" cy="152.2" r="0.42" opacity="0.7"/>
<circle cx="357.8" cy="154.9" r="0.42" opacity="0.7"/>
<circle cx="336.7" cy="153.5" r="0.42" opacity="0.7"/>
<circle cx="264.8" cy="153.2" r="0.42" opacity="0.7"/>
<circle cx="348.4" cy="151.0" r="0.42" opacity="0.7"/>
<circle cx="309.8" cy="155.2" r="0.42" opacity="0.7"/>
<circle cx="378.7" cy="155.0" r="0.42" opacity="0.7"/>
<circle cx="368.0" cy="148.6" r="0.42" opacity="0.7"/>
<circle cx="258.7" cy="154.9" r="0.42" opacity="0.7"/>
<circle cx="373.5" cy="151.5" r="0.42" opacity="0.7"/>
<circle cx="382.2" cy="153.0" r="0.42" opacity="0.7"/>
<circle cx="295.3" cy="151.8" r="0.42" opacity="0.7"/>
<circle cx="298.5" cy="140.3" r="0.42" opacity="0.7"/>
<circle cx="343.2" cy="155.8" r="0.42" opacity="0.7"/>
<circle cx="357.8" cy="157.3" r="0.42" opacity="0.7"/>
<circle cx="291.7" cy="153.4" r="0.42" opacity="0.7"/>
<circle cx="285.8" cy="155.3" r="0.42" opacity="0.7"/>
<circle cx="358.9" cy="152.5" r="0.42" opacity="0.7"/>
<circle cx="375.1" cy="152.4" r="0.42" opacity="0.7"/>
<circle cx="366.4" cy="153.3" r="0.42" opacity="0.7"/>
<circle cx="339.5" cy="147.7" r="0.42" opacity="0.7"/>
<circle cx="276.4" cy="152.1" r="0.42" opacity="0.7"/>
<circle cx="342.6" cy="155.7" r="0.42" opacity="0.7"/>
<circle cx="378.3" cy="152.6" r="0.42" opacity="0.7"/>
<circle cx="385.6" cy="154.5" r="0.42" opacity="0.7"/>
<circle cx="377.3" cy="157.5" r="0.42" opacity="0.7"/>
<circle cx="289.8" cy="154.9" r="0.42" opacity="0.7"/>
<circle cx="313.9" cy="155.5" r="0.42" opacity="0.7"/>
<circle cx="355.6" cy="153.5" r="0.42" opacity="0.7"/>
<circle cx="258.3" cy="155.3" r="0.42" opacity="0.7"/>
<circle cx="282.9" cy="156.7" r="0.42" opacity="0.7"/>
<circle cx="334.6" cy="152.8" r="0.42" opacity="0.7"/>
<circle cx="335.6" cy="153.2" r="0.42" opacity="0.7"/>
<circle cx="263.7" cy="155.2" r="0.42" opacity="0.7"/>
<circle cx="303.5" cy="155.5" r="0.42" opacity="0.7"/>
<circle cx="385.9" cy="155.2" r="0.42" opacity="0.7"/>
<circle cx="291.6" cy="154.0" r="0.42" opacity="0.7"/>
<circle cx="295.6" cy="154.4" r="0.42" opacity="0.7"/>
<circle cx="348.0" cy="153.4" r="0.42" opacity="0.7"/>
<circle cx="380.8" cy="152.5" r="0.42" opacity="0.7"/>
<circle cx="367.3" cy="155.2" r="0.42" opacity="0.7"/>
<circle cx="370.4" cy="152.1" r="0.42" opacity="0.7"/>
<circle cx="345.4" cy="155.0" r="0.42" opacity="0.7"/>
<circle cx="377.1" cy="153.6" r="0.42" opacity="0.7"/>
<circle cx="343.9" cy="152.7" r="0.42" opacity="0.7"/>
<circle cx="274.1" cy="150.8" r="0.42" opacity="0.7"/>
<circle cx="387.7" cy="151.8" r="0.42" opacity="0.7"/>
<circle cx="284.8" cy="148.2" r="0.42" opacity="0.7"/>
<circle cx="256.6" cy="157.5" r="0.42" opacity="0.7"/>
<circle cx="303.8" cy="157.8" r="0.42" opacity="0.7"/>
<circle cx="273.3" cy="153.5" r="0.42" opacity="0.7"/>
<circle cx="325.4" cy="155.7" r="0.42" opacity="0.7"/>
<circle cx="288.2" cy="153.0" r="0.42" opacity="0.7"/>
<circle cx="358.2" cy="155.7" r="0.42" opacity="0.7"/>
<circle cx="280.9" cy="151.9" r="0.42" opacity="0.7"/>
<circle cx="341.4" cy="155.0" r="0.42" opacity="0.7"/>
<circle cx="372.4" cy="148.6" r="0.42" opacity="0.7"/>
<circle cx="286.4" cy="145.4" r="0.42" opacity="0.7"/>
<circle cx="316.9" cy="159.8" r="0.42" opacity="0.7"/>
<circle cx="278.1" cy="155.3" r="0.42" opacity="0.7"/>
<circle cx="263.8" cy="148.2" r="0.42" opacity="0.7"/>
<circle cx="329.7" cy="155.8" r="0.42" opacity="0.7"/>
<circle cx="284.7" cy="149.2" r="0.42" opacity="0.7"/>
<circle cx="384.9" cy="151.7" r="0.42" opacity="0.7"/>
<circle cx="269.5" cy="151.8" r="0.42" opacity="0.7"/>
<circle cx="277.7" cy="153.2" r="0.42" opacity="0.7"/>
<circle cx="283.4" cy="152.4" r="0.42" opacity="0.7"/>
<circle cx="317.0" cy="166.9" r="0.42" opacity="0.7"/>
<circle cx="315.9" cy="154.1" r="0.42" opacity="0.7"/>
<circle cx="270.8" cy="151.6" r="0.42" opacity="0.7"/>
<circle cx="256.1" cy="153.0" r="0.42" opacity="0.7"/>
<circle cx="318.3" cy="155.5" r="0.42" opacity="0.7"/>
<circle cx="286.3" cy="150.9" r="0.42" opacity="0.7"/>
<circle cx="274.2" cy="151.5" r="0.42" opacity="0.7"/>
<circle cx="382.6" cy="154.9" r="0.42" opacity="0.7"/>
<circle cx="376.8" cy="151.8" r="0.42" opacity="0.7"/>
<circle cx="285.3" cy="154.3" r="0.42" opacity="0.7"/>
<circle cx="284.0" cy="152.3" r="0.42" opacity="0.7"/>
<circle cx="280.5" cy="148.8" r="0.42" opacity="0.7"/>
<circle cx="309.0" cy="149.7" r="0.42" opacity="0.7"/>
<circle cx="383.0" cy="150.8" r="0.42" opacity="0.7"/>
<circle cx="383.0" cy="153.9" r="0.42" opacity="0.7"/>
<circle cx="388.9" cy="154.4" r="0.42" opacity="0.7"/>
<circle cx="281.9" cy="157.8" r="0.42" opacity="0.7"/>
<circle cx="384.7" cy="151.7" r="0.42" opacity="0.7"/>
<circle cx="345.1" cy="156.0" r="0.42" opacity="0.7"/>
<circle cx="305.2" cy="153.5" r="0.42" opacity="0.7"/>
<circle cx="336.9" cy="153.5" r="0.42" opacity="0.7"/>
<circle cx="316.1" cy="157.0" r="0.42" opacity="0.7"/>
<circle cx="270.9" cy="154.8" r="0.42" opacity="0.7"/>
<circle cx="274.8" cy="150.5" r="0.42" opacity="0.7"/>
<circle cx="374.6" cy="152.6" r="0.42" opacity="0.7"/>
<circle cx="286.3" cy="151.3" r="0.42" opacity="0.7"/>
<circle cx="310.0" cy="153.9" r="0.42" opacity="0.7"/>
<circle cx="371.1" cy="152.8" r="0.42" opacity="0.7"/>
<circle cx="378.5" cy="159.0" r="0.42" opacity="0.7"/>
<circle cx="257.0" cy="152.0" r="0.42" opacity="0.7"/>
<circle cx="372.5" cy="159.3" r="0.42" opacity="0.7"/>
<circle cx="326.3" cy="154.7" r="0.42" opacity="0.7"/>
<circle cx="324.0" cy="150.4" r="0.42" opacity="0.7"/>
<circle cx="287.6" cy="150.0" r="0.42" opacity="0.7"/>
<circle cx="376.3" cy="151.4" r="0.42" opacity="0.7"/>
<circle cx="280.7" cy="158.7" r="0.42" opacity="0.7"/>
<circle cx="279.2" cy="151.7" r="0.42" opacity="0.7"/>
<circle cx="289.2" cy="151.6" r="0.42" opacity="0.7"/>
<circle cx="346.3" cy="158.0" r="0.42" opacity="0.7"/>
<circle cx="355.0" cy="150.1" r="0.42" opacity="0.7"/>
<circle cx="362.9" cy="154.8" r="0.42" opacity="0.7"/>
<circle cx="319.0" cy="154.5" r="0.42" opacity="0.7"/>
<circle cx="384.4" cy="152.3" r="0.42" opacity="0.7"/>
<circle cx="286.1" cy="155.0" r="0.42" opacity="0.7"/>
<circle cx="310.0" cy="155.1" r="0.42" opacity="0.7"/>
<circle cx="286.1" cy="151.3" r="0.42" opacity="0.7"/>
<circle cx="358.4" cy="156.1" r="0.42" opacity="0.7"/>
<circle cx="284.7" cy="153.4" r="0.42" opacity="0.7"/>
<circle cx="273.0" cy="154.1" r="0.42" opacity="0.7"/>
<circle cx="333.5" cy="151.6" r="0.42" opacity="0.7"/>
<circle cx="350.0" cy="152.5" r="0.42" opacity="0.7"/>
<circle cx="278.4" cy="156.9" r="0.42" opacity="0.7"/>
<circle cx="276.4" cy="153.9" r="0.42" opacity="0.7"/>
<circle cx="384.9" cy="155.2" r="0.42" opacity="0.7"/>
<circle cx="340.5" cy="150.7" r="0.42" opacity="0.7"/>
<circle cx="385.4" cy="153.7" r="0.42" opacity="0.7"/>
<circle cx="289.2" cy="151.6" r="0.42" opacity="0.7"/>
<circle cx="336.0" cy="155.7" r="0.42" opacity="0.7"/>
<circle cx="281.5" cy="148.8" r="0.42" opacity="0.7"/>
<circle cx="327.0" cy="153.4" r="0.42" opacity="0.7"/>
<circle cx="255.2" cy="154.4" r="0.42" opacity="0.7"/>
<circle cx="348.8" cy="154.0" r="0.42" opacity="0.7"/>
<circle cx="350.9" cy="155.3" r="0.42" opacity="0.7"/>
<circle cx="257.2" cy="159.1" r="0.42" opacity="0.7"/>
<circle cx="274.7" cy="151.1" r="0.42" opacity="0.7"/>
<circle cx="325.3" cy="151.2" r="0.42" opacity="0.7"/>
<circle cx="289.6" cy="156.3" r="0.42" opacity="0.7"/>
<circle cx="266.0" cy="156.2" r="0.42" opacity="0.7"/>
<circle cx="348.9" cy="155.2" r="0.42" opacity="0.7"/>
<circle cx="361.8" cy="152.0" r="0.42" opacity="0.7"/>
<circle cx="280.1" cy="155.7" r="0.42" opacity="0.7"/>
<circle cx="330.5" cy="157.9" r="0.42" opacity="0.7"/>
<circle cx="306.8" cy="156.4" r="0.42" opacity="0.7"/>
<circle cx="285.7" cy="153.8" r="0.42" opacity="0.7"/>
<circle cx="334.0" cy="152.5" r="0.42" opacity="0.7"/>
<circle cx="350.4" cy="153.9" r="0.42" opacity="0.7"/>
<circle cx="267.2" cy="151.9" r="0.42" opacity="0.7"/>
<circle cx="331.1" cy="154.6" r="0.42" opacity="0.7"/>
<circle cx="269.2" cy="156.3" r="0.42" opacity="0.7"/>
<circle cx="287.2" cy="151.0" r="0.42" opacity="0.7"/>
<circle cx="352.7" cy="156.4" r="0.42" opacity="0.7"/>
<circle cx="352.7" cy="152.7" r="0.42" opacity="0.7"/>
<circle cx="348.2" cy="156.7" r="0.42" opacity="0.7"/>
<circle cx="376.7" cy="152.2" r="0.42" opacity="0.7"/>
<circle cx="289.9" cy="156.6" r="0.42" opacity="0.7"/>
<circle cx="285.2" cy="155.2" r="0.42" opacity="0.7"/>
<circle cx="384.4" cy="150.3" r="0.42" opacity="0.7"/>
<circle cx="296.5" cy="153.4" r="0.42" opacity="0.7"/>
<circle cx="337.1" cy="151.8" r="0.42" opacity="0.7"/>
<circle cx="261.2" cy="156.6" r="0.42" opacity="0.7"/>
<circle cx="373.4" cy="157.8" r="0.42" opacity="0.7"/>
<circle cx="281.4" cy="150.7" r="0.42" opacity="0.7"/>
<circle cx="303.7" cy="153.4" r="0.42" opacity="0.7"/>
<circle cx="326.3" cy="154.2" r="0.42" opacity="0.7"/>
<circle cx="307.0" cy="154.0" r="0.42" opacity="0.7"/>
<circle cx="288.8" cy="153.9" r="0.42" opacity="0.7"/>
<circle cx="319.2" cy="158.2" r="0.42" opacity="0.7"/>
<circle cx="304.9" cy="158.3" r="0.42" opacity="0.7"/>
<circle cx="338.4" cy="151.1" r="0.42" opacity="0.7"/>
<circle cx="316.3" cy="163.8" r="0.42" opacity="0.7"/>
<circle cx="377.8" cy="155.0" r="0.42" opacity="0.7"/>
<circle cx="317.7" cy="160.1" r="0.42" opacity="0.7"/>
<circle cx="359.0" cy="155.1" r="0.42" opacity="0.7"/>
<circle cx="266.2" cy="158.4" r="0.42" opacity="0.7"/>
<circle cx="261.5" cy="156.8" r="0.42" opacity="0.7"/>
<circle cx="358.6" cy="154.2" r="0.42" opacity="0.7"/>
<circle cx="276.8" cy="154.0" r="0.42" opacity="0.7"/>
<circle cx="367.4" cy="155.3" r="0.42" opacity="0.7"/>
<circle cx="312.3" cy="160.1" r="0.42" opacity="0.7"/>
<circle cx="287.5" cy="154.8" r="0.42" opacity="0.7"/>
<circle cx="354.9" cy="154.7" r="0.42" opacity="0.7"/>
<circle cx="377.0" cy="156.5" r="0.42" opacity="0.7"/>
<circle cx="293.7" cy="152.7" r="0.42" opacity="0.7"/>
<circle cx="351.6" cy="154.5" r="0.42" opacity="0.7"/>
<circle cx="384.3" cy="154.6" r="0.42" opacity="0.7"/>
<circle cx="364.7" cy="153.5" r="0.42" opacity="0.7"/>
<circle cx="318.1" cy="157.9" r="0.42" opacity="0.7"/>
<circle cx="370.3" cy="155.3" r="0.42" opacity="0.7"/>
<circle cx="300.9" cy="156.9" r="0.42" opacity="0.7"/>
<circle cx="311.3" cy="155.2" r="0.42" opacity="0.7"/>
<circle cx="358.0" cy="153.3" r="0.42" opacity="0.7"/>
<circle cx="376.4" cy="151.4" r="0.42" opacity="0.7"/>
<circle cx="365.5" cy="157.5" r="0.42" opacity="0.7"/>
<circle cx="304.1" cy="152.1" r="0.42" opacity="0.7"/>
<circle cx="269.5" cy="155.3" r="0.42" opacity="0.7"/>
<circle cx="377.8" cy="150.3" r="0.42" opacity="0.7"/>
<circle cx="356.9" cy="149.9" r="0.42" opacity="0.7"/>
<circle cx="379.1" cy="157.2" r="0.42" opacity="0.7"/>
<circle cx="356.8" cy="153.3" r="0.42" opacity="0.7"/>
<circle cx="288.9" cy="150.3" r="0.42" opacity="0.7"/>
<circle cx="272.7" cy="156.5" r="0.42" opacity="0.7"/>
<circle cx="300.1" cy="151.0" r="0.42" opacity="0.7"/>
<circle cx="369.4" cy="157.2" r="0.42" opacity="0.7"/>
<circle cx="273.4" cy="153.4" r="0.42" opacity="0.7"/>
<circle cx="342.9" cy="146.0" r="0.42" opacity="0.7"/>
<circle cx="372.4" cy="151.5" r="0.42" opacity="0.7"/>
<circle cx="360.6" cy="154.1" r="0.42" opacity="0.7"/>
<circle cx="372.4" cy="152.6" r="0.42" opacity="0.7"/>
<circle cx="268.2" cy="155.0" r="0.42" opacity="0.7"/>
<circle cx="258.1" cy="153.6" r="0.42" opacity="0.7"/>
<circle cx="263.8" cy="154.4" r="0.42" opacity="0.7"/>
<circle cx="281.5" cy="150.1" r="0.42" opacity="0.7"/>
<circle cx="383.8" cy="155.9" r="0.42" opacity="0.7"/>
<circle cx="340.2" cy="148.7" r="0.42" opacity="0.7"/>
<circle cx="353.9" cy="154.4" r="0.42" opacity="0.7"/>
<circle cx="372.9" cy="155.9" r="0.42" opacity="0.7"/>
<circle cx="366.9" cy="155.4" r="0.42" opacity="0.7"/>
<circle cx="320.1" cy="154.6" r="0.42" opacity="0.7"/>
<circle cx="303.7" cy="152.1" r="0.42" opacity="0.7"/>
<circle cx="384.4" cy="157.1" r="0.42" opacity="0.7"/>
<circle cx="259.3" cy="157.1" r="0.42" opacity="0.7"/>
<circle cx="313.1" cy="158.7" r="0.42" opacity="0.7"/>
<circle cx="365.7" cy="155.0" r="0.42" opacity="0.7"/>
<circle cx="302.9" cy="153.4" r="0.42" opacity="0.7"/>
<circle cx="284.3" cy="149.4" r="0.42" opacity="0.7"/>
<circle cx="389.0" cy="150.9" r="0.42" opacity="0.7"/>
<circle cx="380.5" cy="156.0" r="0.42" opacity="0.7"/>
<circle cx="295.5" cy="153.3" r="0.42" opacity="0.7"/>
<circle cx="328.6" cy="152.0" r="0.42" opacity="0.7"/>
<circle cx="345.1" cy="163.5" r="0.42" opacity="0.7"/>
<circle cx="330.6" cy="150.7" r="0.42" opacity="0.7"/>
<circle cx="279.4" cy="149.8" r="0.42" opacity="0.7"/>
<circle cx="372.2" cy="152.3" r="0.42" opacity="0.7"/>
<circle cx="379.7" cy="156.2" r="0.42" opacity="0.7"/>
<circle cx="376.3" cy="153.9" r="0.42" opacity="0.7"/>
<circle cx="383.9" cy="156.2" r="0.42" opacity="0.7"/>
<circle cx="274.1" cy="152.3" r="0.42" opacity="0.7"/>
<circle cx="363.4" cy="152.1" r="0.42" opacity="0.7"/>
<circle cx="292.0" cy="152.4" r="0.42" opacity="0.7"/>
<circle cx="324.1" cy="153.7" r="0.42" opacity="0.7"/>
<circle cx="300.7" cy="153.6" r="0.42" opacity="0.7"/>
<circle cx="355.9" cy="153.4" r="0.42" opacity="0.7"/>
<circle cx="278.4" cy="156.3" r="0.42" opacity="0.7"/>
<circle cx="377.0" cy="150.3" r="0.42" opacity="0.7"/>
<circle cx="356.0" cy="151.6" r="0.42" opacity="0.7"/>
<circle cx="350.8" cy="156.3" r="0.42" opacity="0.7"/>
<circle cx="261.7" cy="149.1" r="0.42" opacity="0.7"/>
<circle cx="264.0" cy="152.9" r="0.42" opacity="0.7"/>
<circle cx="316.9" cy="154.1" r="0.42" opacity="0.7"/>
<circle cx="300.1" cy="153.5" r="0.42" opacity="0.7"/>
<circle cx="276.4" cy="155.0" r="0.42" opacity="0.7"/>
<circle cx="338.3" cy="154.3" r="0.42" opacity="0.7"/>
<circle cx="266.1" cy="154.9" r="0.42" opacity="0.7"/>
<circle cx="297.4" cy="154.6" r="0.42" opacity="0.7"/>
<circle cx="314.2" cy="158.7" r="0.42" opacity="0.7"/>
<circle cx="382.5" cy="154.5" r="0.42" opacity="0.7"/>
<circle cx="274.2" cy="156.4" r="0.42" opacity="0.7"/>
<circle cx="264.5" cy="155.8" r="0.42" opacity="0.7"/>
<circle cx="302.5" cy="153.0" r="0.42" opacity="0.7"/>
<circle cx="302.3" cy="152.5" r="0.42" opacity="0.7"/>
<circle cx="371.6" cy="154.3" r="0.42" opacity="0.7"/>
<circle cx="255.5" cy="153.2" r="0.42" opacity="0.7"/>
<circle cx="339.9" cy="151.4" r="0.42" opacity="0.7"/>
<circle cx="309.0" cy="151.4" r="0.42" opacity="0.7"/>
<circle cx="354.1" cy="152.4" r="0.42" opacity="0.7"/>
<circle cx="274.3" cy="155.9" r="0.42" opacity="0.7"/>
<circle cx="334.5" cy="150.2" r="0.42" opacity="0.7"/>
<circle cx="300.6" cy="151.3" r="0.42" opacity="0.7"/>
<circle cx="279.3" cy="152.8" r="0.42" opacity="0.7"/>
<circle cx="376.1" cy="155.5" r="0.42" opacity="0.7"/>
<circle cx="319.5" cy="156.0" r="0.42" opacity="0.7"/>
<circle cx="375.8" cy="148.3" r="0.42" opacity="0.7"/>
<circle cx="341.1" cy="152.4" r="0.42" opacity="0.7"/>
<circle cx="299.6" cy="150.4" r="0.42" opacity="0.7"/>
<circle cx="289.9" cy="150.9" r="0.42" opacity="0.7"/>
<circle cx="307.1" cy="155.9" r="0.42" opacity="0.7"/>
<circle cx="291.9" cy="152.0" r="0.42" opacity="0.7"/>
<circle cx="365.8" cy="153.3" r="0.42" opacity="0.7"/>
<circle cx="280.8" cy="152.5" r="0.42" opacity="0.7"/>
<circle cx="363.7" cy="153.6" r="0.42" opacity="0.7"/>
<circle cx="290.3" cy="154.3" r="0.42" opacity="0.7"/>
<circle cx="352.1" cy="156.2" r="0.42" opacity="0.7"/>
<circle cx="379.4" cy="151.4" r="0.42" opacity="0.7"/>
<circle cx="379.9" cy="154.8" r="0.42" opacity="0.7"/>
<circle cx="370.9" cy="157.1" r="0.42" opacity="0.7"/>
<circle cx="267.2" cy="153.6" r="0.42" opacity="0.7"/>
<circle cx="386.9" cy="146.8" r="0.42" opacity="0.7"/>
<circle cx="262.2" cy="157.1" r="0.42" opacity="0.7"/>
<circle cx="339.9" cy="154.0" r="0.42" opacity="0.7"/>
<circle cx="276.5" cy="150.8" r="0.42" opacity="0.7"/>
<circle cx="385.9" cy="151.3" r="0.42" opacity="0.7"/>
<circle cx="387.2" cy="152.1" r="0.42" opacity="0.7"/>
<circle cx="286.1" cy="154.6" r="0.42" opacity="0.7"/>
<circle cx="389.3" cy="154.2" r="0.42" opacity="0.7"/>
<circle cx="275.2" cy="154.8" r="0.42" opacity="0.7"/>
<circle cx="354.4" cy="146.1" r="0.42" opacity="0.7"/>
<circle cx="259.1" cy="152.8" r="0.42" opacity="0.7"/>
<circle cx="361.7" cy="149.0" r="0.42" opacity="0.7"/>
<circle cx="336.0" cy="154.9" r="0.42" opacity="0.7"/>
<circle cx="308.2" cy="158.9" r="0.42" opacity="0.7"/>
<circle cx="273.9" cy="152.0" r="0.42" opacity="0.7"/>
<circle cx="306.5" cy="157.6" r="0.42" opacity="0.7"/>
<circle cx="361.0" cy="153.6" r="0.42" opacity="0.7"/>
<circle cx="255.4" cy="150.6" r="0.42" opacity="0.7"/>
<circle cx="331.8" cy="155.3" r="0.42" opacity="0.7"/>
<circle cx="309.9" cy="159.3" r="0.42" opacity="0.7"/>
<circle cx="297.4" cy="152.1" r="0.42" opacity="0.7"/>
<circle cx="291.0" cy="154.6" r="0.42" opacity="0.7"/>
<circle cx="365.8" cy="149.6" r="0.42" opacity="0.7"/>
<circle cx="347.8" cy="153.6" r="0.42" opacity="0.7"/>
<circle cx="337.3" cy="151.7" r="0.42" opacity="0.7"/>
<circle cx="370.7" cy="152.7" r="0.42" opacity="0.7"/>
<circle cx="265.8" cy="158.6" r="0.42" opacity="0.7"/>
<circle cx="357.1" cy="153.7" r="0.42" opacity="0.7"/>
<circle cx="377.4" cy="150.5" r="0.42" opacity="0.7"/>
<circle cx="312.5" cy="156.0" r="0.42" opacity="0.7"/>
<circle cx="292.1" cy="152.4" r="0.42" opacity="0.7"/>
<circle cx="372.6" cy="153.2" r="0.42" opacity="0.7"/>
<circle cx="353.5" cy="151.7" r="0.42" opacity="0.7"/>
<circle cx="267.8" cy="153.2" r="0.42" opacity="0.7"/>
<circle cx="343.2" cy="151.9" r="0.42" opacity="0.7"/>
<circle cx="304.8" cy="161.1" r="0.42" opacity="0.7"/>
<circle cx="312.4" cy="151.9" r="0.42" opacity="0.7"/>
<circle cx="357.3" cy="155.0" r="0.42" opacity="0.7"/>
<circle cx="383.2" cy="151.7" r="0.42" opacity="0.7"/>
<circle cx="270.7" cy="155.6" r="0.42" opacity="0.7"/>
<circle cx="261.8" cy="156.2" r="0.42" opacity="0.7"/>
<circle cx="327.8" cy="155.7" r="0.42" opacity="0.7"/>
<circle cx="305.6" cy="155.9" r="0.42" opacity="0.7"/>
<circle cx="364.9" cy="151.4" r="0.42" opacity="0.7"/>
<circle cx="369.9" cy="153.6" r="0.42" opacity="0.7"/>
<circle cx="259.3" cy="149.9" r="0.42" opacity="0.7"/>
<circle cx="353.3" cy="154.2" r="0.42" opacity="0.7"/>
<circle cx="380.9" cy="156.3" r="0.42" opacity="0.7"/>
<circle cx="270.9" cy="156.7" r="0.42" opacity="0.7"/>
<circle cx="322.3" cy="156.2" r="0.42" opacity="0.7"/>
<circle cx="318.8" cy="161.5" r="0.42" opacity="0.7"/>
<circle cx="378.2" cy="156.1" r="0.42" opacity="0.7"/>
<circle cx="386.1" cy="151.7" r="0.42" opacity="0.7"/>
<circle cx="340.0" cy="155.0" r="0.42" opacity="0.7"/>
<circle cx="267.9" cy="151.5" r="0.42" opacity="0.7"/>
<circle cx="363.7" cy="153.4" r="0.42" opacity="0.7"/>
<circle cx="317.3" cy="153.4" r="0.42" opacity="0.7"/>
<circle cx="379.6" cy="152.3" r="0.42" opacity="0.7"/>
<circle cx="273.2" cy="150.8" r="0.42" opacity="0.7"/>
<circle cx="321.4" cy="151.5" r="0.42" opacity="0.7"/>
<circle cx="357.8" cy="155.7" r="0.42" opacity="0.7"/>
<circle cx="276.6" cy="149.6" r="0.42" opacity="0.7"/>
<circle cx="387.5" cy="157.8" r="0.42" opacity="0.7"/>
<circle cx="333.4" cy="151.3" r="0.42" opacity="0.7"/>
<circle cx="297.1" cy="157.7" r="0.42" opacity="0.7"/>
<circle cx="282.3" cy="152.8" r="0.42" opacity="0.7"/>
<circle cx="330.8" cy="156.7" r="0.42" opacity="0.7"/>
<circle cx="347.4" cy="156.6" r="0.42" opacity="0.7"/>
<circle cx="328.2" cy="152.5" r="0.42" opacity="0.7"/>
<circle cx="345.3" cy="152.0" r="0.42" opacity="0.7"/>
<circle cx="385.8" cy="152.3" r="0.42" opacity="0.7"/>
<circle cx="386.3" cy="159.8" r="0.42" opacity="0.7"/>
<circle cx="282.5" cy="153.7" r="0.42" opacity="0.7"/>
<circle cx="270.6" cy="151.8" r="0.42" opacity="0.7"/>
<circle cx="380.1" cy="150.4" r="0.42" opacity="0.7"/>
<circle cx="346.4" cy="154.2" r="0.42" opacity="0.7"/>
<circle cx="312.4" cy="155.6" r="0.42" opacity="0.7"/>
<circle cx="331.6" cy="144.2" r="0.42" opacity="0.7"/>
<circle cx="334.4" cy="156.0" r="0.42" opacity="0.7"/>
<circle cx="256.4" cy="155.4" r="0.42" opacity="0.7"/>
<circle cx="268.4" cy="157.4" r="0.42" opacity="0.7"/>
<circle cx="290.8" cy="151.5" r="0.42" opacity="0.7"/>
<circle cx="385.5" cy="153.3" r="0.42" opacity="0.7"/>
<circle cx="349.0" cy="160.3" r="0.42" opacity="0.7"/>
<circle cx="269.6" cy="147.8" r="0.42" opacity="0.7"/>
<circle cx="291.2" cy="151.3" r="0.42" opacity="0.7"/>
<circle cx="383.7" cy="156.1" r="0.42" opacity="0.7"/>
<circle cx="389.1" cy="152.7" r="0.42" opacity="0.7"/>
<circle cx="352.9" cy="152.4" r="0.42" opacity="0.7"/>
<circle cx="303.2" cy="153.5" r="0.42" opacity="0.7"/>
<circle cx="276.0" cy="154.8" r="0.42" opacity="0.7"/>
<circle cx="334.3" cy="155.0" r="0.42" opacity="0.7"/>
<circle cx="332.4" cy="155.8" r="0.42" opacity="0.7"/>
<circle cx="310.5" cy="160.5" r="0.42" opacity="0.7"/>
<circle cx="286.7" cy="154.4" r="0.42" opacity="0.7"/>
<circle cx="287.4" cy="153.6" r="0.42" opacity="0.7"/>
<circle cx="319.2" cy="156.9" r="0.42" opacity="0.7"/>
<circle cx="358.2" cy="151.4" r="0.42" opacity="0.7"/>
<circle cx="315.9" cy="150.6" r="0.42" opacity="0.7"/>
<circle cx="336.4" cy="154.4" r="0.42" opacity="0.7"/>
<circle cx="299.5" cy="154.4" r="0.42" opacity="0.7"/>
<circle cx="342.5" cy="152.5" r="0.42" opacity="0.7"/>
<circle cx="381.4" cy="156.1" r="0.42" opacity="0.7"/>
<circle cx="275.5" cy="151.2" r="0.42" opacity="0.7"/>
<circle cx="350.2" cy="158.0" r="0.42" opacity="0.7"/>
<circle cx="277.1" cy="160.5" r="0.42" opacity="0.7"/>
<circle cx="342.3" cy="156.6" r="0.42" opacity="0.7"/>
<circle cx="339.3" cy="149.0" r="0.42" opacity="0.7"/>
<circle cx="268.5" cy="153.4" r="0.42" opacity="0.7"/>
<circle cx="351.7" cy="155.2" r="0.42" opacity="0.7"/>
<circle cx="313.3" cy="162.1" r="0.42" opacity="0.7"/>
<circle cx="376.8" cy="154.4" r="0.42" opacity="0.7"/>
<circle cx="281.5" cy="158.5" r="0.42" opacity="0.7"/>
<circle cx="347.7" cy="152.6" r="0.42" opacity="0.7"/>
<circle cx="345.4" cy="155.1" r="0.42" opacity="0.7"/>
<circle cx="308.9" cy="156.2" r="0.42" opacity="0.7"/>
<circle cx="328.1" cy="154.2" r="0.42" opacity="0.7"/>
<circle cx="379.2" cy="147.7" r="0.42" opacity="0.7"/>
<circle cx="280.9" cy="153.5" r="0.42" opacity="0.7"/>
<circle cx="321.7" cy="152.1" r="0.42" opacity="0.7"/>
<circle cx="364.9" cy="158.7" r="0.42" opacity="0.7"/>
<circle cx="273.7" cy="155.9" r="0.42" opacity="0.7"/>
<circle cx="349.0" cy="156.0" r="0.42" opacity="0.7"/>
<circle cx="386.8" cy="151.6" r="0.42" opacity="0.7"/>
<circle cx="269.9" cy="149.5" r="0.42" opacity="0.7"/>
<circle cx="261.9" cy="153.1" r="0.42" opacity="0.7"/>
<circle cx="348.8" cy="151.4" r="0.42" opacity="0.7"/>
<circle cx="351.0" cy="155.9" r="0.42" opacity="0.7"/>
<circle cx="255.1" cy="152.8" r="0.42" opacity="0.7"/>
<circle cx="352.9" cy="152.6" r="0.42" opacity="0.7"/>
<circle cx="372.7" cy="152.5" r="0.42" opacity="0.7"/>
<circle cx="270.2" cy="153.4" r="0.42" opacity="0.7"/>
<circle cx="260.3" cy="153.3" r="0.42" opacity="0.7"/>
<circle cx="373.0" cy="151.4" r="0.42" opacity="0.7"/>
<circle cx="361.0" cy="158.1" r="0.42" opacity="0.7"/>
<circle cx="334.2" cy="150.0" r="0.42" opacity="0.7"/>
<circle cx="331.2" cy="149.1" r="0.42" opacity="0.7"/>
<circle cx="324.8" cy="152.3" r="0.42" opacity="0.7"/>
<circle cx="323.7" cy="155.4" r="0.42" opacity="0.7"/>
<circle cx="284.7" cy="150.8" r="0.42" opacity="0.7"/>
<circle cx="311.3" cy="155.5" r="0.42" opacity="0.7"/>
<circle cx="326.6" cy="154.0" r="0.42" opacity="0.7"/>
<circle cx="360.4" cy="149.9" r="0.42" opacity="0.7"/>
<circle cx="288.3" cy="151.3" r="0.42" opacity="0.7"/>
<circle cx="293.9" cy="153.3" r="0.42" opacity="0.7"/>
<circle cx="350.6" cy="149.8" r="0.42" opacity="0.7"/>
<circle cx="283.4" cy="153.9" r="0.42" opacity="0.7"/>
<circle cx="303.1" cy="151.1" r="0.42" opacity="0.7"/>
<circle cx="353.9" cy="156.5" r="0.42" opacity="0.7"/>
<circle cx="286.3" cy="151.6" r="0.42" opacity="0.7"/>
<circle cx="340.6" cy="150.6" r="0.42" opacity="0.7"/>
<circle cx="291.5" cy="152.7" r="0.42" opacity="0.7"/>
<circle cx="384.9" cy="154.0" r="0.42" opacity="0.7"/>
<circle cx="345.3" cy="154.1" r="0.42" opacity="0.7"/>
<circle cx="300.2" cy="151.9" r="0.42" opacity="0.7"/>
<circle cx="362.3" cy="151.3" r="0.42" opacity="0.7"/>
<circle cx="291.1" cy="153.7" r="0.42" opacity="0.7"/>
<circle cx="351.0" cy="156.2" r="0.42" opacity="0.7"/>
<circle cx="314.1" cy="150.7" r="0.42" opacity="0.7"/>
<circle cx="386.5" cy="154.5" r="0.42" opacity="0.7"/>
<circle cx="379.4" cy="155.1" r="0.42" opacity="0.7"/>
<circle cx="299.5" cy="155.4" r="0.42" opacity="0.7"/>
<circle cx="280.6" cy="152.0" r="0.42" opacity="0.7"/>
<circle cx="305.3" cy="155.5" r="0.42" opacity="0.7"/>
<circle cx="308.4" cy="153.7" r="0.42" opacity="0.7"/>
<circle cx="257.3" cy="153.3" r="0.42" opacity="0.7"/>
<circle cx="304.9" cy="153.7" r="0.42" opacity="0.7"/>
<circle cx="299.7" cy="152.4" r="0.42" opacity="0.7"/>
<circle cx="257.4" cy="152.5" r="0.42" opacity="0.7"/>
<circle cx="337.3" cy="154.9" r="0.42" opacity="0.7"/>
<circle cx="377.7" cy="157.8" r="0.42" opacity="0.7"/>
<circle cx="333.9" cy="153.2" r="0.42" opacity="0.7"/>
<circle cx="298.7" cy="154.1" r="0.42" opacity="0.7"/>
<circle cx="336.1" cy="154.6" r="0.42" opacity="0.7"/>
<circle cx="296.8" cy="154.6" r="0.42" opacity="0.7"/>
<circle cx="303.8" cy="158.5" r="0.42" opacity="0.7"/>
<circle cx="287.1" cy="158.0" r="0.42" opacity="0.7"/>
<circle cx="287.6" cy="153.0" r="0.42" opacity="0.7"/>
<circle cx="362.4" cy="153.9" r="0.42" opacity="0.7"/>
<circle cx="291.0" cy="146.8" r="0.42" opacity="0.7"/>
<circle cx="262.0" cy="154.4" r="0.42" opacity="0.7"/>
<circle cx="285.4" cy="154.3" r="0.42" opacity="0.7"/>
<circle cx="328.8" cy="149.1" r="0.42" opacity="0.7"/>
<circle cx="362.9" cy="153.3" r="0.42" opacity="0.7"/>
<circle cx="314.2" cy="163.9" r="0.42" opacity="0.7"/>
<circle cx="254.9" cy="157.5" r="0.42" opacity="0.7"/>
<circle cx="313.2" cy="157.2" r="0.42" opacity="0.7"/>
<circle cx="349.6" cy="154.9" r="0.42" opacity="0.7"/>
<circle cx="323.7" cy="153.3" r="0.42" opacity="0.7"/>
<circle cx="304.9" cy="154.7" r="0.42" opacity="0.7"/>
<circle cx="303.0" cy="158.1" r="0.42" opacity="0.7"/>
<circle cx="337.8" cy="153.3" r="0.42" opacity="0.7"/>
<circle cx="383.9" cy="154.4" r="0.42" opacity="0.7"/>
<circle cx="270.1" cy="151.5" r="0.42" opacity="0.7"/>
<circle cx="299.1" cy="153.1" r="0.42" opacity="0.7"/>
<circle cx="300.4" cy="155.6" r="0.42" opacity="0.7"/>
<circle cx="344.3" cy="152.9" r="0.42" opacity="0.7"/>
<circle cx="315.0" cy="156.4" r="0.42" opacity="0.7"/>
<circle cx="367.2" cy="151.0" r="0.42" opacity="0.7"/>
<circle cx="353.9" cy="155.9" r="0.42" opacity="0.7"/>
<circle cx="347.0" cy="159.2" r="0.42" opacity="0.7"/>
<circle cx="321.9" cy="154.0" r="0.42" opacity="0.7"/>
<circle cx="342.0" cy="154.8" r="0.42" opacity="0.7"/>
<circle cx="289.6" cy="155.6" r="0.42" opacity="0.7"/>
<circle cx="277.8" cy="155.9" r="0.42" opacity="0.7"/>
<circle cx="297.1" cy="155.3" r="0.42" opacity="0.7"/>
<circle cx="338.1" cy="155.5" r="0.42" opacity="0.7"/>
<circle cx="296.4" cy="150.4" r="0.42" opacity="0.7"/>
<circle cx="360.2" cy="152.6" r="0.42" opacity="0.7"/>
<circle cx="284.7" cy="154.9" r="0.42" opacity="0.7"/>
<circle cx="356.6" cy="150.9" r="0.42" opacity="0.7"/>
<circle cx="315.3" cy="154.8" r="0.42" opacity="0.7"/>
<circle cx="337.4" cy="151.6" r="0.42" opacity="0.7"/>
<circle cx="381.1" cy="153.3" r="0.42" opacity="0.7"/>
<circle cx="369.1" cy="151.7" r="0.42" opacity="0.7"/>
<circle cx="366.7" cy="158.3" r="0.42" opacity="0.7"/>
<circle cx="314.2" cy="156.2" r="0.42" opacity="0.7"/>
<circle cx="326.7" cy="154.9" r="0.42" opacity="0.7"/>
<circle cx="300.5" cy="163.7" r="0.42" opacity="0.7"/>
<circle cx="300.2" cy="159.8" r="0.42" opacity="0.7"/>
<circle cx="271.0" cy="154.9" r="0.42" opacity="0.7"/>
<circle cx="294.2" cy="157.9" r="0.42" opacity="0.7"/>
<circle cx="372.4" cy="151.1" r="0.42" opacity="0.7"/>
<circle cx="314.2" cy="160.5" r="0.42" opacity="0.7"/>
<circle cx="353.7" cy="151.6" r="0.42" opacity="0.7"/>
<circle cx="267.0" cy="150.5" r="0.42" opacity="0.7"/>
<circle cx="371.3" cy="152.5" r="0.42" opacity="0.7"/>
<circle cx="349.3" cy="154.1" r="0.42" opacity="0.7"/>
<circle cx="281.2" cy="151.0" r="0.42" opacity="0.7"/>
<circle cx="292.7" cy="154.3" r="0.42" opacity="0.7"/>
<circle cx="348.7" cy="152.0" r="0.42" opacity="0.7"/>
<circle cx="284.9" cy="155.6" r="0.42" opacity="0.7"/>
<circle cx="323.6" cy="152.9" r="0.42" opacity="0.7"/>
<circle cx="258.2" cy="153.4" r="0.42" opacity="0.7"/>
<circle cx="302.9" cy="148.8" r="0.42" opacity="0.7"/>
<circle cx="301.6" cy="152.2" r="0.42" opacity="0.7"/>
<circle cx="325.6" cy="151.5" r="0.42" opacity="0.7"/>
<circle cx="379.0" cy="149.5" r="0.42" opacity="0.7"/>
<circle cx="281.4" cy="153.3" r="0.42" opacity="0.7"/>
<circle cx="302.4" cy="155.0" r="0.42" opacity="0.7"/>
<circle cx="340.7" cy="154.5" r="0.42" opacity="0.7"/>
<circle cx="305.6" cy="154.0" r="0.42" opacity="0.7"/>
<circle cx="254.9" cy="155.9" r="0.42" opacity="0.7"/>
<circle cx="289.0" cy="150.5" r="0.42" opacity="0.7"/>
<circle cx="339.4" cy="152.5" r="0.42" opacity="0.7"/>
<circle cx="359.8" cy="156.1" r="0.42" opacity="0.7"/>
<circle cx="346.4" cy="150.4" r="0.42" opacity="0.7"/>
<circle cx="313.7" cy="156.1" r="0.42" opacity="0.7"/>
<circle cx="310.4" cy="156.9" r="0.42" opacity="0.7"/>
<circle cx="284.5" cy="152.5" r="0.42" opacity="0.7"/>
<circle cx="279.4" cy="154.3" r="0.42" opacity="0.7"/>
<circle cx="280.3" cy="151.1" r="0.42" opacity="0.7"/>
<circle cx="322.8" cy="152.9" r="0.42" opacity="0.7"/>
<circle cx="256.9" cy="153.7" r="0.42" opacity="0.7"/>
<circle cx="358.5" cy="154.1" r="0.42" opacity="0.7"/>
<circle cx="327.4" cy="153.9" r="0.42" opacity="0.7"/>
<circle cx="353.0" cy="151.6" r="0.42" opacity="0.7"/>
<circle cx="332.2" cy="151.7" r="0.42" opacity="0.7"/>
<circle cx="263.4" cy="155.4" r="0.42" opacity="0.7"/>
<circle cx="348.2" cy="149.9" r="0.42" opacity="0.7"/>
<circle cx="268.3" cy="152.3" r="0.42" opacity="0.7"/>
<circle cx="372.5" cy="153.5" r="0.42" opacity="0.7"/>
<circle cx="288.8" cy="155.6" r="0.42" opacity="0.7"/>
<circle cx="320.9" cy="152.8" r="0.42" opacity="0.7"/>
<circle cx="361.4" cy="154.0" r="0.42" opacity="0.7"/>
<circle cx="270.0" cy="155.6" r="0.42" opacity="0.7"/>
<circle cx="269.2" cy="153.6" r="0.42" opacity="0.7"/>
<circle cx="360.3" cy="153.7" r="0.42" opacity="0.7"/>
<circle cx="357.1" cy="154.1" r="0.42" opacity="0.7"/>
<circle cx="380.7" cy="153.2" r="0.42" opacity="0.7"/>
<circle cx="382.9" cy="154.3" r="0.42" opacity="0.7"/>
<circle cx="314.3" cy="157.3" r="0.42" opacity="0.7"/>
<circle cx="278.7" cy="151.2" r="0.42" opacity="0.7"/>
<circle cx="375.3" cy="151.9" r="0.42" opacity="0.7"/>
<circle cx="317.1" cy="152.3" r="0.42" opacity="0.7"/>
<circle cx="330.1" cy="155.4" r="0.42" opacity="0.7"/>
<circle cx="373.8" cy="154.6" r="0.42" opacity="0.7"/>
<circle cx="256.4" cy="150.5" r="0.42" opacity="0.7"/>
<circle cx="295.3" cy="150.2" r="0.42" opacity="0.7"/>
<circle cx="353.2" cy="151.4" r="0.42" opacity="0.7"/>
<circle cx="343.7" cy="147.8" r="0.42" opacity="0.7"/>
<circle cx="314.4" cy="154.8" r="0.42" opacity="0.7"/>
<circle cx="345.4" cy="154.5" r="0.42" opacity="0.7"/>
<circle cx="361.7" cy="149.5" r="0.42" opacity="0.7"/>
<circle cx="270.2" cy="152.3" r="0.42" opacity="0.7"/>
<circle cx="263.8" cy="157.1" r="0.42" opacity="0.7"/>
<circle cx="304.5" cy="154.1" r="0.42" opacity="0.7"/>
<circle cx="308.1" cy="158.2" r="0.42" opacity="0.7"/>
<circle cx="295.2" cy="155.4" r="0.42" opacity="0.7"/>
<circle cx="306.5" cy="154.3" r="0.42" opacity="0.7"/>
<circle cx="298.2" cy="159.5" r="0.42" opacity="0.7"/>
<circle cx="367.3" cy="153.6" r="0.42" opacity="0.7"/>
<circle cx="269.4" cy="149.5" r="0.42" opacity="0.7"/>
<circle cx="315.4" cy="150.9" r="0.42" opacity="0.7"/>
<circle cx="292.0" cy="154.9" r="0.42" opacity="0.7"/>
<circle cx="324.9" cy="158.0" r="0.42" opacity="0.7"/>
<circle cx="286.8" cy="151.7" r="0.42" opacity="0.7"/>
<circle cx="314.8" cy="151.6" r="0.42" opacity="0.7"/>
<circle cx="263.1" cy="151.6" r="0.42" opacity="0.7"/>
<circle cx="269.4" cy="153.4" r="0.42" opacity="0.7"/>
<circle cx="305.4" cy="153.1" r="0.42" opacity="0.7"/>
<circle cx="275.1" cy="154.4" r="0.42" opacity="0.7"/>
<circle cx="280.9" cy="154.0" r="0.42" opacity="0.7"/>
<circle cx="273.1" cy="152.0" r="0.42" opacity="0.7"/>
<circle cx="287.2" cy="154.4" r="0.42" opacity="0.7"/>
<circle cx="261.0" cy="158.0" r="0.42" opacity="0.7"/>
<circle cx="309.9" cy="159.8" r="0.42" opacity="0.7"/>
<circle cx="268.2" cy="151.2" r="0.42" opacity="0.7"/>
<circle cx="352.2" cy="150.6" r="0.42" opacity="0.7"/>
<circle cx="321.9" cy="151.8" r="0.42" opacity="0.7"/>
<circle cx="333.9" cy="154.2" r="0.42" opacity="0.7"/>
<circle cx="291.8" cy="157.1" r="0.42" opacity="0.7"/>
<circle cx="321.7" cy="155.6" r="0.42" opacity="0.7"/>
<circle cx="270.2" cy="149.8" r="0.42" opacity="0.7"/>
<circle cx="305.2" cy="153.4" r="0.42" opacity="0.7"/>
<circle cx="375.5" cy="158.3" r="0.42" opacity="0.7"/>
<circle cx="388.7" cy="152.9" r="0.42" opacity="0.7"/>
<circle cx="289.4" cy="152.3" r="0.42" opacity="0.7"/>
<circle cx="389.7" cy="152.5" r="0.42" opacity="0.7"/>
<circle cx="364.2" cy="157.5" r="0.42" opacity="0.7"/>
<circle cx="278.4" cy="155.7" r="0.42" opacity="0.7"/>
<circle cx="338.0" cy="150.0" r="0.42" opacity="0.7"/>
<circle cx="267.6" cy="154.3" r="0.42" opacity="0.7"/>
<circle cx="268.7" cy="151.4" r="0.42" opacity="0.7"/>
<circle cx="260.4" cy="150.7" r="0.42" opacity="0.7"/>
<circle cx="384.6" cy="151.5" r="0.42" opacity="0.7"/>
<circle cx="348.9" cy="154.5" r="0.42" opacity="0.7"/>
<circle cx="342.6" cy="151.0" r="0.42" opacity="0.7"/>
<circle cx="280.0" cy="152.3" r="0.42" opacity="0.7"/>
<circle cx="385.2" cy="156.1" r="0.42" opacity="0.7"/>
<circle cx="368.2" cy="153.4" r="0.42" opacity="0.7"/>
<circle cx="355.2" cy="157.5" r="0.42" opacity="0.7"/>
<circle cx="373.7" cy="151.9" r="0.42" opacity="0.7"/>
<circle cx="361.2" cy="152.7" r="0.42" opacity="0.7"/>
<circle cx="362.8" cy="155.5" r="0.42" opacity="0.7"/>
<circle cx="369.0" cy="154.1" r="0.42" opacity="0.7"/>
<circle cx="331.5" cy="154.7" r="0.42" opacity="0.7"/>
<circle cx="300.2" cy="155.6" r="0.42" opacity="0.7"/>
<circle cx="284.9" cy="156.5" r="0.42" opacity="0.7"/>
<circle cx="299.2" cy="152.9" r="0.42" opacity="0.7"/>
<circle cx="313.6" cy="159.3" r="0.42" opacity="0.7"/>
<circle cx="371.3" cy="159.3" r="0.42" opacity="0.7"/>
<circle cx="285.5" cy="153.5" r="0.42" opacity="0.7"/>
<circle cx="257.9" cy="151.8" r="0.42" opacity="0.7"/>
<circle cx="322.8" cy="150.6" r="0.42" opacity="0.7"/>
<circle cx="293.4" cy="148.7" r="0.42" opacity="0.7"/>
<circle cx="374.7" cy="158.5" r="0.42" opacity="0.7"/>
<circle cx="369.4" cy="151.3" r="0.42" opacity="0.7"/>
<circle cx="348.8" cy="149.4" r="0.42" opacity="0.7"/>
<circle cx="364.7" cy="151.7" r="0.42" opacity="0.7"/>
<circle cx="350.5" cy="153.1" r="0.42" opacity="0.7"/>
<circle cx="360.1" cy="149.3" r="0.42" opacity="0.7"/>
<circle cx="364.6" cy="150.5" r="0.42" opacity="0.7"/>
<circle cx="298.8" cy="152.8" r="0.42" opacity="0.7"/>
<circle cx="299.7" cy="154.3" r="0.42" opacity="0.7"/>
<circle cx="380.7" cy="150.7" r="0.42" opacity="0.7"/>
<circle cx="359.9" cy="148.9" r="0.42" opacity="0.7"/>
<circle cx="317.1" cy="158.8" r="0.42" opacity="0.7"/>
<circle cx="364.1" cy="155.5" r="0.42" opacity="0.7"/>
<circle cx="347.2" cy="154.4" r="0.42" opacity="0.7"/>
<circle cx="321.4" cy="154.4" r="0.42" opacity="0.7"/>
<circle cx="383.2" cy="149.7" r="0.42" opacity="0.7"/>
<circle cx="340.1" cy="154.9" r="0.42" opacity="0.7"/>
<circle cx="386.2" cy="155.7" r="0.42" opacity="0.7"/>
<circle cx="257.0" cy="154.7" r="0.42" opacity="0.7"/>
<circle cx="310.4" cy="158.7" r="0.42" opacity="0.7"/>
<circle cx="334.0" cy="150.3" r="0.42" opacity="0.7"/>
<circle cx="295.9" cy="150.9" r="0.42" opacity="0.7"/>
<circle cx="323.0" cy="155.5" r="0.42" opacity="0.7"/>
<circle cx="336.8" cy="154.1" r="0.42" opacity="0.7"/>
<circle cx="256.2" cy="157.8" r="0.42" opacity="0.7"/>
<circle cx="262.1" cy="155.3" r="0.42" opacity="0.7"/>
<circle cx="385.4" cy="150.5" r="0.42" opacity="0.7"/>
<circle cx="333.9" cy="155.8" r="0.42" opacity="0.7"/>
<circle cx="290.0" cy="153.7" r="0.42" opacity="0.7"/>
<circle cx="263.5" cy="151.6" r="0.42" opacity="0.7"/>
<circle cx="353.6" cy="155.4" r="0.42" opacity="0.7"/>
<circle cx="335.6" cy="149.7" r="0.42" opacity="0.7"/>
<circle cx="388.2" cy="150.8" r="0.42" opacity="0.7"/>
<circle cx="260.8" cy="152.6" r="0.42" opacity="0.7"/>
<circle cx="379.2" cy="151.9" r="0.42" opacity="0.7"/>
<circle cx="375.8" cy="151.5" r="0.42" opacity="0.7"/>
<circle cx="294.7" cy="152.5" r="0.42" opacity="0.7"/>
<circle cx="338.1" cy="148.4" r="0.42" opacity="0.7"/>
<circle cx="331.3" cy="152.1" r="0.42" opacity="0.7"/>
<circle cx="331.2" cy="156.0" r="0.42" opacity="0.7"/>
<circle cx="329.4" cy="154.0" r="0.42" opacity="0.7"/>
<circle cx="385.8" cy="150.3" r="0.42" opacity="0.7"/>
<circle cx="326.8" cy="153.9" r="0.42" opacity="0.7"/>
<circle cx="382.8" cy="149.1" r="0.42" opacity="0.7"/>
<circle cx="262.7" cy="157.8" r="0.42" opacity="0.7"/>
<circle cx="258.8" cy="154.0" r="0.42" opacity="0.7"/>
<circle cx="306.2" cy="151.9" r="0.42" opacity="0.7"/>
<circle cx="350.0" cy="151.9" r="0.42" opacity="0.7"/>
<circle cx="334.0" cy="152.2" r="0.42" opacity="0.7"/>
<circle cx="360.1" cy="153.5" r="0.42" opacity="0.7"/>
<circle cx="306.8" cy="156.3" r="0.42" opacity="0.7"/>
<circle cx="363.4" cy="149.8" r="0.42" opacity="0.7"/>
<circle cx="381.3" cy="150.4" r="0.42" opacity="0.7"/>
<circle cx="291.3" cy="154.8" r="0.42" opacity="0.7"/>
<circle cx="368.4" cy="153.0" r="0.42" opacity="0.7"/>
<circle cx="328.8" cy="155.4" r="0.42" opacity="0.7"/>
<circle cx="275.7" cy="154.3" r="0.42" opacity="0.7"/>
<circle cx="295.7" cy="152.5" r="0.42" opacity="0.7"/>
<circle cx="363.1" cy="152.9" r="0.42" opacity="0.7"/>
<circle cx="274.0" cy="154.2" r="0.42" opacity="0.7"/>
<circle cx="381.8" cy="152.0" r="0.42" opacity="0.7"/>
<circle cx="285.6" cy="159.8" r="0.42" opacity="0.7"/>
<circle cx="267.8" cy="150.3" r="0.42" opacity="0.7"/>
<circle cx="359.3" cy="156.8" r="0.42" opacity="0.7"/>
<circle cx="299.0" cy="147.7" r="0.42" opacity="0.7"/>
<circle cx="379.3" cy="152.1" r="0.42" opacity="0.7"/>
<circle cx="369.5" cy="150.3" r="0.42" opacity="0.7"/>
<circle cx="291.9" cy="152.3" r="0.42" opacity="0.7"/>
<circle cx="371.0" cy="153.2" r="0.42" opacity="0.7"/>
<circle cx="287.4" cy="153.0" r="0.42" opacity="0.7"/>
<circle cx="360.0" cy="152.5" r="0.42" opacity="0.7"/>
<circle cx="296.1" cy="151.8" r="0.42" opacity="0.7"/>
<circle cx="317.8" cy="160.7" r="0.42" opacity="0.7"/>
<circle cx="269.0" cy="154.5" r="0.42" opacity="0.7"/>
<circle cx="264.5" cy="152.6" r="0.42" opacity="0.7"/>
<circle cx="267.0" cy="155.0" r="0.42" opacity="0.7"/>
<circle cx="344.5" cy="154.4" r="0.42" opacity="0.7"/>
<circle cx="310.0" cy="153.6" r="0.42" opacity="0.7"/>
<circle cx="361.4" cy="154.9" r="0.42" opacity="0.7"/>
<circle cx="360.8" cy="153.1" r="0.42" opacity="0.7"/>
<circle cx="306.7" cy="152.4" r="0.42" opacity="0.7"/>
<circle cx="292.8" cy="154.0" r="0.42" opacity="0.7"/>
<circle cx="292.8" cy="155.5" r="0.42" opacity="0.7"/>
<circle cx="341.1" cy="149.7" r="0.42" opacity="0.7"/>
<circle cx="381.8" cy="157.1" r="0.42" opacity="0.7"/>
<circle cx="331.3" cy="153.4" r="0.42" opacity="0.7"/>
<circle cx="268.6" cy="155.3" r="0.42" opacity="0.7"/>
<circle cx="358.6" cy="147.1" r="0.42" opacity="0.7"/>
<circle cx="319.8" cy="159.4" r="0.42" opacity="0.7"/>
<circle cx="375.4" cy="155.8" r="0.42" opacity="0.7"/>
<circle cx="354.9" cy="155.8" r="0.42" opacity="0.7"/>
<circle cx="344.0" cy="151.6" r="0.42" opacity="0.7"/>
<circle cx="315.0" cy="155.4" r="0.42" opacity="0.7"/>
<circle cx="377.3" cy="147.6" r="0.42" opacity="0.7"/>
<circle cx="273.4" cy="154.3" r="0.42" opacity="0.7"/>
<circle cx="341.3" cy="147.5" r="0.42" opacity="0.7"/>
<circle cx="258.0" cy="157.2" r="0.42" opacity="0.7"/>
<circle cx="365.6" cy="154.3" r="0.42" opacity="0.7"/>
<circle cx="356.5" cy="152.1" r="0.42" opacity="0.7"/>
<circle cx="362.9" cy="158.9" r="0.42" opacity="0.7"/>
<circle cx="284.6" cy="156.9" r="0.42" opacity="0.7"/>
<circle cx="310.7" cy="159.6" r="0.42" opacity="0.7"/>
<circle cx="304.1" cy="152.4" r="0.42" opacity="0.7"/>
<circle cx="263.9" cy="151.3" r="0.42" opacity="0.7"/>
<circle cx="387.6" cy="152.2" r="0.42" opacity="0.7"/>
<circle cx="302.1" cy="156.1" r="0.42" opacity="0.7"/>
<circle cx="334.6" cy="158.3" r="0.42" opacity="0.7"/>
<circle cx="312.3" cy="152.3" r="0.42" opacity="0.7"/>
<circle cx="387.2" cy="153.6" r="0.42" opacity="0.7"/>
<circle cx="282.6" cy="156.0" r="0.42" opacity="0.7"/>
<circle cx="360.5" cy="155.3" r="0.42" opacity="0.7"/>
<circle cx="286.6" cy="150.8" r="0.42" opacity="0.7"/>
<circle cx="326.8" cy="155.7" r="0.42" opacity="0.7"/>
<circle cx="263.6" cy="152.7" r="0.42" opacity="0.7"/>
<circle cx="379.0" cy="151.4" r="0.42" opacity="0.7"/>
<circle cx="295.5" cy="146.6" r="0.42" opacity="0.7"/>
<circle cx="285.0" cy="151.1" r="0.42" opacity="0.7"/>
<circle cx="354.4" cy="153.0" r="0.42" opacity="0.7"/>
<circle cx="286.1" cy="156.0" r="0.42" opacity="0.7"/>
<circle cx="279.2" cy="150.0" r="0.42" opacity="0.7"/>
<circle cx="301.7" cy="154.6" r="0.42" opacity="0.7"/>
<circle cx="335.3" cy="151.2" r="0.42" opacity="0.7"/>
<circle cx="280.4" cy="155.3" r="0.42" opacity="0.7"/>
<circle cx="345.6" cy="152.8" r="0.42" opacity="0.7"/>
<circle cx="299.9" cy="152.7" r="0.42" opacity="0.7"/>
<circle cx="368.8" cy="144.0" r="0.42" opacity="0.7"/>
<circle cx="360.6" cy="155.1" r="0.42" opacity="0.7"/>
<circle cx="295.4" cy="153.0" r="0.42" opacity="0.7"/>
<circle cx="352.5" cy="151.6" r="0.42" opacity="0.7"/>
<circle cx="357.6" cy="156.2" r="0.42" opacity="0.7"/>
<circle cx="305.9" cy="147.4" r="0.42" opacity="0.7"/>
<circle cx="255.9" cy="156.3" r="0.42" opacity="0.7"/>
<circle cx="307.2" cy="154.0" r="0.42" opacity="0.7"/>
<circle cx="297.3" cy="154.1" r="0.42" opacity="0.7"/>
<circle cx="356.9" cy="150.7" r="0.42" opacity="0.7"/>
<circle cx="259.6" cy="154.0" r="0.42" opacity="0.7"/>
<circle cx="254.7" cy="156.0" r="0.42" opacity="0.7"/>
<circle cx="344.7" cy="151.9" r="0.42" opacity="0.7"/>
<circle cx="353.8" cy="151.6" r="0.42" opacity="0.7"/>
<circle cx="282.5" cy="150.5" r="0.42" opacity="0.7"/>
<circle cx="281.4" cy="151.4" r="0.42" opacity="0.7"/>
<circle cx="301.0" cy="148.8" r="0.42" opacity="0.7"/>
<circle cx="332.8" cy="156.5" r="0.42" opacity="0.7"/>
<circle cx="353.7" cy="153.5" r="0.42" opacity="0.7"/>
<circle cx="267.7" cy="152.2" r="0.42" opacity="0.7"/>
<circle cx="324.3" cy="157.6" r="0.42" opacity="0.7"/>
<circle cx="293.0" cy="149.9" r="0.42" opacity="0.7"/>
<circle cx="348.8" cy="153.3" r="0.42" opacity="0.7"/>
<circle cx="384.1" cy="165.7" r="0.42" opacity="0.7"/>
<circle cx="299.3" cy="154.3" r="0.42" opacity="0.7"/>
<circle cx="376.2" cy="158.5" r="0.42" opacity="0.7"/>
<circle cx="367.8" cy="158.4" r="0.42" opacity="0.7"/>
<circle cx="291.5" cy="153.9" r="0.42" opacity="0.7"/>
<circle cx="270.4" cy="154.6" r="0.42" opacity="0.7"/>
<circle cx="288.5" cy="154.5" r="0.42" opacity="0.7"/>
<circle cx="315.0" cy="156.3" r="0.42" opacity="0.7"/>
<circle cx="301.1" cy="149.9" r="0.42" opacity="0.7"/>
<circle cx="361.7" cy="151.5" r="0.42" opacity="0.7"/>
<circle cx="272.8" cy="153.8" r="0.42" opacity="0.7"/>
<circle cx="337.0" cy="162.8" r="0.42" opacity="0.7"/>
<circle cx="259.1" cy="151.3" r="0.42" opacity="0.7"/>
<circle cx="286.9" cy="154.6" r="0.42" opacity="0.7"/>
<circle cx="322.1" cy="151.7" r="0.42" opacity="0.7"/>
<circle cx="280.6" cy="147.7" r="0.42" opacity="0.7"/>
<circle cx="280.0" cy="156.5" r="0.42" opacity="0.7"/>
<circle cx="260.2" cy="154.5" r="0.42" opacity="0.7"/>
<circle cx="326.1" cy="154.4" r="0.42" opacity="0.7"/>
<circle cx="362.2" cy="146.4" r="0.42" opacity="0.7"/>
<circle cx="271.7" cy="150.3" r="0.42" opacity="0.7"/>
<circle cx="358.2" cy="155.4" r="0.42" opacity="0.7"/>
<circle cx="308.5" cy="154.5" r="0.42" opacity="0.7"/>
<circle cx="385.4" cy="154.4" r="0.42" opacity="0.7"/>
<circle cx="382.0" cy="156.2" r="0.42" opacity="0.7"/>
<circle cx="369.5" cy="153.5" r="0.42" opacity="0.7"/>
<circle cx="268.1" cy="150.4" r="0.42" opacity="0.7"/>
<circle cx="268.5" cy="153.2" r="0.42" opacity="0.7"/>
<circle cx="347.3" cy="151.5" r="0.42" opacity="0.7"/>
<circle cx="356.3" cy="158.0" r="0.42" opacity="0.7"/>
<circle cx="363.4" cy="152.6" r="0.42" opacity="0.7"/>
<circle cx="364.6" cy="153.0" r="0.42" opacity="0.7"/>
<circle cx="370.9" cy="153.4" r="0.42" opacity="0.7"/>
<circle cx="312.2" cy="156.8" r="0.42" opacity="0.7"/>
<circle cx="349.9" cy="153.2" r="0.42" opacity="0.7"/>
<circle cx="336.6" cy="158.3" r="0.42" opacity="0.7"/>
<circle cx="335.2" cy="152.4" r="0.42" opacity="0.7"/>
<circle cx="291.9" cy="157.0" r="0.42" opacity="0.7"/>
<circle cx="260.2" cy="152.7" r="0.42" opacity="0.7"/>
<circle cx="389.3" cy="153.8" r="0.42" opacity="0.7"/>
<circle cx="376.2" cy="154.8" r="0.42" opacity="0.7"/>
<circle cx="333.5" cy="148.7" r="0.42" opacity="0.7"/>
<circle cx="255.0" cy="156.4" r="0.42" opacity="0.7"/>
<circle cx="262.3" cy="158.0" r="0.42" opacity="0.7"/>
<circle cx="368.5" cy="157.0" r="0.42" opacity="0.7"/>
<circle cx="260.3" cy="150.8" r="0.42" opacity="0.7"/>
<circle cx="274.3" cy="153.6" r="0.42" opacity="0.7"/>
<circle cx="363.2" cy="155.2" r="0.42" opacity="0.7"/>
<circle cx="290.6" cy="151.8" r="0.42" opacity="0.7"/>
<circle cx="316.9" cy="158.4" r="0.42" opacity="0.7"/>
<circle cx="324.0" cy="151.7" r="0.42" opacity="0.7"/>
<circle cx="283.7" cy="151.4" r="0.42" opacity="0.7"/>
<circle cx="271.4" cy="155.3" r="0.42" opacity="0.7"/>
<circle cx="259.3" cy="148.8" r="0.42" opacity="0.7"/>
<circle cx="349.0" cy="154.0" r="0.42" opacity="0.7"/>
<circle cx="357.3" cy="153.3" r="0.42" opacity="0.7"/>
<circle cx="329.7" cy="152.0" r="0.42" opacity="0.7"/>
<circle cx="359.6" cy="151.1" r="0.42" opacity="0.7"/>
<circle cx="363.5" cy="157.1" r="0.42" opacity="0.7"/>
<circle cx="270.6" cy="156.4" r="0.42" opacity="0.7"/>
<circle cx="355.5" cy="155.8" r="0.42" opacity="0.7"/>
<circle cx="360.1" cy="148.7" r="0.42" opacity="0.7"/>
<circle cx="342.4" cy="151.5" r="0.42" opacity="0.7"/>
<circle cx="334.3" cy="153.6" r="0.42" opacity="0.7"/>
<circle cx="272.1" cy="150.5" r="0.42" opacity="0.7"/>
<circle cx="311.6" cy="153.7" r="0.42" opacity="0.7"/>
<circle cx="312.4" cy="157.9" r="0.42" opacity="0.7"/>
<circle cx="266.8" cy="152.6" r="0.42" opacity="0.7"/>
<circle cx="315.4" cy="152.6" r="0.42" opacity="0.7"/>
<circle cx="287.0" cy="161.8" r="0.42" opacity="0.7"/>
<circle cx="293.3" cy="149.6" r="0.42" opacity="0.7"/>
<circle cx="298.4" cy="160.9" r="0.42" opacity="0.7"/>
<circle cx="287.2" cy="150.8" r="0.42" opacity="0.7"/>
<circle cx="349.1" cy="151.3" r="0.42" opacity="0.7"/>
<circle cx="286.2" cy="153.9" r="0.42" opacity="0.7"/>
<circle cx="371.5" cy="155.8" r="0.42" opacity="0.7"/>
<circle cx="388.0" cy="155.5" r="0.42" opacity="0.7"/>
<circle cx="262.8" cy="157.3" r="0.42" opacity="0.7"/>
<circle cx="344.7" cy="155.2" r="0.42" opacity="0.7"/>
<circle cx="375.3" cy="152.7" r="0.42" opacity="0.7"/>
<circle cx="334.3" cy="152.8" r="0.42" opacity="0.7"/>
<circle cx="288.4" cy="153.4" r="0.42" opacity="0.7"/>
<circle cx="285.6" cy="152.3" r="0.42" opacity="0.7"/>
<circle cx="332.2" cy="149.6" r="0.42" opacity="0.7"/>
<circle cx="279.2" cy="155.1" r="0.42" opacity="0.7"/>
<circle cx="299.4" cy="155.5" r="0.42" opacity="0.7"/>
<circle cx="336.7" cy="152.9" r="0.42" opacity="0.7"/>
<circle cx="310.2" cy="155.2" r="0.42" opacity="0.7"/>
<circle cx="271.4" cy="154.0" r="0.42" opacity="0.7"/>
<circle cx="277.8" cy="149.9" r="0.42" opacity="0.7"/>
<circle cx="324.4" cy="150.2" r="0.42" opacity="0.7"/>
<circle cx="333.9" cy="153.8" r="0.42" opacity="0.7"/>
<circle cx="290.1" cy="152.2" r="0.42" opacity="0.7"/>
<circle cx="377.6" cy="153.9" r="0.42" opacity="0.7"/>
<circle cx="283.5" cy="154.6" r="0.42" opacity="0.7"/>
<circle cx="308.1" cy="152.6" r="0.42" opacity="0.7"/>
<circle cx="359.4" cy="153.9" r="0.42" opacity="0.7"/>
<circle cx="312.2" cy="159.2" r="0.42" opacity="0.7"/>
<circle cx="346.9" cy="153.1" r="0.42" opacity="0.7"/>
<circle cx="291.4" cy="155.1" r="0.42" opacity="0.7"/>
<circle cx="349.2" cy="152.1" r="0.42" opacity="0.7"/>
<circle cx="325.9" cy="154.4" r="0.42" opacity="0.7"/>
<circle cx="346.9" cy="155.4" r="0.42" opacity="0.7"/>
<circle cx="254.9" cy="152.7" r="0.42" opacity="0.7"/>
<circle cx="289.8" cy="153.9" r="0.42" opacity="0.7"/>
<circle cx="366.0" cy="152.7" r="0.42" opacity="0.7"/>
<circle cx="294.0" cy="155.0" r="0.42" opacity="0.7"/>
<circle cx="301.5" cy="154.4" r="0.42" opacity="0.7"/>
<circle cx="374.4" cy="150.0" r="0.42" opacity="0.7"/>
<circle cx="270.0" cy="155.5" r="0.42" opacity="0.7"/>
<circle cx="326.1" cy="155.0" r="0.42" opacity="0.7"/>
<circle cx="333.9" cy="153.8" r="0.42" opacity="0.7"/>
<circle cx="356.6" cy="160.0" r="0.42" opacity="0.7"/>
<circle cx="260.8" cy="153.3" r="0.42" opacity="0.7"/>
<circle cx="270.5" cy="158.0" r="0.42" opacity="0.7"/>
<circle cx="302.9" cy="153.2" r="0.42" opacity="0.7"/>
<circle cx="281.5" cy="154.5" r="0.42" opacity="0.7"/>
<circle cx="387.1" cy="152.7" r="0.42" opacity="0.7"/>
<circle cx="291.5" cy="149.8" r="0.42" opacity="0.7"/>
<circle cx="387.9" cy="150.0" r="0.42" opacity="0.7"/>
<circle cx="279.9" cy="152.1" r="0.42" opacity="0.7"/>
<circle cx="380.6" cy="155.2" r="0.42" opacity="0.7"/>
<circle cx="343.6" cy="156.3" r="0.42" opacity="0.7"/>
<circle cx="278.9" cy="154.6" r="0.42" opacity="0.7"/>
<circle cx="287.3" cy="154.4" r="0.42" opacity="0.7"/>
<circle cx="319.1" cy="158.3" r="0.42" opacity="0.7"/>
<circle cx="260.3" cy="151.9" r="0.42" opacity="0.7"/>
<circle cx="257.1" cy="155.4" r="0.42" opacity="0.7"/>
<circle cx="360.5" cy="155.9" r="0.42" opacity="0.7"/>
<circle cx="294.5" cy="153.1" r="0.42" opacity="0.7"/>
<circle cx="347.5" cy="152.5" r="0.42" opacity="0.7"/>
<circle cx="343.8" cy="154.4" r="0.42" opacity="0.7"/>
<circle cx="306.7" cy="154.5" r="0.42" opacity="0.7"/>
<circle cx="329.4" cy="153.8" r="0.42" opacity="0.7"/>
<circle cx="299.3" cy="152.6" r="0.42" opacity="0.7"/>
<circle cx="371.6" cy="153.8" r="0.42" opacity="0.7"/>
<circle cx="361.2" cy="150.7" r="0.42" opacity="0.7"/>
<circle cx="270.5" cy="157.3" r="0.42" opacity="0.7"/>
<circle cx="298.2" cy="156.2" r="0.42" opacity="0.7"/>
<circle cx="327.5" cy="152.4" r="0.42" opacity="0.7"/>
<circle cx="362.4" cy="149.6" r="0.42" opacity="0.7"/>
<circle cx="297.6" cy="153.8" r="0.42" opacity="0.7"/>
<circle cx="304.9" cy="150.0" r="0.42" opacity="0.7"/>
<circle cx="275.4" cy="149.4" r="0.42" opacity="0.7"/>
<circle cx="300.6" cy="154.5" r="0.42" opacity="0.7"/>
<circle cx="324.1" cy="155.1" r="0.42" opacity="0.7"/>
<circle cx="348.5" cy="152.1" r="0.42" opacity="0.7"/>
<circle cx="371.2" cy="151.4" r="0.42" opacity="0.7"/>
<circle cx="291.7" cy="152.8" r="0.42" opacity="0.7"/>
<circle cx="363.0" cy="154.8" r="0.42" opacity="0.7"/>
<circle cx="385.2" cy="155.2" r="0.42" opacity="0.7"/>
<circle cx="364.3" cy="150.8" r="0.42" opacity="0.7"/>
<circle cx="310.1" cy="153.5" r="0.42" opacity="0.7"/>
<circle cx="379.1" cy="155.7" r="0.42" opacity="0.7"/>
<circle cx="341.4" cy="156.1" r="0.42" opacity="0.7"/>
<circle cx="348.4" cy="153.8" r="0.42" opacity="0.7"/>
<circle cx="286.7" cy="153.6" r="0.42" opacity="0.7"/>
<circle cx="275.3" cy="153.7" r="0.42" opacity="0.7"/>
<circle cx="326.0" cy="152.2" r="0.42" opacity="0.7"/>
<circle cx="355.8" cy="151.7" r="0.42" opacity="0.7"/>
<circle cx="384.7" cy="153.7" r="0.42" opacity="0.7"/>
<circle cx="346.7" cy="153.2" r="0.42" opacity="0.7"/>
<circle cx="362.7" cy="150.9" r="0.42" opacity="0.7"/>
<circle cx="374.0" cy="150.7" r="0.42" opacity="0.7"/>
<circle cx="363.6" cy="154.4" r="0.42" opacity="0.7"/>
<circle cx="384.6" cy="159.8" r="0.42" opacity="0.7"/>
<circle cx="320.9" cy="152.7" r="0.42" opacity="0.7"/>
<circle cx="300.3" cy="154.5" r="0.42" opacity="0.7"/>
<circle cx="389.2" cy="151.5" r="0.42" opacity="0.7"/>
<circle cx="260.7" cy="156.2" r="0.42" opacity="0.7"/>
<circle cx="298.2" cy="154.9" r="0.42" opacity="0.7"/>
<circle cx="377.7" cy="151.2" r="0.42" opacity="0.7"/>
<circle cx="296.4" cy="152.6" r="0.42" opacity="0.7"/>
<circle cx="301.6" cy="157.1" r="0.42" opacity="0.7"/>
<circle cx="366.4" cy="151.3" r="0.42" opacity="0.7"/>
<circle cx="271.3" cy="155.2" r="0.42" opacity="0.7"/>
<circle cx="388.1" cy="155.2" r="0.42" opacity="0.7"/>
<circle cx="384.4" cy="153.6" r="0.42" opacity="0.7"/>
<circle cx="291.7" cy="154.6" r="0.42" opacity="0.7"/>
<circle cx="326.1" cy="152.1" r="0.42" opacity="0.7"/>
<circle cx="335.5" cy="150.9" r="0.42" opacity="0.7"/>
<circle cx="354.1" cy="152.9" r="0.42" opacity="0.7"/>
<circle cx="317.4" cy="150.1" r="0.42" opacity="0.7"/>
<circle cx="317.7" cy="159.5" r="0.42" opacity="0.7"/>
<circle cx="370.2" cy="149.9" r="0.42" opacity="0.7"/>
<circle cx="291.3" cy="154.6" r="0.42" opacity="0.7"/>
<circle cx="255.4" cy="153.4" r="0.42" opacity="0.7"/>
<circle cx="301.9" cy="156.9" r="0.42" opacity="0.7"/>
<circle cx="300.4" cy="156.4" r="0.42" opacity="0.7"/>
<circle cx="299.2" cy="156.2" r="0.42" opacity="0.7"/>
<circle cx="334.4" cy="158.8" r="0.42" opacity="0.7"/>
<circle cx="263.1" cy="152.8" r="0.42" opacity="0.7"/>
<circle cx="381.4" cy="146.9" r="0.42" opacity="0.7"/>
<circle cx="305.1" cy="147.9" r="0.42" opacity="0.7"/>
<circle cx="288.9" cy="150.8" r="0.42" opacity="0.7"/>
<circle cx="382.7" cy="151.5" r="0.42" opacity="0.7"/>
<circle cx="332.8" cy="152.7" r="0.42" opacity="0.7"/>
<circle cx="382.8" cy="153.3" r="0.42" opacity="0.7"/>
<circle cx="257.1" cy="157.8" r="0.42" opacity="0.7"/>
<circle cx="382.4" cy="151.5" r="0.42" opacity="0.7"/>
<circle cx="286.6" cy="155.7" r="0.42" opacity="0.7"/>
<circle cx="342.9" cy="155.2" r="0.42" opacity="0.7"/>
<circle cx="348.9" cy="153.1" r="0.42" opacity="0.7"/>
<circle cx="274.0" cy="162.5" r="0.42" opacity="0.7"/>
<circle cx="316.7" cy="155.5" r="0.42" opacity="0.7"/>
<circle cx="380.0" cy="153.1" r="0.42" opacity="0.7"/>
<circle cx="387.5" cy="156.2" r="0.42" opacity="0.7"/>
<circle cx="345.3" cy="151.0" r="0.42" opacity="0.7"/>
<circle cx="369.5" cy="155.1" r="0.42" opacity="0.7"/>
<circle cx="370.9" cy="147.1" r="0.42" opacity="0.7"/>
<circle cx="274.4" cy="152.8" r="0.42" opacity="0.7"/>
<circle cx="310.3" cy="156.9" r="0.42" opacity="0.7"/>
<circle cx="351.2" cy="153.5" r="0.42" opacity="0.7"/>
<circle cx="289.2" cy="156.6" r="0.42" opacity="0.7"/>
<circle cx="278.2" cy="145.6" r="0.42" opacity="0.7"/>
<circle cx="356.7" cy="153.2" r="0.42" opacity="0.7"/>
<circle cx="334.2" cy="153.8" r="0.42" opacity="0.7"/>
<circle cx="282.9" cy="152.7" r="0.42" opacity="0.7"/>
<circle cx="284.8" cy="152.5" r="0.42" opacity="0.7"/>
<circle cx="388.1" cy="152.4" r="0.42" opacity="0.7"/>
<circle cx="276.6" cy="155.9" r="0.42" opacity="0.7"/>
<circle cx="349.4" cy="153.9" r="0.42" opacity="0.7"/>
<circle cx="268.3" cy="152.1" r="0.42" opacity="0.7"/>
<circle cx="315.9" cy="155.5" r="0.42" opacity="0.7"/>
<circle cx="304.7" cy="150.1" r="0.42" opacity="0.7"/>
<circle cx="337.4" cy="150.9" r="0.42" opacity="0.7"/>
<circle cx="347.4" cy="153.9" r="0.42" opacity="0.7"/>
<circle cx="317.4" cy="159.4" r="0.42" opacity="0.7"/>
<circle cx="299.1" cy="153.4" r="0.42" opacity="0.7"/>
<circle cx="340.0" cy="153.5" r="0.42" opacity="0.7"/>
<circle cx="389.9" cy="157.0" r="0.42" opacity="0.7"/>
<circle cx="381.7" cy="150.8" r="0.42" opacity="0.7"/>
<circle cx="282.1" cy="149.7" r="0.42" opacity="0.7"/>
<circle cx="387.8" cy="151.5" r="0.42" opacity="0.7"/>
<circle cx="355.5" cy="156.0" r="0.42" opacity="0.7"/>
<circle cx="380.5" cy="154.4" r="0.42" opacity="0.7"/>
<circle cx="259.6" cy="153.5" r="0.42" opacity="0.7"/>
<circle cx="258.3" cy="152.5" r="0.42" opacity="0.7"/>
<circle cx="370.5" cy="152.4" r="0.42" opacity="0.7"/>
<circle cx="384.6" cy="151.4" r="0.42" opacity="0.7"/>
<circle cx="290.2" cy="151.5" r="0.42" opacity="0.7"/>
<circle cx="255.1" cy="151.5" r="0.42" opacity="0.7"/>
<circle cx="322.4" cy="162.8" r="0.42" opacity="0.7"/>
<circle cx="295.1" cy="153.9" r="0.42" opacity="0.7"/>
<circle cx="360.1" cy="152.5" r="0.42" opacity="0.7"/>
<circle cx="325.6" cy="147.0" r="0.42" opacity="0.7"/>
<circle cx="379.0" cy="156.1" r="0.42" opacity="0.7"/>
<circle cx="354.2" cy="153.9" r="0.42" opacity="0.7"/>
<circle cx="367.1" cy="154.0" r="0.42" opacity="0.7"/>
<circle cx="340.0" cy="152.9" r="0.42" opacity="0.7"/>
<circle cx="326.6" cy="164.7" r="0.42" opacity="0.7"/>
<circle cx="300.7" cy="159.3" r="0.42" opacity="0.7"/>
<circle cx="376.9" cy="156.1" r="0.42" opacity="0.7"/>
<circle cx="255.2" cy="156.3" r="0.42" opacity="0.7"/>
<circle cx="364.2" cy="155.9" r="0.42" opacity="0.7"/>
<circle cx="361.8" cy="154.5" r="0.42" opacity="0.7"/>
<circle cx="368.7" cy="153.6" r="0.42" opacity="0.7"/>
<circle cx="324.5" cy="154.2" r="0.42" opacity="0.7"/>
<circle cx="298.6" cy="151.5" r="0.42" opacity="0.7"/>
<circle cx="387.7" cy="154.0" r="0.42" opacity="0.7"/>
<circle cx="333.3" cy="149.4" r="0.42" opacity="0.7"/>
<circle cx="359.5" cy="154.4" r="0.42" opacity="0.7"/>
<circle cx="356.2" cy="153.3" r="0.42" opacity="0.7"/>
<circle cx="298.6" cy="154.3" r="0.42" opacity="0.7"/>
<circle cx="389.7" cy="153.4" r="0.42" opacity="0.7"/>
<circle cx="349.6" cy="153.7" r="0.42" opacity="0.7"/>
<circle cx="310.6" cy="152.9" r="0.42" opacity="0.7"/>
<circle cx="374.8" cy="155.7" r="0.42" opacity="0.7"/>
<circle cx="332.2" cy="150.4" r="0.42" opacity="0.7"/>
<circle cx="331.4" cy="157.0" r="0.42" opacity="0.7"/>
<circle cx="271.3" cy="156.0" r="0.42" opacity="0.7"/>
<circle cx="351.7" cy="152.3" r="0.42" opacity="0.7"/>
<circle cx="352.4" cy="152.5" r="0.42" opacity="0.7"/>
<circle cx="338.4" cy="151.4" r="0.42" opacity="0.7"/>
<circle cx="291.0" cy="152.6" r="0.42" opacity="0.7"/>
<circle cx="371.7" cy="154.8" r="0.42" opacity="0.7"/>
<circle cx="290.4" cy="152.9" r="0.42" opacity="0.7"/>
<circle cx="262.6" cy="150.9" r="0.42" opacity="0.7"/>
<circle cx="377.8" cy="152.8" r="0.42" opacity="0.7"/>
<circle cx="340.9" cy="154.0" r="0.42" opacity="0.7"/>
<circle cx="254.7" cy="151.4" r="0.42" opacity="0.7"/>
<circle cx="361.9" cy="154.7" r="0.42" opacity="0.7"/>
<circle cx="343.7" cy="154.6" r="0.42" opacity="0.7"/>
<circle cx="257.3" cy="155.3" r="0.42" opacity="0.7"/>
<circle cx="306.3" cy="153.6" r="0.42" opacity="0.7"/>
<circle cx="254.9" cy="153.6" r="0.42" opacity="0.7"/>
<circle cx="310.7" cy="158.3" r="0.42" opacity="0.7"/>
<circle cx="257.2" cy="153.3" r="0.42" opacity="0.7"/>
<circle cx="255.0" cy="150.8" r="0.42" opacity="0.7"/>
<circle cx="376.5" cy="154.7" r="0.42" opacity="0.7"/>
<circle cx="375.3" cy="157.6" r="0.42" opacity="0.7"/>
<circle cx="322.4" cy="155.0" r="0.42" opacity="0.7"/>
<circle cx="338.3" cy="154.9" r="0.42" opacity="0.7"/>
<circle cx="339.7" cy="152.9" r="0.42" opacity="0.7"/>
<circle cx="256.8" cy="154.1" r="0.42" opacity="0.7"/>
<circle cx="371.7" cy="157.0" r="0.42" opacity="0.7"/>
<circle cx="277.9" cy="155.3" r="0.42" opacity="0.7"/>
<circle cx="281.7" cy="155.3" r="0.42" opacity="0.7"/>
<circle cx="306.2" cy="149.6" r="0.42" opacity="0.7"/>
<circle cx="289.8" cy="152.7" r="0.42" opacity="0.7"/>
<circle cx="306.3" cy="152.0" r="0.42" opacity="0.7"/>
<circle cx="362.5" cy="154.7" r="0.42" opacity="0.7"/>
<circle cx="341.3" cy="154.9" r="0.42" opacity="0.7"/>
<circle cx="325.6" cy="153.5" r="0.42" opacity="0.7"/>
<circle cx="327.0" cy="151.9" r="0.42" opacity="0.7"/>
<circle cx="287.3" cy="155.4" r="0.42" opacity="0.7"/>
<circle cx="374.6" cy="154.5" r="0.42" opacity="0.7"/>
</g>
<line x1="254.30" y1="143.50" x2="255.60" y2="143.50" stroke="#888" stroke-width="0.4"/>
<line x1="254.30" y1="148.50" x2="255.60" y2="148.50" stroke="#888" stroke-width="0.4"/>
<line x1="254.30" y1="153.50" x2="255.60" y2="153.50" stroke="#888" stroke-width="0.4"/>
<line x1="254.30" y1="158.50" x2="255.60" y2="158.50" stroke="#888" stroke-width="0.4"/>
<line x1="254.30" y1="163.50" x2="255.60" y2="163.50" stroke="#888" stroke-width="0.4"/>
<text x="254.50" y="140.98" font-size="1.8" textLength="12.40" lengthAdjust="spacingAndGlyphs" fill="#666" stroke="#666" stroke-width="0.05">Normal Sample</text>
<line x1="259.50" y1="168.70" x2="263.90" y2="168.70" stroke="#2a2a3a" stroke-width="0.9"/>
<line x1="272.90" y1="168.70" x2="277.30" y2="168.70" stroke="#2a2a3a" stroke-width="0.9"/>
<line x1="286.30" y1="168.70" x2="290.70" y2="168.70" stroke="#2a2a3a" stroke-width="0.9"/>
<line x1="299.70" y1="168.70" x2="304.10" y2="168.70" stroke="#2a2a3a" stroke-width="0.9"/>
<line x1="313.10" y1="168.70" x2="317.50" y2="168.70" stroke="#2a2a3a" stroke-width="0.9"/>
<line x1="326.50" y1="168.70" x2="330.90" y2="168.70" stroke="#2a2a3a" stroke-width="0.9"/>
<line x1="339.90" y1="168.70" x2="344.30" y2="168.70" stroke="#2a2a3a" stroke-width="0.9"/>
<line x1="353.30" y1="168.70" x2="357.70" y2="168.70" stroke="#2a2a3a" stroke-width="0.9"/>
<line x1="366.70" y1="168.70" x2="371.10" y2="168.70" stroke="#2a2a3a" stroke-width="0.9"/>
<line x1="380.10" y1="168.70" x2="384.50" y2="168.70" stroke="#2a2a3a" stroke-width="0.9"/>
<line x1="253.50" y1="170.40" x2="390.40" y2="170.40" stroke="#333" stroke-width="0.4"/>
<rect x="253.50" y="172.50" width="136.90" height="3.70" fill="#d6d6d6"/>
<rect x="253.50" y="172.50" width="8.60" height="3.70" fill="#1c1c1c"/>
<rect x="262.10" y="172.50" width="37.00" height="3.70" fill="#e6e6e6"/>
<rect x="299.10" y="172.50" width="22.00" height="3.70" fill="#bcbcbc"/>
<rect x="321.10" y="172.50" width="33.60" height="3.70" fill="#e2e2e2"/>
<rect x="354.70" y="172.50" width="35.70" height="3.70" fill="#3c3c3c"/>
<rect x="253.5" y="172.5" width="136.9" height="3.7" fill="none" stroke="#444" stroke-width="0.3"/>
<rect x="0" y="0" width="520" height="1.25" fill="#484848"/>
<rect x="0" y="0" width="1.25" height="631" fill="#484848"/>
<rect x="518.2" y="0" width="1.8" height="631" fill="#484848"/>
<rect x="0" y="629.3" width="520" height="1.7" fill="#484848"/>
</svg>
</body></html>
